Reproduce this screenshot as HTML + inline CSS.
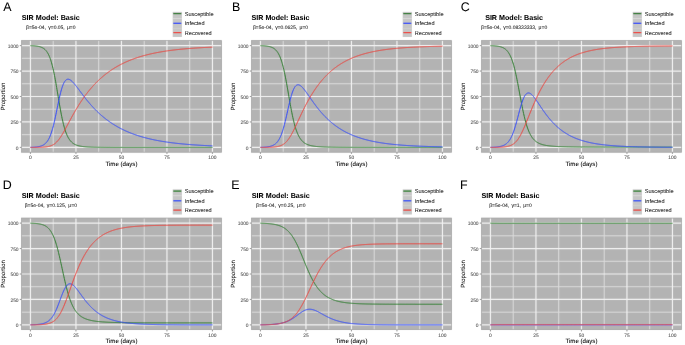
<!DOCTYPE html>
<html><head><meta charset="utf-8"><style>html,body{margin:0;padding:0;background:#fff}svg{display:block;will-change:transform} text{text-rendering:geometricPrecision;stroke-width:0.06px;stroke-linejoin:round}</style></head>
<body><svg xml:space="preserve" width="685" height="345" viewBox="0 0 685 345">
<defs><filter id="bl" x="0" y="0" width="685" height="345" filterUnits="userSpaceOnUse"><feConvolveMatrix order="3" kernelMatrix="0.00276 0.04704 0.00276 0.04704 0.80077 0.04704 0.00276 0.04704 0.00276" edgeMode="duplicate" preserveAlpha="true"/></filter></defs>
<g filter="url(#bl)"><rect width="685" height="345" fill="#fff"/>
<g transform="translate(0,0)">
<rect x="172.7" y="11.9" width="9.2" height="25.1" fill="#c6c6c6"/>
<rect x="172.7" y="18.0" width="9.2" height="0.6" fill="#e4e4e4"/>
<rect x="172.7" y="28.0" width="9.2" height="0.5" fill="#d4d4d4"/>
<line x1="173.3" x2="181.3" y1="13.60" y2="13.60" stroke="#1c771c" stroke-width="1.2"/>
<line x1="173.3" x2="181.3" y1="23.30" y2="23.30" stroke="#1f3dff" stroke-width="1.2"/>
<line x1="173.3" x2="181.3" y1="32.60" y2="32.60" stroke="#f0342c" stroke-width="1.2"/>
<rect x="21.2" y="40.3" width="200.60000000000002" height="112.2" fill="#b3b3b3"/>
<line x1="53.20" x2="53.20" y1="40.3" y2="152.5" stroke="#dcdcdc" stroke-width="1.0"/>
<line x1="98.70" x2="98.70" y1="40.3" y2="152.5" stroke="#dcdcdc" stroke-width="1.0"/>
<line x1="144.20" x2="144.20" y1="40.3" y2="152.5" stroke="#dcdcdc" stroke-width="1.0"/>
<line x1="189.70" x2="189.70" y1="40.3" y2="152.5" stroke="#dcdcdc" stroke-width="1.0"/>
<line y1="134.68" y2="134.68" x1="21.2" x2="221.8" stroke="#dcdcdc" stroke-width="1.0"/>
<line y1="109.22" y2="109.22" x1="21.2" x2="221.8" stroke="#dcdcdc" stroke-width="1.0"/>
<line y1="83.78" y2="83.78" x1="21.2" x2="221.8" stroke="#dcdcdc" stroke-width="1.0"/>
<line y1="58.32" y2="58.32" x1="21.2" x2="221.8" stroke="#dcdcdc" stroke-width="1.0"/>
<line x1="30.45" x2="30.45" y1="40.3" y2="152.5" stroke="#f2f2f2" stroke-width="1.2"/>
<line x1="75.95" x2="75.95" y1="40.3" y2="152.5" stroke="#f2f2f2" stroke-width="1.2"/>
<line x1="121.45" x2="121.45" y1="40.3" y2="152.5" stroke="#f2f2f2" stroke-width="1.2"/>
<line x1="166.95" x2="166.95" y1="40.3" y2="152.5" stroke="#f2f2f2" stroke-width="1.2"/>
<line x1="212.45" x2="212.45" y1="40.3" y2="152.5" stroke="#f2f2f2" stroke-width="1.2"/>
<line y1="147.40" y2="147.40" x1="21.2" x2="221.8" stroke="#f2f2f2" stroke-width="1.2"/>
<line y1="121.95" y2="121.95" x1="21.2" x2="221.8" stroke="#f2f2f2" stroke-width="1.2"/>
<line y1="96.50" y2="96.50" x1="21.2" x2="221.8" stroke="#f2f2f2" stroke-width="1.2"/>
<line y1="71.05" y2="71.05" x1="21.2" x2="221.8" stroke="#f2f2f2" stroke-width="1.2"/>
<line y1="45.60" y2="45.60" x1="21.2" x2="221.8" stroke="#f2f2f2" stroke-width="1.2"/>
<rect x="21.55" y="40.65" width="199.90000000000003" height="111.5" fill="none" stroke="#a4a4a4" stroke-width="0.7"/>
<polyline points="30.45,45.70 30.81,45.71 31.18,45.72 31.54,45.74 31.91,45.75 32.27,45.77 32.63,45.78 33.00,45.80 33.36,45.82 33.73,45.84 34.09,45.87 34.45,45.89 34.82,45.92 35.18,45.95 35.55,45.99 35.91,46.02 36.27,46.06 36.64,46.11 37.00,46.16 37.37,46.21 37.73,46.27 38.09,46.33 38.46,46.40 38.82,46.48 39.19,46.56 39.55,46.65 39.91,46.75 40.28,46.86 40.64,46.98 41.01,47.11 41.37,47.25 41.73,47.40 42.10,47.57 42.46,47.75 42.83,47.95 43.19,48.16 43.55,48.40 43.92,48.65 44.28,48.93 44.65,49.24 45.01,49.56 45.37,49.92 45.74,50.31 46.10,50.73 46.47,51.19 46.83,51.68 47.19,52.22 47.56,52.79 47.92,53.42 48.29,54.09 48.65,54.81 49.01,55.59 49.38,56.43 49.74,57.33 50.11,58.29 50.47,59.31 50.83,60.41 51.20,61.57 51.56,62.81 51.93,64.12 52.29,65.51 52.65,66.97 53.02,68.51 53.38,70.12 53.75,71.81 54.11,73.56 54.47,75.39 54.84,77.28 55.20,79.23 55.57,81.23 55.93,83.29 56.29,85.39 56.66,87.52 57.02,89.68 57.39,91.86 57.75,94.06 58.11,96.25 58.48,98.44 58.84,100.61 59.21,102.77 59.57,104.89 59.93,106.97 60.30,109.02 60.66,111.01 61.03,112.94 61.39,114.82 61.75,116.63 62.12,118.38 62.48,120.05 62.85,121.66 63.21,123.19 63.57,124.65 63.94,126.04 64.30,127.36 64.67,128.61 65.03,129.79 65.39,130.91 65.76,131.96 66.12,132.95 66.49,133.87 66.85,134.75 67.21,135.56 67.58,136.33 67.94,137.05 68.31,137.72 68.67,138.34 69.03,138.93 69.40,139.48 69.76,139.99 70.13,140.46 70.49,140.91 70.85,141.32 71.22,141.71 71.58,142.07 71.95,142.41 72.31,142.72 72.67,143.01 73.04,143.28 73.40,143.54 73.77,143.77 74.13,144.00 74.49,144.20 74.86,144.39 75.22,144.57 75.59,144.74 75.95,144.90 76.31,145.04 76.68,145.18 77.04,145.31 77.41,145.43 77.77,145.54 78.13,145.65 78.50,145.74 78.86,145.83 79.23,145.92 79.59,146.00 79.95,146.08 80.32,146.15 80.68,146.21 81.05,146.28 81.41,146.34 81.77,146.39 82.14,146.44 82.50,146.49 82.87,146.54 83.23,146.58 83.59,146.62 83.96,146.66 84.32,146.69 84.69,146.73 85.05,146.76 85.41,146.79 85.78,146.82 86.14,146.85 86.51,146.87 86.87,146.90 87.23,146.92 87.60,146.94 87.96,146.96 88.33,146.98 88.69,147.00 89.05,147.02 89.42,147.03 89.78,147.05 90.15,147.06 90.51,147.08 90.87,147.09 91.24,147.10 91.60,147.11 91.97,147.13 92.33,147.14 92.69,147.15 93.06,147.16 93.42,147.17 93.79,147.17 94.15,147.18 94.51,147.19 94.88,147.20 95.24,147.21 95.61,147.21 95.97,147.22 96.33,147.23 96.70,147.23 97.06,147.24 97.43,147.24 97.79,147.25 98.15,147.25 98.52,147.26 98.88,147.26 99.25,147.27 99.61,147.27 99.97,147.28 100.34,147.28 100.70,147.28 101.07,147.29 101.43,147.29 101.79,147.30 102.16,147.30 102.52,147.30 102.89,147.30 103.25,147.31 103.61,147.31 103.98,147.31 104.34,147.32 104.71,147.32 105.07,147.32 105.43,147.32 105.80,147.32 106.16,147.33 106.53,147.33 106.89,147.33 107.25,147.33 107.62,147.33 107.98,147.34 108.35,147.34 108.71,147.34 109.07,147.34 109.44,147.34 109.80,147.34 110.17,147.34 110.53,147.35 110.89,147.35 111.26,147.35 111.62,147.35 111.99,147.35 112.35,147.35 112.71,147.35 113.08,147.35 113.44,147.36 113.81,147.36 114.17,147.36 114.53,147.36 114.90,147.36 115.26,147.36 115.63,147.36 115.99,147.36 116.35,147.36 116.72,147.36 117.08,147.36 117.45,147.36 117.81,147.37 118.17,147.37 118.54,147.37 118.90,147.37 119.27,147.37 119.63,147.37 119.99,147.37 120.36,147.37 120.72,147.37 121.09,147.37 121.45,147.37 121.81,147.37 122.18,147.37 122.54,147.37 122.91,147.37 123.27,147.37 123.63,147.37 124.00,147.37 124.36,147.38 124.73,147.38 125.09,147.38 125.45,147.38 125.82,147.38 126.18,147.38 126.55,147.38 126.91,147.38 127.27,147.38 127.64,147.38 128.00,147.38 128.37,147.38 128.73,147.38 129.09,147.38 129.46,147.38 129.82,147.38 130.19,147.38 130.55,147.38 130.91,147.38 131.28,147.38 131.64,147.38 132.01,147.38 132.37,147.38 132.73,147.38 133.10,147.38 133.46,147.38 133.83,147.38 134.19,147.38 134.55,147.38 134.92,147.38 135.28,147.38 135.65,147.38 136.01,147.38 136.37,147.38 136.74,147.38 137.10,147.38 137.47,147.39 137.83,147.39 138.19,147.39 138.56,147.39 138.92,147.39 139.29,147.39 139.65,147.39 140.01,147.39 140.38,147.39 140.74,147.39 141.11,147.39 141.47,147.39 141.83,147.39 142.20,147.39 142.56,147.39 142.93,147.39 143.29,147.39 143.65,147.39 144.02,147.39 144.38,147.39 144.75,147.39 145.11,147.39 145.47,147.39 145.84,147.39 146.20,147.39 146.57,147.39 146.93,147.39 147.29,147.39 147.66,147.39 148.02,147.39 148.39,147.39 148.75,147.39 149.11,147.39 149.48,147.39 149.84,147.39 150.21,147.39 150.57,147.39 150.93,147.39 151.30,147.39 151.66,147.39 152.03,147.39 152.39,147.39 152.75,147.39 153.12,147.39 153.48,147.39 153.85,147.39 154.21,147.39 154.57,147.39 154.94,147.39 155.30,147.39 155.67,147.39 156.03,147.39 156.39,147.39 156.76,147.39 157.12,147.39 157.49,147.39 157.85,147.39 158.21,147.39 158.58,147.39 158.94,147.39 159.31,147.39 159.67,147.39 160.03,147.39 160.40,147.39 160.76,147.39 161.13,147.39 161.49,147.39 161.85,147.39 162.22,147.39 162.58,147.39 162.95,147.39 163.31,147.39 163.67,147.39 164.04,147.39 164.40,147.39 164.77,147.39 165.13,147.39 165.49,147.39 165.86,147.39 166.22,147.39 166.59,147.39 166.95,147.39 167.31,147.39 167.68,147.39 168.04,147.39 168.41,147.39 168.77,147.39 169.13,147.39 169.50,147.39 169.86,147.39 170.23,147.39 170.59,147.39 170.95,147.39 171.32,147.39 171.68,147.39 172.05,147.39 172.41,147.39 172.77,147.39 173.14,147.39 173.50,147.39 173.87,147.39 174.23,147.39 174.59,147.39 174.96,147.39 175.32,147.39 175.69,147.39 176.05,147.39 176.41,147.39 176.78,147.39 177.14,147.39 177.51,147.39 177.87,147.39 178.23,147.39 178.60,147.39 178.96,147.39 179.33,147.39 179.69,147.39 180.05,147.39 180.42,147.39 180.78,147.39 181.15,147.39 181.51,147.39 181.87,147.39 182.24,147.39 182.60,147.39 182.97,147.39 183.33,147.39 183.69,147.39 184.06,147.39 184.42,147.39 184.79,147.39 185.15,147.39 185.51,147.39 185.88,147.39 186.24,147.39 186.61,147.39 186.97,147.39 187.33,147.39 187.70,147.39 188.06,147.39 188.43,147.39 188.79,147.39 189.15,147.39 189.52,147.39 189.88,147.39 190.25,147.39 190.61,147.39 190.97,147.39 191.34,147.39 191.70,147.39 192.07,147.39 192.43,147.39 192.79,147.39 193.16,147.39 193.52,147.39 193.89,147.39 194.25,147.39 194.61,147.39 194.98,147.39 195.34,147.39 195.71,147.39 196.07,147.39 196.43,147.39 196.80,147.39 197.16,147.39 197.53,147.39 197.89,147.39 198.25,147.39 198.62,147.39 198.98,147.39 199.35,147.39 199.71,147.39 200.07,147.39 200.44,147.39 200.80,147.39 201.17,147.39 201.53,147.39 201.89,147.39 202.26,147.39 202.62,147.39 202.99,147.39 203.35,147.39 203.71,147.39 204.08,147.39 204.44,147.39 204.81,147.39 205.17,147.39 205.53,147.39 205.90,147.39 206.26,147.39 206.63,147.39 206.99,147.39 207.35,147.39 207.72,147.39 208.08,147.39 208.45,147.39 208.81,147.39 209.17,147.39 209.54,147.39 209.90,147.39 210.27,147.39 210.63,147.39 210.99,147.39 211.36,147.39 211.72,147.39 212.09,147.39 212.45,147.39" fill="none" stroke="#1c771c" stroke-width="1.0" stroke-linejoin="round"/>
<polyline points="30.45,147.30 30.81,147.29 31.18,147.28 31.54,147.27 31.91,147.25 32.27,147.24 32.63,147.23 33.00,147.21 33.36,147.19 33.73,147.17 34.09,147.15 34.45,147.13 34.82,147.10 35.18,147.07 35.55,147.04 35.91,147.01 36.27,146.97 36.64,146.93 37.00,146.89 37.37,146.84 37.73,146.79 38.09,146.73 38.46,146.67 38.82,146.60 39.19,146.53 39.55,146.44 39.91,146.35 40.28,146.26 40.64,146.15 41.01,146.04 41.37,145.91 41.73,145.77 42.10,145.62 42.46,145.46 42.83,145.28 43.19,145.09 43.55,144.88 43.92,144.65 44.28,144.40 44.65,144.12 45.01,143.83 45.37,143.51 45.74,143.16 46.10,142.79 46.47,142.38 46.83,141.94 47.19,141.46 47.56,140.94 47.92,140.39 48.29,139.79 48.65,139.14 49.01,138.45 49.38,137.71 49.74,136.91 50.11,136.06 50.47,135.15 50.83,134.18 51.20,133.15 51.56,132.06 51.93,130.91 52.29,129.70 52.65,128.42 53.02,127.08 53.38,125.68 53.75,124.21 54.11,122.70 54.47,121.13 54.84,119.51 55.20,117.84 55.57,116.14 55.93,114.41 56.29,112.65 56.66,110.87 57.02,109.08 57.39,107.30 57.75,105.51 58.11,103.75 58.48,102.00 58.84,100.29 59.21,98.62 59.57,96.99 59.93,95.42 60.30,93.90 60.66,92.45 61.03,91.07 61.39,89.77 61.75,88.54 62.12,87.39 62.48,86.32 62.85,85.33 63.21,84.42 63.57,83.59 63.94,82.84 64.30,82.17 64.67,81.58 65.03,81.06 65.39,80.61 65.76,80.23 66.12,79.92 66.49,79.66 66.85,79.47 67.21,79.33 67.58,79.25 67.94,79.21 68.31,79.22 68.67,79.28 69.03,79.37 69.40,79.50 69.76,79.67 70.13,79.87 70.49,80.10 70.85,80.36 71.22,80.64 71.58,80.95 71.95,81.27 72.31,81.62 72.67,81.98 73.04,82.36 73.40,82.76 73.77,83.17 74.13,83.59 74.49,84.02 74.86,84.45 75.22,84.90 75.59,85.36 75.95,85.82 76.31,86.29 76.68,86.76 77.04,87.23 77.41,87.71 77.77,88.20 78.13,88.68 78.50,89.17 78.86,89.66 79.23,90.15 79.59,90.64 79.95,91.12 80.32,91.61 80.68,92.10 81.05,92.59 81.41,93.08 81.77,93.56 82.14,94.05 82.50,94.53 82.87,95.01 83.23,95.49 83.59,95.97 83.96,96.44 84.32,96.91 84.69,97.38 85.05,97.85 85.41,98.31 85.78,98.77 86.14,99.23 86.51,99.68 86.87,100.13 87.23,100.58 87.60,101.02 87.96,101.46 88.33,101.90 88.69,102.34 89.05,102.77 89.42,103.19 89.78,103.62 90.15,104.04 90.51,104.46 90.87,104.87 91.24,105.28 91.60,105.69 91.97,106.09 92.33,106.49 92.69,106.89 93.06,107.28 93.42,107.67 93.79,108.06 94.15,108.44 94.51,108.82 94.88,109.20 95.24,109.57 95.61,109.94 95.97,110.31 96.33,110.67 96.70,111.03 97.06,111.38 97.43,111.74 97.79,112.09 98.15,112.43 98.52,112.78 98.88,113.12 99.25,113.45 99.61,113.79 99.97,114.12 100.34,114.44 100.70,114.77 101.07,115.09 101.43,115.41 101.79,115.72 102.16,116.03 102.52,116.34 102.89,116.65 103.25,116.95 103.61,117.25 103.98,117.55 104.34,117.84 104.71,118.14 105.07,118.43 105.43,118.71 105.80,118.99 106.16,119.28 106.53,119.55 106.89,119.83 107.25,120.10 107.62,120.37 107.98,120.64 108.35,120.90 108.71,121.16 109.07,121.42 109.44,121.68 109.80,121.94 110.17,122.19 110.53,122.44 110.89,122.68 111.26,122.93 111.62,123.17 111.99,123.41 112.35,123.65 112.71,123.88 113.08,124.12 113.44,124.35 113.81,124.58 114.17,124.80 114.53,125.03 114.90,125.25 115.26,125.47 115.63,125.68 115.99,125.90 116.35,126.11 116.72,126.32 117.08,126.53 117.45,126.74 117.81,126.94 118.17,127.15 118.54,127.35 118.90,127.55 119.27,127.74 119.63,127.94 119.99,128.13 120.36,128.32 120.72,128.51 121.09,128.70 121.45,128.89 121.81,129.07 122.18,129.25 122.54,129.43 122.91,129.61 123.27,129.79 123.63,129.96 124.00,130.13 124.36,130.31 124.73,130.48 125.09,130.64 125.45,130.81 125.82,130.97 126.18,131.14 126.55,131.30 126.91,131.46 127.27,131.62 127.64,131.77 128.00,131.93 128.37,132.08 128.73,132.23 129.09,132.39 129.46,132.53 129.82,132.68 130.19,132.83 130.55,132.97 130.91,133.12 131.28,133.26 131.64,133.40 132.01,133.54 132.37,133.68 132.73,133.81 133.10,133.95 133.46,134.08 133.83,134.21 134.19,134.34 134.55,134.47 134.92,134.60 135.28,134.73 135.65,134.85 136.01,134.98 136.37,135.10 136.74,135.22 137.10,135.35 137.47,135.47 137.83,135.58 138.19,135.70 138.56,135.82 138.92,135.93 139.29,136.05 139.65,136.16 140.01,136.27 140.38,136.38 140.74,136.49 141.11,136.60 141.47,136.71 141.83,136.81 142.20,136.92 142.56,137.02 142.93,137.13 143.29,137.23 143.65,137.33 144.02,137.43 144.38,137.53 144.75,137.63 145.11,137.72 145.47,137.82 145.84,137.91 146.20,138.01 146.57,138.10 146.93,138.19 147.29,138.29 147.66,138.38 148.02,138.47 148.39,138.56 148.75,138.64 149.11,138.73 149.48,138.82 149.84,138.90 150.21,138.99 150.57,139.07 150.93,139.15 151.30,139.23 151.66,139.32 152.03,139.40 152.39,139.48 152.75,139.55 153.12,139.63 153.48,139.71 153.85,139.79 154.21,139.86 154.57,139.94 154.94,140.01 155.30,140.08 155.67,140.16 156.03,140.23 156.39,140.30 156.76,140.37 157.12,140.44 157.49,140.51 157.85,140.58 158.21,140.65 158.58,140.71 158.94,140.78 159.31,140.85 159.67,140.91 160.03,140.98 160.40,141.04 160.76,141.10 161.13,141.17 161.49,141.23 161.85,141.29 162.22,141.35 162.58,141.41 162.95,141.47 163.31,141.53 163.67,141.59 164.04,141.64 164.40,141.70 164.77,141.76 165.13,141.81 165.49,141.87 165.86,141.92 166.22,141.98 166.59,142.03 166.95,142.09 167.31,142.14 167.68,142.19 168.04,142.24 168.41,142.29 168.77,142.35 169.13,142.40 169.50,142.45 169.86,142.49 170.23,142.54 170.59,142.59 170.95,142.64 171.32,142.69 171.68,142.73 172.05,142.78 172.41,142.83 172.77,142.87 173.14,142.92 173.50,142.96 173.87,143.01 174.23,143.05 174.59,143.09 174.96,143.14 175.32,143.18 175.69,143.22 176.05,143.26 176.41,143.30 176.78,143.34 177.14,143.38 177.51,143.42 177.87,143.46 178.23,143.50 178.60,143.54 178.96,143.58 179.33,143.62 179.69,143.65 180.05,143.69 180.42,143.73 180.78,143.77 181.15,143.80 181.51,143.84 181.87,143.87 182.24,143.91 182.60,143.94 182.97,143.98 183.33,144.01 183.69,144.04 184.06,144.08 184.42,144.11 184.79,144.14 185.15,144.18 185.51,144.21 185.88,144.24 186.24,144.27 186.61,144.30 186.97,144.33 187.33,144.36 187.70,144.39 188.06,144.42 188.43,144.45 188.79,144.48 189.15,144.51 189.52,144.54 189.88,144.57 190.25,144.60 190.61,144.62 190.97,144.65 191.34,144.68 191.70,144.71 192.07,144.73 192.43,144.76 192.79,144.79 193.16,144.81 193.52,144.84 193.89,144.86 194.25,144.89 194.61,144.91 194.98,144.94 195.34,144.96 195.71,144.99 196.07,145.01 196.43,145.03 196.80,145.06 197.16,145.08 197.53,145.10 197.89,145.13 198.25,145.15 198.62,145.17 198.98,145.19 199.35,145.22 199.71,145.24 200.07,145.26 200.44,145.28 200.80,145.30 201.17,145.32 201.53,145.34 201.89,145.36 202.26,145.38 202.62,145.40 202.99,145.42 203.35,145.44 203.71,145.46 204.08,145.48 204.44,145.50 204.81,145.52 205.17,145.54 205.53,145.56 205.90,145.58 206.26,145.59 206.63,145.61 206.99,145.63 207.35,145.65 207.72,145.67 208.08,145.68 208.45,145.70 208.81,145.72 209.17,145.73 209.54,145.75 209.90,145.77 210.27,145.78 210.63,145.80 210.99,145.81 211.36,145.83 211.72,145.85 212.09,145.86 212.45,145.88" fill="none" stroke="#1f3dff" stroke-width="1.0" stroke-linejoin="round"/>
<polyline points="30.45,147.40 30.81,147.40 31.18,147.40 31.54,147.40 31.91,147.40 32.27,147.39 32.63,147.39 33.00,147.39 33.36,147.39 33.73,147.39 34.09,147.38 34.45,147.38 34.82,147.38 35.18,147.37 35.55,147.37 35.91,147.37 36.27,147.36 36.64,147.36 37.00,147.35 37.37,147.35 37.73,147.34 38.09,147.34 38.46,147.33 38.82,147.32 39.19,147.31 39.55,147.30 39.91,147.29 40.28,147.28 40.64,147.27 41.01,147.26 41.37,147.24 41.73,147.23 42.10,147.21 42.46,147.19 42.83,147.17 43.19,147.15 43.55,147.13 43.92,147.10 44.28,147.07 44.65,147.04 45.01,147.01 45.37,146.97 45.74,146.93 46.10,146.88 46.47,146.84 46.83,146.78 47.19,146.73 47.56,146.66 47.92,146.60 48.29,146.52 48.65,146.44 49.01,146.36 49.38,146.27 49.74,146.16 50.11,146.06 50.47,145.94 50.83,145.81 51.20,145.67 51.56,145.52 51.93,145.37 52.29,145.19 52.65,145.01 53.02,144.82 53.38,144.60 53.75,144.38 54.11,144.14 54.47,143.89 54.84,143.62 55.20,143.33 55.57,143.02 55.93,142.70 56.29,142.36 56.66,142.01 57.02,141.63 57.39,141.24 57.75,140.83 58.11,140.40 58.48,139.96 58.84,139.50 59.21,139.02 59.57,138.52 59.93,138.01 60.30,137.48 60.66,136.94 61.03,136.38 61.39,135.81 61.75,135.23 62.12,134.64 62.48,134.03 62.85,133.41 63.21,132.79 63.57,132.15 63.94,131.51 64.30,130.86 64.67,130.21 65.03,129.55 65.39,128.88 65.76,128.21 66.12,127.54 66.49,126.86 66.85,126.18 67.21,125.50 67.58,124.82 67.94,124.14 68.31,123.46 68.67,122.78 69.03,122.10 69.40,121.42 69.76,120.74 70.13,120.06 70.49,119.39 70.85,118.72 71.22,118.05 71.58,117.38 71.95,116.72 72.31,116.06 72.67,115.40 73.04,114.75 73.40,114.10 73.77,113.46 74.13,112.82 74.49,112.18 74.86,111.55 75.22,110.92 75.59,110.30 75.95,109.68 76.31,109.07 76.68,108.46 77.04,107.86 77.41,107.26 77.77,106.66 78.13,106.07 78.50,105.49 78.86,104.91 79.23,104.33 79.59,103.76 79.95,103.20 80.32,102.64 80.68,102.08 81.05,101.53 81.41,100.99 81.77,100.45 82.14,99.91 82.50,99.38 82.87,98.85 83.23,98.33 83.59,97.81 83.96,97.30 84.32,96.79 84.69,96.29 85.05,95.79 85.41,95.30 85.78,94.81 86.14,94.33 86.51,93.85 86.87,93.37 87.23,92.90 87.60,92.44 87.96,91.98 88.33,91.52 88.69,91.07 89.05,90.62 89.42,90.17 89.78,89.73 90.15,89.30 90.51,88.87 90.87,88.44 91.24,88.02 91.60,87.60 91.97,87.18 92.33,86.77 92.69,86.36 93.06,85.96 93.42,85.56 93.79,85.17 94.15,84.77 94.51,84.39 94.88,84.00 95.24,83.62 95.61,83.25 95.97,82.87 96.33,82.50 96.70,82.14 97.06,81.78 97.43,81.42 97.79,81.06 98.15,80.71 98.52,80.36 98.88,80.02 99.25,79.68 99.61,79.34 99.97,79.01 100.34,78.67 100.70,78.35 101.07,78.02 101.43,77.70 101.79,77.38 102.16,77.07 102.52,76.75 102.89,76.45 103.25,76.14 103.61,75.84 103.98,75.54 104.34,75.24 104.71,74.95 105.07,74.65 105.43,74.37 105.80,74.08 106.16,73.80 106.53,73.52 106.89,73.24 107.25,72.97 107.62,72.70 107.98,72.43 108.35,72.16 108.71,71.90 109.07,71.64 109.44,71.38 109.80,71.12 110.17,70.87 110.53,70.62 110.89,70.37 111.26,70.12 111.62,69.88 111.99,69.64 112.35,69.40 112.71,69.16 113.08,68.93 113.44,68.70 113.81,68.47 114.17,68.24 114.53,68.02 114.90,67.79 115.26,67.57 115.63,67.35 115.99,67.14 116.35,66.92 116.72,66.71 117.08,66.50 117.45,66.30 117.81,66.09 118.17,65.89 118.54,65.68 118.90,65.49 119.27,65.29 119.63,65.09 119.99,64.90 120.36,64.71 120.72,64.52 121.09,64.33 121.45,64.14 121.81,63.96 122.18,63.78 122.54,63.60 122.91,63.42 123.27,63.24 123.63,63.06 124.00,62.89 124.36,62.72 124.73,62.55 125.09,62.38 125.45,62.21 125.82,62.05 126.18,61.89 126.55,61.72 126.91,61.56 127.27,61.40 127.64,61.25 128.00,61.09 128.37,60.94 128.73,60.79 129.09,60.64 129.46,60.49 129.82,60.34 130.19,60.19 130.55,60.05 130.91,59.90 131.28,59.76 131.64,59.62 132.01,59.48 132.37,59.34 132.73,59.21 133.10,59.07 133.46,58.94 133.83,58.80 134.19,58.67 134.55,58.54 134.92,58.41 135.28,58.29 135.65,58.16 136.01,58.04 136.37,57.91 136.74,57.79 137.10,57.67 137.47,57.55 137.83,57.43 138.19,57.31 138.56,57.20 138.92,57.08 139.29,56.97 139.65,56.85 140.01,56.74 140.38,56.63 140.74,56.52 141.11,56.41 141.47,56.31 141.83,56.20 142.20,56.09 142.56,55.99 142.93,55.89 143.29,55.78 143.65,55.68 144.02,55.58 144.38,55.48 144.75,55.39 145.11,55.29 145.47,55.19 145.84,55.10 146.20,55.00 146.57,54.91 146.93,54.82 147.29,54.72 147.66,54.63 148.02,54.54 148.39,54.46 148.75,54.37 149.11,54.28 149.48,54.19 149.84,54.11 150.21,54.02 150.57,53.94 150.93,53.86 151.30,53.78 151.66,53.69 152.03,53.61 152.39,53.53 152.75,53.46 153.12,53.38 153.48,53.30 153.85,53.22 154.21,53.15 154.57,53.07 154.94,53.00 155.30,52.93 155.67,52.85 156.03,52.78 156.39,52.71 156.76,52.64 157.12,52.57 157.49,52.50 157.85,52.43 158.21,52.36 158.58,52.30 158.94,52.23 159.31,52.16 159.67,52.10 160.03,52.03 160.40,51.97 160.76,51.91 161.13,51.84 161.49,51.78 161.85,51.72 162.22,51.66 162.58,51.60 162.95,51.54 163.31,51.48 163.67,51.42 164.04,51.36 164.40,51.31 164.77,51.25 165.13,51.19 165.49,51.14 165.86,51.08 166.22,51.03 166.59,50.97 166.95,50.92 167.31,50.87 167.68,50.82 168.04,50.76 168.41,50.71 168.77,50.66 169.13,50.61 169.50,50.56 169.86,50.51 170.23,50.46 170.59,50.42 170.95,50.37 171.32,50.32 171.68,50.27 172.05,50.23 172.41,50.18 172.77,50.14 173.14,50.09 173.50,50.05 173.87,50.00 174.23,49.96 174.59,49.91 174.96,49.87 175.32,49.83 175.69,49.79 176.05,49.75 176.41,49.70 176.78,49.66 177.14,49.62 177.51,49.58 177.87,49.54 178.23,49.50 178.60,49.47 178.96,49.43 179.33,49.39 179.69,49.35 180.05,49.31 180.42,49.28 180.78,49.24 181.15,49.21 181.51,49.17 181.87,49.13 182.24,49.10 182.60,49.06 182.97,49.03 183.33,49.00 183.69,48.96 184.06,48.93 184.42,48.90 184.79,48.86 185.15,48.83 185.51,48.80 185.88,48.77 186.24,48.74 186.61,48.70 186.97,48.67 187.33,48.64 187.70,48.61 188.06,48.58 188.43,48.55 188.79,48.52 189.15,48.49 189.52,48.47 189.88,48.44 190.25,48.41 190.61,48.38 190.97,48.35 191.34,48.33 191.70,48.30 192.07,48.27 192.43,48.25 192.79,48.22 193.16,48.19 193.52,48.17 193.89,48.14 194.25,48.12 194.61,48.09 194.98,48.07 195.34,48.04 195.71,48.02 196.07,47.99 196.43,47.97 196.80,47.95 197.16,47.92 197.53,47.90 197.89,47.88 198.25,47.86 198.62,47.83 198.98,47.81 199.35,47.79 199.71,47.77 200.07,47.75 200.44,47.72 200.80,47.70 201.17,47.68 201.53,47.66 201.89,47.64 202.26,47.62 202.62,47.60 202.99,47.58 203.35,47.56 203.71,47.54 204.08,47.52 204.44,47.50 204.81,47.48 205.17,47.47 205.53,47.45 205.90,47.43 206.26,47.41 206.63,47.39 206.99,47.38 207.35,47.36 207.72,47.34 208.08,47.32 208.45,47.31 208.81,47.29 209.17,47.27 209.54,47.26 209.90,47.24 210.27,47.22 210.63,47.21 210.99,47.19 211.36,47.18 211.72,47.16 212.09,47.14 212.45,47.13" fill="none" stroke="#f0342c" stroke-width="1.0" stroke-linejoin="round"/>
<line x1="30.45" x2="30.45" y1="152.5" y2="153.9" stroke="#333" stroke-width="0.6"/>
<line x1="75.95" x2="75.95" y1="152.5" y2="153.9" stroke="#333" stroke-width="0.6"/>
<line x1="121.45" x2="121.45" y1="152.5" y2="153.9" stroke="#333" stroke-width="0.6"/>
<line x1="166.95" x2="166.95" y1="152.5" y2="153.9" stroke="#333" stroke-width="0.6"/>
<line x1="212.45" x2="212.45" y1="152.5" y2="153.9" stroke="#333" stroke-width="0.6"/>
<line y1="147.40" y2="147.40" x1="19.8" x2="21.2" stroke="#333" stroke-width="0.6"/>
<line y1="121.95" y2="121.95" x1="19.8" x2="21.2" stroke="#333" stroke-width="0.6"/>
<line y1="96.50" y2="96.50" x1="19.8" x2="21.2" stroke="#333" stroke-width="0.6"/>
<line y1="71.05" y2="71.05" x1="19.8" x2="21.2" stroke="#333" stroke-width="0.6"/>
<line y1="45.60" y2="45.60" x1="19.8" x2="21.2" stroke="#333" stroke-width="0.6"/>
</g>
<g transform="translate(230,0)">
<rect x="172.7" y="11.9" width="9.2" height="25.1" fill="#c6c6c6"/>
<rect x="172.7" y="18.0" width="9.2" height="0.6" fill="#e4e4e4"/>
<rect x="172.7" y="28.0" width="9.2" height="0.5" fill="#d4d4d4"/>
<line x1="173.3" x2="181.3" y1="13.60" y2="13.60" stroke="#1c771c" stroke-width="1.2"/>
<line x1="173.3" x2="181.3" y1="23.30" y2="23.30" stroke="#1f3dff" stroke-width="1.2"/>
<line x1="173.3" x2="181.3" y1="32.60" y2="32.60" stroke="#f0342c" stroke-width="1.2"/>
<rect x="21.2" y="40.3" width="200.60000000000002" height="112.2" fill="#b3b3b3"/>
<line x1="53.20" x2="53.20" y1="40.3" y2="152.5" stroke="#dcdcdc" stroke-width="1.0"/>
<line x1="98.70" x2="98.70" y1="40.3" y2="152.5" stroke="#dcdcdc" stroke-width="1.0"/>
<line x1="144.20" x2="144.20" y1="40.3" y2="152.5" stroke="#dcdcdc" stroke-width="1.0"/>
<line x1="189.70" x2="189.70" y1="40.3" y2="152.5" stroke="#dcdcdc" stroke-width="1.0"/>
<line y1="134.68" y2="134.68" x1="21.2" x2="221.8" stroke="#dcdcdc" stroke-width="1.0"/>
<line y1="109.22" y2="109.22" x1="21.2" x2="221.8" stroke="#dcdcdc" stroke-width="1.0"/>
<line y1="83.78" y2="83.78" x1="21.2" x2="221.8" stroke="#dcdcdc" stroke-width="1.0"/>
<line y1="58.32" y2="58.32" x1="21.2" x2="221.8" stroke="#dcdcdc" stroke-width="1.0"/>
<line x1="30.45" x2="30.45" y1="40.3" y2="152.5" stroke="#f2f2f2" stroke-width="1.2"/>
<line x1="75.95" x2="75.95" y1="40.3" y2="152.5" stroke="#f2f2f2" stroke-width="1.2"/>
<line x1="121.45" x2="121.45" y1="40.3" y2="152.5" stroke="#f2f2f2" stroke-width="1.2"/>
<line x1="166.95" x2="166.95" y1="40.3" y2="152.5" stroke="#f2f2f2" stroke-width="1.2"/>
<line x1="212.45" x2="212.45" y1="40.3" y2="152.5" stroke="#f2f2f2" stroke-width="1.2"/>
<line y1="147.40" y2="147.40" x1="21.2" x2="221.8" stroke="#f2f2f2" stroke-width="1.2"/>
<line y1="121.95" y2="121.95" x1="21.2" x2="221.8" stroke="#f2f2f2" stroke-width="1.2"/>
<line y1="96.50" y2="96.50" x1="21.2" x2="221.8" stroke="#f2f2f2" stroke-width="1.2"/>
<line y1="71.05" y2="71.05" x1="21.2" x2="221.8" stroke="#f2f2f2" stroke-width="1.2"/>
<line y1="45.60" y2="45.60" x1="21.2" x2="221.8" stroke="#f2f2f2" stroke-width="1.2"/>
<rect x="21.55" y="40.65" width="199.90000000000003" height="111.5" fill="none" stroke="#a4a4a4" stroke-width="0.7"/>
<polyline points="30.45,45.70 30.81,45.71 31.18,45.72 31.54,45.74 31.91,45.75 32.27,45.77 32.63,45.78 33.00,45.80 33.36,45.82 33.73,45.84 34.09,45.86 34.45,45.89 34.82,45.92 35.18,45.95 35.55,45.98 35.91,46.02 36.27,46.06 36.64,46.10 37.00,46.15 37.37,46.20 37.73,46.25 38.09,46.31 38.46,46.38 38.82,46.45 39.19,46.53 39.55,46.61 39.91,46.71 40.28,46.81 40.64,46.92 41.01,47.04 41.37,47.17 41.73,47.31 42.10,47.46 42.46,47.63 42.83,47.82 43.19,48.01 43.55,48.23 43.92,48.46 44.28,48.72 44.65,49.00 45.01,49.29 45.37,49.62 45.74,49.97 46.10,50.35 46.47,50.76 46.83,51.21 47.19,51.69 47.56,52.21 47.92,52.77 48.29,53.38 48.65,54.02 49.01,54.72 49.38,55.47 49.74,56.27 50.11,57.13 50.47,58.05 50.83,59.03 51.20,60.07 51.56,61.18 51.93,62.36 52.29,63.60 52.65,64.92 53.02,66.30 53.38,67.75 53.75,69.28 54.11,70.87 54.47,72.53 54.84,74.26 55.20,76.05 55.57,77.90 55.93,79.80 56.29,81.75 56.66,83.74 57.02,85.77 57.39,87.83 57.75,89.91 58.11,92.01 58.48,94.12 58.84,96.23 59.21,98.33 59.57,100.41 59.93,102.48 60.30,104.51 60.66,106.51 61.03,108.47 61.39,110.38 61.75,112.25 62.12,114.05 62.48,115.80 62.85,117.49 63.21,119.11 63.57,120.67 63.94,122.16 64.30,123.58 64.67,124.94 65.03,126.24 65.39,127.47 65.76,128.63 66.12,129.74 66.49,130.78 66.85,131.76 67.21,132.69 67.58,133.57 67.94,134.40 68.31,135.17 68.67,135.90 69.03,136.59 69.40,137.23 69.76,137.83 70.13,138.40 70.49,138.93 70.85,139.43 71.22,139.89 71.58,140.33 71.95,140.74 72.31,141.12 72.67,141.48 73.04,141.81 73.40,142.13 73.77,142.42 74.13,142.70 74.49,142.96 74.86,143.20 75.22,143.43 75.59,143.64 75.95,143.84 76.31,144.03 76.68,144.21 77.04,144.38 77.41,144.53 77.77,144.68 78.13,144.81 78.50,144.94 78.86,145.07 79.23,145.18 79.59,145.29 79.95,145.39 80.32,145.48 80.68,145.58 81.05,145.66 81.41,145.74 81.77,145.82 82.14,145.89 82.50,145.95 82.87,146.02 83.23,146.08 83.59,146.14 83.96,146.19 84.32,146.24 84.69,146.29 85.05,146.34 85.41,146.38 85.78,146.42 86.14,146.46 86.51,146.50 86.87,146.53 87.23,146.57 87.60,146.60 87.96,146.63 88.33,146.66 88.69,146.68 89.05,146.71 89.42,146.73 89.78,146.76 90.15,146.78 90.51,146.80 90.87,146.82 91.24,146.84 91.60,146.86 91.97,146.88 92.33,146.90 92.69,146.91 93.06,146.93 93.42,146.94 93.79,146.96 94.15,146.97 94.51,146.98 94.88,147.00 95.24,147.01 95.61,147.02 95.97,147.03 96.33,147.04 96.70,147.05 97.06,147.06 97.43,147.07 97.79,147.08 98.15,147.09 98.52,147.10 98.88,147.11 99.25,147.11 99.61,147.12 99.97,147.13 100.34,147.13 100.70,147.14 101.07,147.15 101.43,147.15 101.79,147.16 102.16,147.17 102.52,147.17 102.89,147.18 103.25,147.18 103.61,147.19 103.98,147.19 104.34,147.20 104.71,147.20 105.07,147.20 105.43,147.21 105.80,147.21 106.16,147.22 106.53,147.22 106.89,147.22 107.25,147.23 107.62,147.23 107.98,147.23 108.35,147.24 108.71,147.24 109.07,147.24 109.44,147.25 109.80,147.25 110.17,147.25 110.53,147.25 110.89,147.26 111.26,147.26 111.62,147.26 111.99,147.26 112.35,147.27 112.71,147.27 113.08,147.27 113.44,147.27 113.81,147.28 114.17,147.28 114.53,147.28 114.90,147.28 115.26,147.28 115.63,147.28 115.99,147.29 116.35,147.29 116.72,147.29 117.08,147.29 117.45,147.29 117.81,147.29 118.17,147.30 118.54,147.30 118.90,147.30 119.27,147.30 119.63,147.30 119.99,147.30 120.36,147.30 120.72,147.30 121.09,147.31 121.45,147.31 121.81,147.31 122.18,147.31 122.54,147.31 122.91,147.31 123.27,147.31 123.63,147.31 124.00,147.31 124.36,147.32 124.73,147.32 125.09,147.32 125.45,147.32 125.82,147.32 126.18,147.32 126.55,147.32 126.91,147.32 127.27,147.32 127.64,147.32 128.00,147.32 128.37,147.32 128.73,147.33 129.09,147.33 129.46,147.33 129.82,147.33 130.19,147.33 130.55,147.33 130.91,147.33 131.28,147.33 131.64,147.33 132.01,147.33 132.37,147.33 132.73,147.33 133.10,147.33 133.46,147.33 133.83,147.33 134.19,147.33 134.55,147.34 134.92,147.34 135.28,147.34 135.65,147.34 136.01,147.34 136.37,147.34 136.74,147.34 137.10,147.34 137.47,147.34 137.83,147.34 138.19,147.34 138.56,147.34 138.92,147.34 139.29,147.34 139.65,147.34 140.01,147.34 140.38,147.34 140.74,147.34 141.11,147.34 141.47,147.34 141.83,147.34 142.20,147.34 142.56,147.34 142.93,147.34 143.29,147.35 143.65,147.35 144.02,147.35 144.38,147.35 144.75,147.35 145.11,147.35 145.47,147.35 145.84,147.35 146.20,147.35 146.57,147.35 146.93,147.35 147.29,147.35 147.66,147.35 148.02,147.35 148.39,147.35 148.75,147.35 149.11,147.35 149.48,147.35 149.84,147.35 150.21,147.35 150.57,147.35 150.93,147.35 151.30,147.35 151.66,147.35 152.03,147.35 152.39,147.35 152.75,147.35 153.12,147.35 153.48,147.35 153.85,147.35 154.21,147.35 154.57,147.35 154.94,147.35 155.30,147.35 155.67,147.35 156.03,147.35 156.39,147.35 156.76,147.35 157.12,147.35 157.49,147.35 157.85,147.35 158.21,147.35 158.58,147.35 158.94,147.35 159.31,147.36 159.67,147.36 160.03,147.36 160.40,147.36 160.76,147.36 161.13,147.36 161.49,147.36 161.85,147.36 162.22,147.36 162.58,147.36 162.95,147.36 163.31,147.36 163.67,147.36 164.04,147.36 164.40,147.36 164.77,147.36 165.13,147.36 165.49,147.36 165.86,147.36 166.22,147.36 166.59,147.36 166.95,147.36 167.31,147.36 167.68,147.36 168.04,147.36 168.41,147.36 168.77,147.36 169.13,147.36 169.50,147.36 169.86,147.36 170.23,147.36 170.59,147.36 170.95,147.36 171.32,147.36 171.68,147.36 172.05,147.36 172.41,147.36 172.77,147.36 173.14,147.36 173.50,147.36 173.87,147.36 174.23,147.36 174.59,147.36 174.96,147.36 175.32,147.36 175.69,147.36 176.05,147.36 176.41,147.36 176.78,147.36 177.14,147.36 177.51,147.36 177.87,147.36 178.23,147.36 178.60,147.36 178.96,147.36 179.33,147.36 179.69,147.36 180.05,147.36 180.42,147.36 180.78,147.36 181.15,147.36 181.51,147.36 181.87,147.36 182.24,147.36 182.60,147.36 182.97,147.36 183.33,147.36 183.69,147.36 184.06,147.36 184.42,147.36 184.79,147.36 185.15,147.36 185.51,147.36 185.88,147.36 186.24,147.36 186.61,147.36 186.97,147.36 187.33,147.36 187.70,147.36 188.06,147.36 188.43,147.36 188.79,147.36 189.15,147.36 189.52,147.36 189.88,147.36 190.25,147.36 190.61,147.36 190.97,147.36 191.34,147.36 191.70,147.36 192.07,147.36 192.43,147.36 192.79,147.36 193.16,147.36 193.52,147.36 193.89,147.36 194.25,147.36 194.61,147.36 194.98,147.36 195.34,147.36 195.71,147.36 196.07,147.36 196.43,147.36 196.80,147.36 197.16,147.36 197.53,147.36 197.89,147.36 198.25,147.36 198.62,147.36 198.98,147.36 199.35,147.36 199.71,147.36 200.07,147.36 200.44,147.36 200.80,147.36 201.17,147.36 201.53,147.36 201.89,147.36 202.26,147.36 202.62,147.36 202.99,147.36 203.35,147.36 203.71,147.36 204.08,147.36 204.44,147.36 204.81,147.36 205.17,147.36 205.53,147.36 205.90,147.36 206.26,147.36 206.63,147.36 206.99,147.36 207.35,147.36 207.72,147.36 208.08,147.36 208.45,147.36 208.81,147.36 209.17,147.36 209.54,147.36 209.90,147.36 210.27,147.36 210.63,147.36 210.99,147.36 211.36,147.36 211.72,147.36 212.09,147.36 212.45,147.36" fill="none" stroke="#1c771c" stroke-width="1.0" stroke-linejoin="round"/>
<polyline points="30.45,147.30 30.81,147.29 31.18,147.28 31.54,147.27 31.91,147.26 32.27,147.24 32.63,147.23 33.00,147.21 33.36,147.20 33.73,147.18 34.09,147.16 34.45,147.13 34.82,147.11 35.18,147.08 35.55,147.05 35.91,147.02 36.27,146.99 36.64,146.95 37.00,146.91 37.37,146.87 37.73,146.82 38.09,146.76 38.46,146.71 38.82,146.64 39.19,146.58 39.55,146.50 39.91,146.42 40.28,146.33 40.64,146.24 41.01,146.13 41.37,146.02 41.73,145.89 42.10,145.76 42.46,145.61 42.83,145.45 43.19,145.28 43.55,145.09 43.92,144.89 44.28,144.66 44.65,144.42 45.01,144.16 45.37,143.88 45.74,143.57 46.10,143.24 46.47,142.88 46.83,142.50 47.19,142.08 47.56,141.63 47.92,141.15 48.29,140.62 48.65,140.06 49.01,139.46 49.38,138.81 49.74,138.12 50.11,137.38 50.47,136.60 50.83,135.76 51.20,134.87 51.56,133.92 51.93,132.92 52.29,131.86 52.65,130.75 53.02,129.58 53.38,128.36 53.75,127.08 54.11,125.75 54.47,124.36 54.84,122.93 55.20,121.46 55.57,119.95 55.93,118.40 56.29,116.82 56.66,115.22 57.02,113.61 57.39,111.98 57.75,110.35 58.11,108.72 58.48,107.11 58.84,105.51 59.21,103.95 59.57,102.41 59.93,100.92 60.30,99.47 60.66,98.08 61.03,96.75 61.39,95.48 61.75,94.27 62.12,93.14 62.48,92.07 62.85,91.08 63.21,90.17 63.57,89.33 63.94,88.57 64.30,87.89 64.67,87.28 65.03,86.74 65.39,86.27 65.76,85.87 66.12,85.54 66.49,85.27 66.85,85.06 67.21,84.91 67.58,84.82 67.94,84.78 68.31,84.78 68.67,84.84 69.03,84.93 69.40,85.07 69.76,85.24 70.13,85.45 70.49,85.70 70.85,85.97 71.22,86.27 71.58,86.60 71.95,86.94 72.31,87.31 72.67,87.70 73.04,88.11 73.40,88.54 73.77,88.97 74.13,89.42 74.49,89.89 74.86,90.36 75.22,90.84 75.59,91.33 75.95,91.83 76.31,92.33 76.68,92.84 77.04,93.36 77.41,93.87 77.77,94.39 78.13,94.91 78.50,95.44 78.86,95.96 79.23,96.49 79.59,97.01 79.95,97.54 80.32,98.06 80.68,98.59 81.05,99.11 81.41,99.63 81.77,100.15 82.14,100.66 82.50,101.17 82.87,101.69 83.23,102.19 83.59,102.70 83.96,103.20 84.32,103.70 84.69,104.19 85.05,104.68 85.41,105.17 85.78,105.66 86.14,106.13 86.51,106.61 86.87,107.08 87.23,107.55 87.60,108.01 87.96,108.47 88.33,108.93 88.69,109.38 89.05,109.82 89.42,110.27 89.78,110.70 90.15,111.14 90.51,111.57 90.87,111.99 91.24,112.41 91.60,112.83 91.97,113.24 92.33,113.65 92.69,114.05 93.06,114.45 93.42,114.84 93.79,115.23 94.15,115.62 94.51,116.00 94.88,116.38 95.24,116.75 95.61,117.12 95.97,117.49 96.33,117.85 96.70,118.20 97.06,118.56 97.43,118.91 97.79,119.25 98.15,119.59 98.52,119.93 98.88,120.26 99.25,120.59 99.61,120.92 99.97,121.24 100.34,121.56 100.70,121.87 101.07,122.18 101.43,122.49 101.79,122.79 102.16,123.09 102.52,123.39 102.89,123.68 103.25,123.97 103.61,124.26 103.98,124.54 104.34,124.82 104.71,125.10 105.07,125.37 105.43,125.64 105.80,125.91 106.16,126.17 106.53,126.43 106.89,126.69 107.25,126.94 107.62,127.19 107.98,127.44 108.35,127.68 108.71,127.92 109.07,128.16 109.44,128.40 109.80,128.63 110.17,128.86 110.53,129.09 110.89,129.32 111.26,129.54 111.62,129.76 111.99,129.97 112.35,130.19 112.71,130.40 113.08,130.61 113.44,130.82 113.81,131.02 114.17,131.22 114.53,131.42 114.90,131.62 115.26,131.81 115.63,132.00 115.99,132.19 116.35,132.38 116.72,132.56 117.08,132.75 117.45,132.93 117.81,133.11 118.17,133.28 118.54,133.46 118.90,133.63 119.27,133.80 119.63,133.97 119.99,134.13 120.36,134.29 120.72,134.46 121.09,134.62 121.45,134.77 121.81,134.93 122.18,135.08 122.54,135.23 122.91,135.39 123.27,135.53 123.63,135.68 124.00,135.82 124.36,135.97 124.73,136.11 125.09,136.25 125.45,136.39 125.82,136.52 126.18,136.66 126.55,136.79 126.91,136.92 127.27,137.05 127.64,137.18 128.00,137.30 128.37,137.43 128.73,137.55 129.09,137.67 129.46,137.79 129.82,137.91 130.19,138.03 130.55,138.14 130.91,138.26 131.28,138.37 131.64,138.48 132.01,138.59 132.37,138.70 132.73,138.81 133.10,138.92 133.46,139.02 133.83,139.12 134.19,139.23 134.55,139.33 134.92,139.43 135.28,139.53 135.65,139.62 136.01,139.72 136.37,139.81 136.74,139.91 137.10,140.00 137.47,140.09 137.83,140.18 138.19,140.27 138.56,140.36 138.92,140.45 139.29,140.53 139.65,140.62 140.01,140.70 140.38,140.78 140.74,140.87 141.11,140.95 141.47,141.03 141.83,141.11 142.20,141.18 142.56,141.26 142.93,141.34 143.29,141.41 143.65,141.49 144.02,141.56 144.38,141.63 144.75,141.70 145.11,141.77 145.47,141.84 145.84,141.91 146.20,141.98 146.57,142.05 146.93,142.11 147.29,142.18 147.66,142.24 148.02,142.31 148.39,142.37 148.75,142.43 149.11,142.49 149.48,142.55 149.84,142.61 150.21,142.67 150.57,142.73 150.93,142.79 151.30,142.85 151.66,142.90 152.03,142.96 152.39,143.01 152.75,143.07 153.12,143.12 153.48,143.17 153.85,143.23 154.21,143.28 154.57,143.33 154.94,143.38 155.30,143.43 155.67,143.48 156.03,143.53 156.39,143.57 156.76,143.62 157.12,143.67 157.49,143.71 157.85,143.76 158.21,143.81 158.58,143.85 158.94,143.89 159.31,143.94 159.67,143.98 160.03,144.02 160.40,144.06 160.76,144.11 161.13,144.15 161.49,144.19 161.85,144.23 162.22,144.27 162.58,144.30 162.95,144.34 163.31,144.38 163.67,144.42 164.04,144.46 164.40,144.49 164.77,144.53 165.13,144.56 165.49,144.60 165.86,144.63 166.22,144.67 166.59,144.70 166.95,144.73 167.31,144.77 167.68,144.80 168.04,144.83 168.41,144.86 168.77,144.90 169.13,144.93 169.50,144.96 169.86,144.99 170.23,145.02 170.59,145.05 170.95,145.08 171.32,145.10 171.68,145.13 172.05,145.16 172.41,145.19 172.77,145.22 173.14,145.24 173.50,145.27 173.87,145.30 174.23,145.32 174.59,145.35 174.96,145.37 175.32,145.40 175.69,145.42 176.05,145.45 176.41,145.47 176.78,145.50 177.14,145.52 177.51,145.54 177.87,145.57 178.23,145.59 178.60,145.61 178.96,145.63 179.33,145.65 179.69,145.68 180.05,145.70 180.42,145.72 180.78,145.74 181.15,145.76 181.51,145.78 181.87,145.80 182.24,145.82 182.60,145.84 182.97,145.86 183.33,145.88 183.69,145.90 184.06,145.92 184.42,145.93 184.79,145.95 185.15,145.97 185.51,145.99 185.88,146.01 186.24,146.02 186.61,146.04 186.97,146.06 187.33,146.07 187.70,146.09 188.06,146.11 188.43,146.12 188.79,146.14 189.15,146.15 189.52,146.17 189.88,146.18 190.25,146.20 190.61,146.21 190.97,146.23 191.34,146.24 191.70,146.26 192.07,146.27 192.43,146.29 192.79,146.30 193.16,146.31 193.52,146.33 193.89,146.34 194.25,146.35 194.61,146.37 194.98,146.38 195.34,146.39 195.71,146.40 196.07,146.42 196.43,146.43 196.80,146.44 197.16,146.45 197.53,146.46 197.89,146.48 198.25,146.49 198.62,146.50 198.98,146.51 199.35,146.52 199.71,146.53 200.07,146.54 200.44,146.55 200.80,146.56 201.17,146.57 201.53,146.58 201.89,146.59 202.26,146.60 202.62,146.61 202.99,146.62 203.35,146.63 203.71,146.64 204.08,146.65 204.44,146.66 204.81,146.67 205.17,146.68 205.53,146.69 205.90,146.70 206.26,146.71 206.63,146.71 206.99,146.72 207.35,146.73 207.72,146.74 208.08,146.75 208.45,146.76 208.81,146.76 209.17,146.77 209.54,146.78 209.90,146.79 210.27,146.80 210.63,146.80 210.99,146.81 211.36,146.82 211.72,146.82 212.09,146.83 212.45,146.84" fill="none" stroke="#1f3dff" stroke-width="1.0" stroke-linejoin="round"/>
<polyline points="30.45,147.40 30.81,147.40 31.18,147.40 31.54,147.40 31.91,147.39 32.27,147.39 32.63,147.39 33.00,147.39 33.36,147.39 33.73,147.38 34.09,147.38 34.45,147.38 34.82,147.37 35.18,147.37 35.55,147.37 35.91,147.36 36.27,147.36 36.64,147.35 37.00,147.34 37.37,147.34 37.73,147.33 38.09,147.32 38.46,147.32 38.82,147.31 39.19,147.30 39.55,147.29 39.91,147.27 40.28,147.26 40.64,147.25 41.01,147.23 41.37,147.22 41.73,147.20 42.10,147.18 42.46,147.16 42.83,147.13 43.19,147.11 43.55,147.08 43.92,147.05 44.28,147.02 44.65,146.98 45.01,146.94 45.37,146.90 45.74,146.85 46.10,146.80 46.47,146.75 46.83,146.69 47.19,146.63 47.56,146.56 47.92,146.48 48.29,146.40 48.65,146.31 49.01,146.22 49.38,146.11 49.74,146.00 50.11,145.88 50.47,145.75 50.83,145.61 51.20,145.46 51.56,145.30 51.93,145.12 52.29,144.94 52.65,144.74 53.02,144.52 53.38,144.29 53.75,144.04 54.11,143.78 54.47,143.50 54.84,143.21 55.20,142.89 55.57,142.56 55.93,142.20 56.29,141.83 56.66,141.44 57.02,141.03 57.39,140.59 57.75,140.14 58.11,139.67 58.48,139.17 58.84,138.66 59.21,138.13 59.57,137.57 59.93,137.00 60.30,136.41 60.66,135.81 61.03,135.18 61.39,134.54 61.75,133.88 62.12,133.21 62.48,132.53 62.85,131.83 63.21,131.12 63.57,130.40 63.94,129.67 64.30,128.93 64.67,128.18 65.03,127.42 65.39,126.66 65.76,125.90 66.12,125.13 66.49,124.35 66.85,123.57 67.21,122.79 67.58,122.01 67.94,121.23 68.31,120.45 68.67,119.66 69.03,118.88 69.40,118.10 69.76,117.32 70.13,116.55 70.49,115.77 70.85,115.01 71.22,114.24 71.58,113.48 71.95,112.72 72.31,111.97 72.67,111.22 73.04,110.47 73.40,109.73 73.77,109.00 74.13,108.27 74.49,107.55 74.86,106.84 75.22,106.13 75.59,105.42 75.95,104.72 76.31,104.03 76.68,103.35 77.04,102.67 77.41,102.00 77.77,101.33 78.13,100.67 78.50,100.02 78.86,99.37 79.23,98.73 79.59,98.10 79.95,97.47 80.32,96.85 80.68,96.24 81.05,95.63 81.41,95.03 81.77,94.44 82.14,93.85 82.50,93.27 82.87,92.70 83.23,92.13 83.59,91.57 83.96,91.01 84.32,90.46 84.69,89.92 85.05,89.38 85.41,88.85 85.78,88.32 86.14,87.81 86.51,87.29 86.87,86.79 87.23,86.28 87.60,85.79 87.96,85.30 88.33,84.82 88.69,84.34 89.05,83.87 89.42,83.40 89.78,82.94 90.15,82.48 90.51,82.03 90.87,81.59 91.24,81.15 91.60,80.71 91.97,80.28 92.33,79.86 92.69,79.44 93.06,79.02 93.42,78.61 93.79,78.21 94.15,77.81 94.51,77.41 94.88,77.02 95.24,76.64 95.61,76.26 95.97,75.88 96.33,75.51 96.70,75.14 97.06,74.78 97.43,74.42 97.79,74.07 98.15,73.72 98.52,73.37 98.88,73.03 99.25,72.69 99.61,72.36 99.97,72.03 100.34,71.71 100.70,71.39 101.07,71.07 101.43,70.76 101.79,70.45 102.16,70.14 102.52,69.84 102.89,69.54 103.25,69.25 103.61,68.95 103.98,68.67 104.34,68.38 104.71,68.10 105.07,67.83 105.43,67.55 105.80,67.28 106.16,67.01 106.53,66.75 106.89,66.49 107.25,66.23 107.62,65.98 107.98,65.73 108.35,65.48 108.71,65.23 109.07,64.99 109.44,64.75 109.80,64.52 110.17,64.28 110.53,64.05 110.89,63.83 111.26,63.60 111.62,63.38 111.99,63.16 112.35,62.94 112.71,62.73 113.08,62.52 113.44,62.31 113.81,62.11 114.17,61.90 114.53,61.70 114.90,61.50 115.26,61.31 115.63,61.11 115.99,60.92 116.35,60.73 116.72,60.55 117.08,60.36 117.45,60.18 117.81,60.00 118.17,59.82 118.54,59.65 118.90,59.47 119.27,59.30 119.63,59.13 119.99,58.97 120.36,58.80 120.72,58.64 121.09,58.48 121.45,58.32 121.81,58.16 122.18,58.01 122.54,57.85 122.91,57.70 123.27,57.55 123.63,57.41 124.00,57.26 124.36,57.12 124.73,56.98 125.09,56.83 125.45,56.70 125.82,56.56 126.18,56.42 126.55,56.29 126.91,56.16 127.27,56.03 127.64,55.90 128.00,55.77 128.37,55.65 128.73,55.52 129.09,55.40 129.46,55.28 129.82,55.16 130.19,55.04 130.55,54.93 130.91,54.81 131.28,54.70 131.64,54.59 132.01,54.48 132.37,54.37 132.73,54.26 133.10,54.15 133.46,54.05 133.83,53.94 134.19,53.84 134.55,53.74 134.92,53.64 135.28,53.54 135.65,53.44 136.01,53.34 136.37,53.25 136.74,53.15 137.10,53.06 137.47,52.97 137.83,52.88 138.19,52.79 138.56,52.70 138.92,52.61 139.29,52.53 139.65,52.44 140.01,52.36 140.38,52.27 140.74,52.19 141.11,52.11 141.47,52.03 141.83,51.95 142.20,51.87 142.56,51.80 142.93,51.72 143.29,51.64 143.65,51.57 144.02,51.50 144.38,51.42 144.75,51.35 145.11,51.28 145.47,51.21 145.84,51.14 146.20,51.07 146.57,51.01 146.93,50.94 147.29,50.87 147.66,50.81 148.02,50.75 148.39,50.68 148.75,50.62 149.11,50.56 149.48,50.50 149.84,50.44 150.21,50.38 150.57,50.32 150.93,50.26 151.30,50.20 151.66,50.15 152.03,50.09 152.39,50.04 152.75,49.98 153.12,49.93 153.48,49.87 153.85,49.82 154.21,49.77 154.57,49.72 154.94,49.67 155.30,49.62 155.67,49.57 156.03,49.52 156.39,49.47 156.76,49.42 157.12,49.38 157.49,49.33 157.85,49.29 158.21,49.24 158.58,49.20 158.94,49.15 159.31,49.11 159.67,49.06 160.03,49.02 160.40,48.98 160.76,48.94 161.13,48.90 161.49,48.86 161.85,48.82 162.22,48.78 162.58,48.74 162.95,48.70 163.31,48.66 163.67,48.63 164.04,48.59 164.40,48.55 164.77,48.52 165.13,48.48 165.49,48.44 165.86,48.41 166.22,48.38 166.59,48.34 166.95,48.31 167.31,48.27 167.68,48.24 168.04,48.21 168.41,48.18 168.77,48.15 169.13,48.12 169.50,48.08 169.86,48.05 170.23,48.02 170.59,47.99 170.95,47.97 171.32,47.94 171.68,47.91 172.05,47.88 172.41,47.85 172.77,47.82 173.14,47.80 173.50,47.77 173.87,47.74 174.23,47.72 174.59,47.69 174.96,47.67 175.32,47.64 175.69,47.62 176.05,47.59 176.41,47.57 176.78,47.54 177.14,47.52 177.51,47.50 177.87,47.47 178.23,47.45 178.60,47.43 178.96,47.41 179.33,47.38 179.69,47.36 180.05,47.34 180.42,47.32 180.78,47.30 181.15,47.28 181.51,47.26 181.87,47.24 182.24,47.22 182.60,47.20 182.97,47.18 183.33,47.16 183.69,47.14 184.06,47.12 184.42,47.10 184.79,47.09 185.15,47.07 185.51,47.05 185.88,47.03 186.24,47.02 186.61,47.00 186.97,46.98 187.33,46.96 187.70,46.95 188.06,46.93 188.43,46.92 188.79,46.90 189.15,46.88 189.52,46.87 189.88,46.85 190.25,46.84 190.61,46.82 190.97,46.81 191.34,46.79 191.70,46.78 192.07,46.77 192.43,46.75 192.79,46.74 193.16,46.72 193.52,46.71 193.89,46.70 194.25,46.68 194.61,46.67 194.98,46.66 195.34,46.65 195.71,46.63 196.07,46.62 196.43,46.61 196.80,46.60 197.16,46.58 197.53,46.57 197.89,46.56 198.25,46.55 198.62,46.54 198.98,46.53 199.35,46.52 199.71,46.51 200.07,46.49 200.44,46.48 200.80,46.47 201.17,46.46 201.53,46.45 201.89,46.44 202.26,46.43 202.62,46.42 202.99,46.41 203.35,46.40 203.71,46.39 204.08,46.38 204.44,46.37 204.81,46.37 205.17,46.36 205.53,46.35 205.90,46.34 206.26,46.33 206.63,46.32 206.99,46.31 207.35,46.30 207.72,46.30 208.08,46.29 208.45,46.28 208.81,46.27 209.17,46.26 209.54,46.26 209.90,46.25 210.27,46.24 210.63,46.23 210.99,46.23 211.36,46.22 211.72,46.21 212.09,46.20 212.45,46.20" fill="none" stroke="#f0342c" stroke-width="1.0" stroke-linejoin="round"/>
<line x1="30.45" x2="30.45" y1="152.5" y2="153.9" stroke="#333" stroke-width="0.6"/>
<line x1="75.95" x2="75.95" y1="152.5" y2="153.9" stroke="#333" stroke-width="0.6"/>
<line x1="121.45" x2="121.45" y1="152.5" y2="153.9" stroke="#333" stroke-width="0.6"/>
<line x1="166.95" x2="166.95" y1="152.5" y2="153.9" stroke="#333" stroke-width="0.6"/>
<line x1="212.45" x2="212.45" y1="152.5" y2="153.9" stroke="#333" stroke-width="0.6"/>
<line y1="147.40" y2="147.40" x1="19.8" x2="21.2" stroke="#333" stroke-width="0.6"/>
<line y1="121.95" y2="121.95" x1="19.8" x2="21.2" stroke="#333" stroke-width="0.6"/>
<line y1="96.50" y2="96.50" x1="19.8" x2="21.2" stroke="#333" stroke-width="0.6"/>
<line y1="71.05" y2="71.05" x1="19.8" x2="21.2" stroke="#333" stroke-width="0.6"/>
<line y1="45.60" y2="45.60" x1="19.8" x2="21.2" stroke="#333" stroke-width="0.6"/>
</g>
<g transform="translate(460,0)">
<rect x="172.7" y="11.9" width="9.2" height="25.1" fill="#c6c6c6"/>
<rect x="172.7" y="18.0" width="9.2" height="0.6" fill="#e4e4e4"/>
<rect x="172.7" y="28.0" width="9.2" height="0.5" fill="#d4d4d4"/>
<line x1="173.3" x2="181.3" y1="13.60" y2="13.60" stroke="#1c771c" stroke-width="1.2"/>
<line x1="173.3" x2="181.3" y1="23.30" y2="23.30" stroke="#1f3dff" stroke-width="1.2"/>
<line x1="173.3" x2="181.3" y1="32.60" y2="32.60" stroke="#f0342c" stroke-width="1.2"/>
<rect x="21.2" y="40.3" width="200.60000000000002" height="112.2" fill="#b3b3b3"/>
<line x1="53.20" x2="53.20" y1="40.3" y2="152.5" stroke="#dcdcdc" stroke-width="1.0"/>
<line x1="98.70" x2="98.70" y1="40.3" y2="152.5" stroke="#dcdcdc" stroke-width="1.0"/>
<line x1="144.20" x2="144.20" y1="40.3" y2="152.5" stroke="#dcdcdc" stroke-width="1.0"/>
<line x1="189.70" x2="189.70" y1="40.3" y2="152.5" stroke="#dcdcdc" stroke-width="1.0"/>
<line y1="134.68" y2="134.68" x1="21.2" x2="221.8" stroke="#dcdcdc" stroke-width="1.0"/>
<line y1="109.22" y2="109.22" x1="21.2" x2="221.8" stroke="#dcdcdc" stroke-width="1.0"/>
<line y1="83.78" y2="83.78" x1="21.2" x2="221.8" stroke="#dcdcdc" stroke-width="1.0"/>
<line y1="58.32" y2="58.32" x1="21.2" x2="221.8" stroke="#dcdcdc" stroke-width="1.0"/>
<line x1="30.45" x2="30.45" y1="40.3" y2="152.5" stroke="#f2f2f2" stroke-width="1.2"/>
<line x1="75.95" x2="75.95" y1="40.3" y2="152.5" stroke="#f2f2f2" stroke-width="1.2"/>
<line x1="121.45" x2="121.45" y1="40.3" y2="152.5" stroke="#f2f2f2" stroke-width="1.2"/>
<line x1="166.95" x2="166.95" y1="40.3" y2="152.5" stroke="#f2f2f2" stroke-width="1.2"/>
<line x1="212.45" x2="212.45" y1="40.3" y2="152.5" stroke="#f2f2f2" stroke-width="1.2"/>
<line y1="147.40" y2="147.40" x1="21.2" x2="221.8" stroke="#f2f2f2" stroke-width="1.2"/>
<line y1="121.95" y2="121.95" x1="21.2" x2="221.8" stroke="#f2f2f2" stroke-width="1.2"/>
<line y1="96.50" y2="96.50" x1="21.2" x2="221.8" stroke="#f2f2f2" stroke-width="1.2"/>
<line y1="71.05" y2="71.05" x1="21.2" x2="221.8" stroke="#f2f2f2" stroke-width="1.2"/>
<line y1="45.60" y2="45.60" x1="21.2" x2="221.8" stroke="#f2f2f2" stroke-width="1.2"/>
<rect x="21.55" y="40.65" width="199.90000000000003" height="111.5" fill="none" stroke="#a4a4a4" stroke-width="0.7"/>
<polyline points="30.45,45.70 30.81,45.71 31.18,45.72 31.54,45.74 31.91,45.75 32.27,45.76 32.63,45.78 33.00,45.80 33.36,45.82 33.73,45.84 34.09,45.86 34.45,45.88 34.82,45.91 35.18,45.94 35.55,45.97 35.91,46.00 36.27,46.04 36.64,46.08 37.00,46.12 37.37,46.17 37.73,46.22 38.09,46.28 38.46,46.34 38.82,46.40 39.19,46.48 39.55,46.55 39.91,46.64 40.28,46.73 40.64,46.82 41.01,46.93 41.37,47.05 41.73,47.17 42.10,47.31 42.46,47.46 42.83,47.62 43.19,47.79 43.55,47.97 43.92,48.18 44.28,48.40 44.65,48.63 45.01,48.89 45.37,49.17 45.74,49.46 46.10,49.79 46.47,50.13 46.83,50.51 47.19,50.91 47.56,51.35 47.92,51.82 48.29,52.32 48.65,52.86 49.01,53.44 49.38,54.06 49.74,54.72 50.11,55.43 50.47,56.19 50.83,57.00 51.20,57.86 51.56,58.78 51.93,59.75 52.29,60.78 52.65,61.87 53.02,63.02 53.38,64.23 53.75,65.51 54.11,66.84 54.47,68.24 54.84,69.70 55.20,71.23 55.57,72.80 55.93,74.44 56.29,76.13 56.66,77.87 57.02,79.66 57.39,81.48 57.75,83.35 58.11,85.24 58.48,87.17 58.84,89.11 59.21,91.07 59.57,93.03 59.93,95.00 60.30,96.96 60.66,98.90 61.03,100.84 61.39,102.74 61.75,104.62 62.12,106.47 62.48,108.27 62.85,110.04 63.21,111.76 63.57,113.42 63.94,115.04 64.30,116.60 64.67,118.11 65.03,119.56 65.39,120.95 65.76,122.29 66.12,123.56 66.49,124.79 66.85,125.95 67.21,127.06 67.58,128.11 67.94,129.12 68.31,130.07 68.67,130.97 69.03,131.83 69.40,132.64 69.76,133.40 70.13,134.13 70.49,134.81 70.85,135.46 71.22,136.07 71.58,136.64 71.95,137.19 72.31,137.70 72.67,138.18 73.04,138.64 73.40,139.07 73.77,139.47 74.13,139.86 74.49,140.22 74.86,140.56 75.22,140.88 75.59,141.18 75.95,141.47 76.31,141.74 76.68,141.99 77.04,142.23 77.41,142.46 77.77,142.67 78.13,142.88 78.50,143.07 78.86,143.25 79.23,143.42 79.59,143.59 79.95,143.74 80.32,143.89 80.68,144.03 81.05,144.16 81.41,144.28 81.77,144.40 82.14,144.51 82.50,144.62 82.87,144.72 83.23,144.81 83.59,144.91 83.96,144.99 84.32,145.08 84.69,145.15 85.05,145.23 85.41,145.30 85.78,145.37 86.14,145.43 86.51,145.50 86.87,145.56 87.23,145.61 87.60,145.67 87.96,145.72 88.33,145.77 88.69,145.81 89.05,145.86 89.42,145.90 89.78,145.94 90.15,145.98 90.51,146.02 90.87,146.06 91.24,146.09 91.60,146.13 91.97,146.16 92.33,146.19 92.69,146.22 93.06,146.25 93.42,146.27 93.79,146.30 94.15,146.33 94.51,146.35 94.88,146.37 95.24,146.40 95.61,146.42 95.97,146.44 96.33,146.46 96.70,146.48 97.06,146.50 97.43,146.52 97.79,146.53 98.15,146.55 98.52,146.57 98.88,146.58 99.25,146.60 99.61,146.61 99.97,146.63 100.34,146.64 100.70,146.65 101.07,146.67 101.43,146.68 101.79,146.69 102.16,146.70 102.52,146.71 102.89,146.72 103.25,146.73 103.61,146.74 103.98,146.75 104.34,146.76 104.71,146.77 105.07,146.78 105.43,146.79 105.80,146.80 106.16,146.81 106.53,146.82 106.89,146.82 107.25,146.83 107.62,146.84 107.98,146.84 108.35,146.85 108.71,146.86 109.07,146.86 109.44,146.87 109.80,146.88 110.17,146.88 110.53,146.89 110.89,146.89 111.26,146.90 111.62,146.91 111.99,146.91 112.35,146.92 112.71,146.92 113.08,146.93 113.44,146.93 113.81,146.94 114.17,146.94 114.53,146.94 114.90,146.95 115.26,146.95 115.63,146.96 115.99,146.96 116.35,146.96 116.72,146.97 117.08,146.97 117.45,146.98 117.81,146.98 118.17,146.98 118.54,146.99 118.90,146.99 119.27,146.99 119.63,146.99 119.99,147.00 120.36,147.00 120.72,147.00 121.09,147.01 121.45,147.01 121.81,147.01 122.18,147.01 122.54,147.02 122.91,147.02 123.27,147.02 123.63,147.02 124.00,147.03 124.36,147.03 124.73,147.03 125.09,147.03 125.45,147.04 125.82,147.04 126.18,147.04 126.55,147.04 126.91,147.04 127.27,147.05 127.64,147.05 128.00,147.05 128.37,147.05 128.73,147.05 129.09,147.05 129.46,147.06 129.82,147.06 130.19,147.06 130.55,147.06 130.91,147.06 131.28,147.06 131.64,147.07 132.01,147.07 132.37,147.07 132.73,147.07 133.10,147.07 133.46,147.07 133.83,147.07 134.19,147.08 134.55,147.08 134.92,147.08 135.28,147.08 135.65,147.08 136.01,147.08 136.37,147.08 136.74,147.08 137.10,147.08 137.47,147.09 137.83,147.09 138.19,147.09 138.56,147.09 138.92,147.09 139.29,147.09 139.65,147.09 140.01,147.09 140.38,147.09 140.74,147.09 141.11,147.10 141.47,147.10 141.83,147.10 142.20,147.10 142.56,147.10 142.93,147.10 143.29,147.10 143.65,147.10 144.02,147.10 144.38,147.10 144.75,147.10 145.11,147.10 145.47,147.10 145.84,147.11 146.20,147.11 146.57,147.11 146.93,147.11 147.29,147.11 147.66,147.11 148.02,147.11 148.39,147.11 148.75,147.11 149.11,147.11 149.48,147.11 149.84,147.11 150.21,147.11 150.57,147.11 150.93,147.11 151.30,147.11 151.66,147.11 152.03,147.12 152.39,147.12 152.75,147.12 153.12,147.12 153.48,147.12 153.85,147.12 154.21,147.12 154.57,147.12 154.94,147.12 155.30,147.12 155.67,147.12 156.03,147.12 156.39,147.12 156.76,147.12 157.12,147.12 157.49,147.12 157.85,147.12 158.21,147.12 158.58,147.12 158.94,147.12 159.31,147.12 159.67,147.12 160.03,147.12 160.40,147.12 160.76,147.12 161.13,147.13 161.49,147.13 161.85,147.13 162.22,147.13 162.58,147.13 162.95,147.13 163.31,147.13 163.67,147.13 164.04,147.13 164.40,147.13 164.77,147.13 165.13,147.13 165.49,147.13 165.86,147.13 166.22,147.13 166.59,147.13 166.95,147.13 167.31,147.13 167.68,147.13 168.04,147.13 168.41,147.13 168.77,147.13 169.13,147.13 169.50,147.13 169.86,147.13 170.23,147.13 170.59,147.13 170.95,147.13 171.32,147.13 171.68,147.13 172.05,147.13 172.41,147.13 172.77,147.13 173.14,147.13 173.50,147.13 173.87,147.13 174.23,147.13 174.59,147.13 174.96,147.13 175.32,147.13 175.69,147.13 176.05,147.13 176.41,147.13 176.78,147.13 177.14,147.14 177.51,147.14 177.87,147.14 178.23,147.14 178.60,147.14 178.96,147.14 179.33,147.14 179.69,147.14 180.05,147.14 180.42,147.14 180.78,147.14 181.15,147.14 181.51,147.14 181.87,147.14 182.24,147.14 182.60,147.14 182.97,147.14 183.33,147.14 183.69,147.14 184.06,147.14 184.42,147.14 184.79,147.14 185.15,147.14 185.51,147.14 185.88,147.14 186.24,147.14 186.61,147.14 186.97,147.14 187.33,147.14 187.70,147.14 188.06,147.14 188.43,147.14 188.79,147.14 189.15,147.14 189.52,147.14 189.88,147.14 190.25,147.14 190.61,147.14 190.97,147.14 191.34,147.14 191.70,147.14 192.07,147.14 192.43,147.14 192.79,147.14 193.16,147.14 193.52,147.14 193.89,147.14 194.25,147.14 194.61,147.14 194.98,147.14 195.34,147.14 195.71,147.14 196.07,147.14 196.43,147.14 196.80,147.14 197.16,147.14 197.53,147.14 197.89,147.14 198.25,147.14 198.62,147.14 198.98,147.14 199.35,147.14 199.71,147.14 200.07,147.14 200.44,147.14 200.80,147.14 201.17,147.14 201.53,147.14 201.89,147.14 202.26,147.14 202.62,147.14 202.99,147.14 203.35,147.14 203.71,147.14 204.08,147.14 204.44,147.14 204.81,147.14 205.17,147.14 205.53,147.14 205.90,147.14 206.26,147.14 206.63,147.14 206.99,147.14 207.35,147.14 207.72,147.14 208.08,147.14 208.45,147.14 208.81,147.14 209.17,147.14 209.54,147.14 209.90,147.14 210.27,147.14 210.63,147.14 210.99,147.14 211.36,147.14 211.72,147.14 212.09,147.14 212.45,147.14" fill="none" stroke="#1c771c" stroke-width="1.0" stroke-linejoin="round"/>
<polyline points="30.45,147.30 30.81,147.29 31.18,147.28 31.54,147.27 31.91,147.26 32.27,147.25 32.63,147.23 33.00,147.22 33.36,147.20 33.73,147.18 34.09,147.17 34.45,147.15 34.82,147.12 35.18,147.10 35.55,147.07 35.91,147.05 36.27,147.02 36.64,146.98 37.00,146.95 37.37,146.91 37.73,146.86 38.09,146.82 38.46,146.77 38.82,146.71 39.19,146.65 39.55,146.59 39.91,146.52 40.28,146.45 40.64,146.36 41.01,146.27 41.37,146.18 41.73,146.07 42.10,145.96 42.46,145.84 42.83,145.71 43.19,145.56 43.55,145.41 43.92,145.24 44.28,145.06 44.65,144.86 45.01,144.65 45.37,144.42 45.74,144.18 46.10,143.91 46.47,143.62 46.83,143.31 47.19,142.98 47.56,142.62 47.92,142.24 48.29,141.82 48.65,141.38 49.01,140.91 49.38,140.40 49.74,139.85 50.11,139.27 50.47,138.66 50.83,138.00 51.20,137.30 51.56,136.56 51.93,135.77 52.29,134.94 52.65,134.07 53.02,133.15 53.38,132.18 53.75,131.17 54.11,130.11 54.47,129.01 54.84,127.86 55.20,126.68 55.57,125.45 55.93,124.19 56.29,122.90 56.66,121.58 57.02,120.24 57.39,118.87 57.75,117.50 58.11,116.11 58.48,114.72 58.84,113.33 59.21,111.96 59.57,110.59 59.93,109.25 60.30,107.94 60.66,106.66 61.03,105.42 61.39,104.22 61.75,103.07 62.12,101.97 62.48,100.93 62.85,99.95 63.21,99.03 63.57,98.18 63.94,97.39 64.30,96.67 64.67,96.01 65.03,95.42 65.39,94.90 65.76,94.44 66.12,94.05 66.49,93.72 66.85,93.45 67.21,93.25 67.58,93.10 67.94,93.00 68.31,92.95 68.67,92.96 69.03,93.01 69.40,93.11 69.76,93.24 70.13,93.42 70.49,93.64 70.85,93.88 71.22,94.16 71.58,94.47 71.95,94.81 72.31,95.17 72.67,95.55 73.04,95.96 73.40,96.38 73.77,96.82 74.13,97.28 74.49,97.75 74.86,98.23 75.22,98.73 75.59,99.23 75.95,99.74 76.31,100.26 76.68,100.79 77.04,101.32 77.41,101.86 77.77,102.40 78.13,102.94 78.50,103.48 78.86,104.03 79.23,104.58 79.59,105.12 79.95,105.67 80.32,106.21 80.68,106.76 81.05,107.30 81.41,107.84 81.77,108.38 82.14,108.91 82.50,109.44 82.87,109.97 83.23,110.49 83.59,111.01 83.96,111.52 84.32,112.04 84.69,112.54 85.05,113.04 85.41,113.54 85.78,114.03 86.14,114.52 86.51,115.00 86.87,115.48 87.23,115.95 87.60,116.42 87.96,116.88 88.33,117.33 88.69,117.78 89.05,118.23 89.42,118.67 89.78,119.10 90.15,119.53 90.51,119.95 90.87,120.37 91.24,120.78 91.60,121.19 91.97,121.59 92.33,121.99 92.69,122.38 93.06,122.76 93.42,123.14 93.79,123.52 94.15,123.89 94.51,124.25 94.88,124.61 95.24,124.97 95.61,125.31 95.97,125.66 96.33,126.00 96.70,126.33 97.06,126.66 97.43,126.99 97.79,127.31 98.15,127.62 98.52,127.93 98.88,128.24 99.25,128.54 99.61,128.84 99.97,129.13 100.34,129.42 100.70,129.70 101.07,129.98 101.43,130.26 101.79,130.53 102.16,130.80 102.52,131.06 102.89,131.32 103.25,131.58 103.61,131.83 103.98,132.08 104.34,132.32 104.71,132.56 105.07,132.80 105.43,133.03 105.80,133.26 106.16,133.48 106.53,133.70 106.89,133.92 107.25,134.14 107.62,134.35 107.98,134.56 108.35,134.76 108.71,134.97 109.07,135.17 109.44,135.36 109.80,135.55 110.17,135.74 110.53,135.93 110.89,136.12 111.26,136.30 111.62,136.47 111.99,136.65 112.35,136.82 112.71,136.99 113.08,137.16 113.44,137.32 113.81,137.49 114.17,137.65 114.53,137.80 114.90,137.96 115.26,138.11 115.63,138.26 115.99,138.41 116.35,138.55 116.72,138.69 117.08,138.83 117.45,138.97 117.81,139.11 118.17,139.24 118.54,139.37 118.90,139.50 119.27,139.63 119.63,139.76 119.99,139.88 120.36,140.00 120.72,140.12 121.09,140.24 121.45,140.35 121.81,140.47 122.18,140.58 122.54,140.69 122.91,140.80 123.27,140.90 123.63,141.01 124.00,141.11 124.36,141.21 124.73,141.31 125.09,141.41 125.45,141.51 125.82,141.60 126.18,141.70 126.55,141.79 126.91,141.88 127.27,141.97 127.64,142.06 128.00,142.14 128.37,142.23 128.73,142.31 129.09,142.40 129.46,142.48 129.82,142.56 130.19,142.64 130.55,142.71 130.91,142.79 131.28,142.86 131.64,142.94 132.01,143.01 132.37,143.08 132.73,143.15 133.10,143.22 133.46,143.29 133.83,143.35 134.19,143.42 134.55,143.48 134.92,143.55 135.28,143.61 135.65,143.67 136.01,143.73 136.37,143.79 136.74,143.85 137.10,143.91 137.47,143.96 137.83,144.02 138.19,144.07 138.56,144.13 138.92,144.18 139.29,144.23 139.65,144.29 140.01,144.34 140.38,144.39 140.74,144.43 141.11,144.48 141.47,144.53 141.83,144.58 142.20,144.62 142.56,144.67 142.93,144.71 143.29,144.76 143.65,144.80 144.02,144.84 144.38,144.88 144.75,144.92 145.11,144.96 145.47,145.00 145.84,145.04 146.20,145.08 146.57,145.12 146.93,145.15 147.29,145.19 147.66,145.23 148.02,145.26 148.39,145.30 148.75,145.33 149.11,145.37 149.48,145.40 149.84,145.43 150.21,145.46 150.57,145.49 150.93,145.53 151.30,145.56 151.66,145.59 152.03,145.62 152.39,145.64 152.75,145.67 153.12,145.70 153.48,145.73 153.85,145.76 154.21,145.78 154.57,145.81 154.94,145.83 155.30,145.86 155.67,145.88 156.03,145.91 156.39,145.93 156.76,145.96 157.12,145.98 157.49,146.00 157.85,146.03 158.21,146.05 158.58,146.07 158.94,146.09 159.31,146.11 159.67,146.13 160.03,146.16 160.40,146.18 160.76,146.20 161.13,146.22 161.49,146.23 161.85,146.25 162.22,146.27 162.58,146.29 162.95,146.31 163.31,146.33 163.67,146.34 164.04,146.36 164.40,146.38 164.77,146.39 165.13,146.41 165.49,146.43 165.86,146.44 166.22,146.46 166.59,146.47 166.95,146.49 167.31,146.50 167.68,146.52 168.04,146.53 168.41,146.55 168.77,146.56 169.13,146.57 169.50,146.59 169.86,146.60 170.23,146.61 170.59,146.63 170.95,146.64 171.32,146.65 171.68,146.66 172.05,146.68 172.41,146.69 172.77,146.70 173.14,146.71 173.50,146.72 173.87,146.73 174.23,146.74 174.59,146.75 174.96,146.76 175.32,146.78 175.69,146.79 176.05,146.80 176.41,146.81 176.78,146.81 177.14,146.82 177.51,146.83 177.87,146.84 178.23,146.85 178.60,146.86 178.96,146.87 179.33,146.88 179.69,146.89 180.05,146.90 180.42,146.90 180.78,146.91 181.15,146.92 181.51,146.93 181.87,146.93 182.24,146.94 182.60,146.95 182.97,146.96 183.33,146.96 183.69,146.97 184.06,146.98 184.42,146.99 184.79,146.99 185.15,147.00 185.51,147.01 185.88,147.01 186.24,147.02 186.61,147.02 186.97,147.03 187.33,147.04 187.70,147.04 188.06,147.05 188.43,147.05 188.79,147.06 189.15,147.07 189.52,147.07 189.88,147.08 190.25,147.08 190.61,147.09 190.97,147.09 191.34,147.10 191.70,147.10 192.07,147.11 192.43,147.11 192.79,147.12 193.16,147.12 193.52,147.12 193.89,147.13 194.25,147.13 194.61,147.14 194.98,147.14 195.34,147.15 195.71,147.15 196.07,147.15 196.43,147.16 196.80,147.16 197.16,147.17 197.53,147.17 197.89,147.17 198.25,147.18 198.62,147.18 198.98,147.18 199.35,147.19 199.71,147.19 200.07,147.20 200.44,147.20 200.80,147.20 201.17,147.21 201.53,147.21 201.89,147.21 202.26,147.21 202.62,147.22 202.99,147.22 203.35,147.22 203.71,147.23 204.08,147.23 204.44,147.23 204.81,147.23 205.17,147.24 205.53,147.24 205.90,147.24 206.26,147.25 206.63,147.25 206.99,147.25 207.35,147.25 207.72,147.25 208.08,147.26 208.45,147.26 208.81,147.26 209.17,147.26 209.54,147.27 209.90,147.27 210.27,147.27 210.63,147.27 210.99,147.27 211.36,147.28 211.72,147.28 212.09,147.28 212.45,147.28" fill="none" stroke="#1f3dff" stroke-width="1.0" stroke-linejoin="round"/>
<polyline points="30.45,147.40 30.81,147.40 31.18,147.40 31.54,147.39 31.91,147.39 32.27,147.39 32.63,147.39 33.00,147.38 33.36,147.38 33.73,147.38 34.09,147.37 34.45,147.37 34.82,147.37 35.18,147.36 35.55,147.36 35.91,147.35 36.27,147.34 36.64,147.34 37.00,147.33 37.37,147.32 37.73,147.31 38.09,147.30 38.46,147.29 38.82,147.28 39.19,147.27 39.55,147.26 39.91,147.24 40.28,147.23 40.64,147.21 41.01,147.19 41.37,147.17 41.73,147.15 42.10,147.13 42.46,147.10 42.83,147.08 43.19,147.05 43.55,147.02 43.92,146.98 44.28,146.94 44.65,146.90 45.01,146.86 45.37,146.81 45.74,146.76 46.10,146.70 46.47,146.64 46.83,146.58 47.19,146.51 47.56,146.43 47.92,146.35 48.29,146.26 48.65,146.16 49.01,146.06 49.38,145.95 49.74,145.82 50.11,145.69 50.47,145.55 50.83,145.40 51.20,145.24 51.56,145.07 51.93,144.88 52.29,144.68 52.65,144.46 53.02,144.23 53.38,143.99 53.75,143.73 54.11,143.45 54.47,143.15 54.84,142.83 55.20,142.50 55.57,142.14 55.93,141.77 56.29,141.37 56.66,140.95 57.02,140.51 57.39,140.04 57.75,139.56 58.11,139.05 58.48,138.51 58.84,137.96 59.21,137.38 59.57,136.78 59.93,136.15 60.30,135.50 60.66,134.84 61.03,134.15 61.39,133.44 61.75,132.71 62.12,131.96 62.48,131.19 62.85,130.41 63.21,129.61 63.57,128.80 63.94,127.97 64.30,127.13 64.67,126.28 65.03,125.42 65.39,124.55 65.76,123.67 66.12,122.78 66.49,121.89 66.85,120.99 67.21,120.09 67.58,119.19 67.94,118.28 68.31,117.38 68.67,116.47 69.03,115.56 69.40,114.66 69.76,113.75 70.13,112.85 70.49,111.95 70.85,111.06 71.22,110.17 71.58,109.29 71.95,108.41 72.31,107.53 72.67,106.67 73.04,105.80 73.40,104.95 73.77,104.10 74.13,103.26 74.49,102.43 74.86,101.61 75.22,100.79 75.59,99.99 75.95,99.19 76.31,98.40 76.68,97.62 77.04,96.85 77.41,96.08 77.77,95.33 78.13,94.58 78.50,93.85 78.86,93.12 79.23,92.40 79.59,91.69 79.95,90.99 80.32,90.30 80.68,89.62 81.05,88.94 81.41,88.28 81.77,87.63 82.14,86.98 82.50,86.34 82.87,85.71 83.23,85.10 83.59,84.48 83.96,83.88 84.32,83.29 84.69,82.70 85.05,82.13 85.41,81.56 85.78,81.00 86.14,80.45 86.51,79.90 86.87,79.37 87.23,78.84 87.60,78.32 87.96,77.80 88.33,77.30 88.69,76.80 89.05,76.31 89.42,75.83 89.78,75.35 90.15,74.89 90.51,74.43 90.87,73.97 91.24,73.52 91.60,73.08 91.97,72.65 92.33,72.22 92.69,71.80 93.06,71.39 93.42,70.98 93.79,70.58 94.15,70.19 94.51,69.80 94.88,69.41 95.24,69.04 95.61,68.67 95.97,68.30 96.33,67.94 96.70,67.59 97.06,67.24 97.43,66.90 97.79,66.56 98.15,66.23 98.52,65.90 98.88,65.58 99.25,65.26 99.61,64.95 99.97,64.64 100.34,64.34 100.70,64.04 101.07,63.75 101.43,63.46 101.79,63.18 102.16,62.90 102.52,62.63 102.89,62.36 103.25,62.09 103.61,61.83 103.98,61.57 104.34,61.32 104.71,61.07 105.07,60.82 105.43,60.58 105.80,60.34 106.16,60.11 106.53,59.88 106.89,59.65 107.25,59.43 107.62,59.21 107.98,59.00 108.35,58.78 108.71,58.57 109.07,58.37 109.44,58.17 109.80,57.97 110.17,57.77 110.53,57.58 110.89,57.39 111.26,57.20 111.62,57.02 111.99,56.84 112.35,56.66 112.71,56.49 113.08,56.31 113.44,56.14 113.81,55.98 114.17,55.81 114.53,55.65 114.90,55.49 115.26,55.34 115.63,55.18 115.99,55.03 116.35,54.88 116.72,54.74 117.08,54.59 117.45,54.45 117.81,54.31 118.17,54.18 118.54,54.04 118.90,53.91 119.27,53.78 119.63,53.65 119.99,53.52 120.36,53.40 120.72,53.28 121.09,53.16 121.45,53.04 121.81,52.92 122.18,52.81 122.54,52.69 122.91,52.58 123.27,52.47 123.63,52.37 124.00,52.26 124.36,52.16 124.73,52.05 125.09,51.95 125.45,51.86 125.82,51.76 126.18,51.66 126.55,51.57 126.91,51.48 127.27,51.38 127.64,51.29 128.00,51.21 128.37,51.12 128.73,51.03 129.09,50.95 129.46,50.87 129.82,50.79 130.19,50.71 130.55,50.63 130.91,50.55 131.28,50.47 131.64,50.40 132.01,50.32 132.37,50.25 132.73,50.18 133.10,50.11 133.46,50.04 133.83,49.97 134.19,49.91 134.55,49.84 134.92,49.78 135.28,49.71 135.65,49.65 136.01,49.59 136.37,49.53 136.74,49.47 137.10,49.41 137.47,49.35 137.83,49.29 138.19,49.24 138.56,49.18 138.92,49.13 139.29,49.08 139.65,49.02 140.01,48.97 140.38,48.92 140.74,48.87 141.11,48.82 141.47,48.77 141.83,48.73 142.20,48.68 142.56,48.63 142.93,48.59 143.29,48.54 143.65,48.50 144.02,48.46 144.38,48.42 144.75,48.37 145.11,48.33 145.47,48.29 145.84,48.25 146.20,48.21 146.57,48.18 146.93,48.14 147.29,48.10 147.66,48.06 148.02,48.03 148.39,47.99 148.75,47.96 149.11,47.92 149.48,47.89 149.84,47.86 150.21,47.82 150.57,47.79 150.93,47.76 151.30,47.73 151.66,47.70 152.03,47.67 152.39,47.64 152.75,47.61 153.12,47.58 153.48,47.55 153.85,47.53 154.21,47.50 154.57,47.47 154.94,47.45 155.30,47.42 155.67,47.40 156.03,47.37 156.39,47.35 156.76,47.32 157.12,47.30 157.49,47.27 157.85,47.25 158.21,47.23 158.58,47.21 158.94,47.18 159.31,47.16 159.67,47.14 160.03,47.12 160.40,47.10 160.76,47.08 161.13,47.06 161.49,47.04 161.85,47.02 162.22,47.00 162.58,46.98 162.95,46.96 163.31,46.95 163.67,46.93 164.04,46.91 164.40,46.89 164.77,46.88 165.13,46.86 165.49,46.84 165.86,46.83 166.22,46.81 166.59,46.80 166.95,46.78 167.31,46.77 167.68,46.75 168.04,46.74 168.41,46.72 168.77,46.71 169.13,46.69 169.50,46.68 169.86,46.67 170.23,46.65 170.59,46.64 170.95,46.63 171.32,46.62 171.68,46.60 172.05,46.59 172.41,46.58 172.77,46.57 173.14,46.56 173.50,46.54 173.87,46.53 174.23,46.52 174.59,46.51 174.96,46.50 175.32,46.49 175.69,46.48 176.05,46.47 176.41,46.46 176.78,46.45 177.14,46.44 177.51,46.43 177.87,46.42 178.23,46.41 178.60,46.40 178.96,46.39 179.33,46.39 179.69,46.38 180.05,46.37 180.42,46.36 180.78,46.35 181.15,46.34 181.51,46.34 181.87,46.33 182.24,46.32 182.60,46.31 182.97,46.31 183.33,46.30 183.69,46.29 184.06,46.28 184.42,46.28 184.79,46.27 185.15,46.26 185.51,46.26 185.88,46.25 186.24,46.24 186.61,46.24 186.97,46.23 187.33,46.23 187.70,46.22 188.06,46.21 188.43,46.21 188.79,46.20 189.15,46.20 189.52,46.19 189.88,46.19 190.25,46.18 190.61,46.17 190.97,46.17 191.34,46.16 191.70,46.16 192.07,46.15 192.43,46.15 192.79,46.14 193.16,46.14 193.52,46.14 193.89,46.13 194.25,46.13 194.61,46.12 194.98,46.12 195.34,46.11 195.71,46.11 196.07,46.10 196.43,46.10 196.80,46.10 197.16,46.09 197.53,46.09 197.89,46.09 198.25,46.08 198.62,46.08 198.98,46.07 199.35,46.07 199.71,46.07 200.07,46.06 200.44,46.06 200.80,46.06 201.17,46.05 201.53,46.05 201.89,46.05 202.26,46.04 202.62,46.04 202.99,46.04 203.35,46.04 203.71,46.03 204.08,46.03 204.44,46.03 204.81,46.02 205.17,46.02 205.53,46.02 205.90,46.02 206.26,46.01 206.63,46.01 206.99,46.01 207.35,46.01 207.72,46.00 208.08,46.00 208.45,46.00 208.81,46.00 209.17,45.99 209.54,45.99 209.90,45.99 210.27,45.99 210.63,45.99 210.99,45.98 211.36,45.98 211.72,45.98 212.09,45.98 212.45,45.97" fill="none" stroke="#f0342c" stroke-width="1.0" stroke-linejoin="round"/>
<line x1="30.45" x2="30.45" y1="152.5" y2="153.9" stroke="#333" stroke-width="0.6"/>
<line x1="75.95" x2="75.95" y1="152.5" y2="153.9" stroke="#333" stroke-width="0.6"/>
<line x1="121.45" x2="121.45" y1="152.5" y2="153.9" stroke="#333" stroke-width="0.6"/>
<line x1="166.95" x2="166.95" y1="152.5" y2="153.9" stroke="#333" stroke-width="0.6"/>
<line x1="212.45" x2="212.45" y1="152.5" y2="153.9" stroke="#333" stroke-width="0.6"/>
<line y1="147.40" y2="147.40" x1="19.8" x2="21.2" stroke="#333" stroke-width="0.6"/>
<line y1="121.95" y2="121.95" x1="19.8" x2="21.2" stroke="#333" stroke-width="0.6"/>
<line y1="96.50" y2="96.50" x1="19.8" x2="21.2" stroke="#333" stroke-width="0.6"/>
<line y1="71.05" y2="71.05" x1="19.8" x2="21.2" stroke="#333" stroke-width="0.6"/>
<line y1="45.60" y2="45.60" x1="19.8" x2="21.2" stroke="#333" stroke-width="0.6"/>
</g>
<g transform="translate(0,177.5)">
<rect x="172.7" y="11.9" width="9.2" height="25.1" fill="#c6c6c6"/>
<rect x="172.7" y="18.0" width="9.2" height="0.6" fill="#e4e4e4"/>
<rect x="172.7" y="28.0" width="9.2" height="0.5" fill="#d4d4d4"/>
<line x1="173.3" x2="181.3" y1="13.60" y2="13.60" stroke="#1c771c" stroke-width="1.2"/>
<line x1="173.3" x2="181.3" y1="23.30" y2="23.30" stroke="#1f3dff" stroke-width="1.2"/>
<line x1="173.3" x2="181.3" y1="32.60" y2="32.60" stroke="#f0342c" stroke-width="1.2"/>
<rect x="21.2" y="40.3" width="200.60000000000002" height="112.2" fill="#b3b3b3"/>
<line x1="53.20" x2="53.20" y1="40.3" y2="152.5" stroke="#dcdcdc" stroke-width="1.0"/>
<line x1="98.70" x2="98.70" y1="40.3" y2="152.5" stroke="#dcdcdc" stroke-width="1.0"/>
<line x1="144.20" x2="144.20" y1="40.3" y2="152.5" stroke="#dcdcdc" stroke-width="1.0"/>
<line x1="189.70" x2="189.70" y1="40.3" y2="152.5" stroke="#dcdcdc" stroke-width="1.0"/>
<line y1="134.68" y2="134.68" x1="21.2" x2="221.8" stroke="#dcdcdc" stroke-width="1.0"/>
<line y1="109.22" y2="109.22" x1="21.2" x2="221.8" stroke="#dcdcdc" stroke-width="1.0"/>
<line y1="83.78" y2="83.78" x1="21.2" x2="221.8" stroke="#dcdcdc" stroke-width="1.0"/>
<line y1="58.32" y2="58.32" x1="21.2" x2="221.8" stroke="#dcdcdc" stroke-width="1.0"/>
<line x1="30.45" x2="30.45" y1="40.3" y2="152.5" stroke="#f2f2f2" stroke-width="1.2"/>
<line x1="75.95" x2="75.95" y1="40.3" y2="152.5" stroke="#f2f2f2" stroke-width="1.2"/>
<line x1="121.45" x2="121.45" y1="40.3" y2="152.5" stroke="#f2f2f2" stroke-width="1.2"/>
<line x1="166.95" x2="166.95" y1="40.3" y2="152.5" stroke="#f2f2f2" stroke-width="1.2"/>
<line x1="212.45" x2="212.45" y1="40.3" y2="152.5" stroke="#f2f2f2" stroke-width="1.2"/>
<line y1="147.40" y2="147.40" x1="21.2" x2="221.8" stroke="#f2f2f2" stroke-width="1.2"/>
<line y1="121.95" y2="121.95" x1="21.2" x2="221.8" stroke="#f2f2f2" stroke-width="1.2"/>
<line y1="96.50" y2="96.50" x1="21.2" x2="221.8" stroke="#f2f2f2" stroke-width="1.2"/>
<line y1="71.05" y2="71.05" x1="21.2" x2="221.8" stroke="#f2f2f2" stroke-width="1.2"/>
<line y1="45.60" y2="45.60" x1="21.2" x2="221.8" stroke="#f2f2f2" stroke-width="1.2"/>
<rect x="21.55" y="40.65" width="199.90000000000003" height="111.5" fill="none" stroke="#a4a4a4" stroke-width="0.7"/>
<polyline points="30.45,45.70 30.81,45.71 31.18,45.72 31.54,45.74 31.91,45.75 32.27,45.76 32.63,45.78 33.00,45.80 33.36,45.81 33.73,45.83 34.09,45.85 34.45,45.88 34.82,45.90 35.18,45.93 35.55,45.95 35.91,45.98 36.27,46.02 36.64,46.05 37.00,46.09 37.37,46.13 37.73,46.17 38.09,46.22 38.46,46.27 38.82,46.32 39.19,46.38 39.55,46.44 39.91,46.51 40.28,46.58 40.64,46.66 41.01,46.75 41.37,46.84 41.73,46.94 42.10,47.04 42.46,47.15 42.83,47.28 43.19,47.41 43.55,47.55 43.92,47.70 44.28,47.86 44.65,48.03 45.01,48.22 45.37,48.42 45.74,48.63 46.10,48.86 46.47,49.11 46.83,49.37 47.19,49.65 47.56,49.96 47.92,50.28 48.29,50.63 48.65,51.00 49.01,51.39 49.38,51.81 49.74,52.26 50.11,52.74 50.47,53.25 50.83,53.80 51.20,54.37 51.56,54.98 51.93,55.63 52.29,56.32 52.65,57.05 53.02,57.82 53.38,58.63 53.75,59.49 54.11,60.39 54.47,61.34 54.84,62.34 55.20,63.38 55.57,64.47 55.93,65.61 56.29,66.79 56.66,68.03 57.02,69.31 57.39,70.63 57.75,72.00 58.11,73.41 58.48,74.87 58.84,76.36 59.21,77.88 59.57,79.44 59.93,81.03 60.30,82.65 60.66,84.28 61.03,85.94 61.39,87.60 61.75,89.28 62.12,90.96 62.48,92.65 62.85,94.33 63.21,96.00 63.57,97.66 63.94,99.31 64.30,100.93 64.67,102.54 65.03,104.12 65.39,105.66 65.76,107.18 66.12,108.66 66.49,110.11 66.85,111.52 67.21,112.89 67.58,114.22 67.94,115.50 68.31,116.75 68.67,117.95 69.03,119.11 69.40,120.23 69.76,121.30 70.13,122.33 70.49,123.32 70.85,124.27 71.22,125.19 71.58,126.06 71.95,126.89 72.31,127.69 72.67,128.46 73.04,129.18 73.40,129.88 73.77,130.55 74.13,131.18 74.49,131.78 74.86,132.36 75.22,132.91 75.59,133.44 75.95,133.93 76.31,134.41 76.68,134.86 77.04,135.30 77.41,135.71 77.77,136.10 78.13,136.48 78.50,136.83 78.86,137.18 79.23,137.50 79.59,137.81 79.95,138.11 80.32,138.39 80.68,138.66 81.05,138.91 81.41,139.16 81.77,139.39 82.14,139.62 82.50,139.83 82.87,140.04 83.23,140.23 83.59,140.42 83.96,140.60 84.32,140.77 84.69,140.93 85.05,141.09 85.41,141.24 85.78,141.38 86.14,141.52 86.51,141.65 86.87,141.78 87.23,141.90 87.60,142.02 87.96,142.13 88.33,142.24 88.69,142.34 89.05,142.44 89.42,142.53 89.78,142.63 90.15,142.71 90.51,142.80 90.87,142.88 91.24,142.96 91.60,143.04 91.97,143.11 92.33,143.18 92.69,143.25 93.06,143.31 93.42,143.37 93.79,143.43 94.15,143.49 94.51,143.55 94.88,143.60 95.24,143.66 95.61,143.71 95.97,143.76 96.33,143.80 96.70,143.85 97.06,143.89 97.43,143.94 97.79,143.98 98.15,144.02 98.52,144.06 98.88,144.09 99.25,144.13 99.61,144.16 99.97,144.20 100.34,144.23 100.70,144.26 101.07,144.29 101.43,144.32 101.79,144.35 102.16,144.38 102.52,144.41 102.89,144.43 103.25,144.46 103.61,144.48 103.98,144.51 104.34,144.53 104.71,144.55 105.07,144.57 105.43,144.60 105.80,144.62 106.16,144.64 106.53,144.66 106.89,144.68 107.25,144.69 107.62,144.71 107.98,144.73 108.35,144.75 108.71,144.76 109.07,144.78 109.44,144.79 109.80,144.81 110.17,144.82 110.53,144.84 110.89,144.85 111.26,144.86 111.62,144.88 111.99,144.89 112.35,144.90 112.71,144.91 113.08,144.93 113.44,144.94 113.81,144.95 114.17,144.96 114.53,144.97 114.90,144.98 115.26,144.99 115.63,145.00 115.99,145.01 116.35,145.02 116.72,145.03 117.08,145.04 117.45,145.04 117.81,145.05 118.17,145.06 118.54,145.07 118.90,145.08 119.27,145.08 119.63,145.09 119.99,145.10 120.36,145.10 120.72,145.11 121.09,145.12 121.45,145.12 121.81,145.13 122.18,145.14 122.54,145.14 122.91,145.15 123.27,145.15 123.63,145.16 124.00,145.16 124.36,145.17 124.73,145.18 125.09,145.18 125.45,145.19 125.82,145.19 126.18,145.19 126.55,145.20 126.91,145.20 127.27,145.21 127.64,145.21 128.00,145.22 128.37,145.22 128.73,145.22 129.09,145.23 129.46,145.23 129.82,145.23 130.19,145.24 130.55,145.24 130.91,145.24 131.28,145.25 131.64,145.25 132.01,145.25 132.37,145.26 132.73,145.26 133.10,145.26 133.46,145.27 133.83,145.27 134.19,145.27 134.55,145.27 134.92,145.28 135.28,145.28 135.65,145.28 136.01,145.28 136.37,145.29 136.74,145.29 137.10,145.29 137.47,145.29 137.83,145.30 138.19,145.30 138.56,145.30 138.92,145.30 139.29,145.30 139.65,145.30 140.01,145.31 140.38,145.31 140.74,145.31 141.11,145.31 141.47,145.31 141.83,145.32 142.20,145.32 142.56,145.32 142.93,145.32 143.29,145.32 143.65,145.32 144.02,145.32 144.38,145.33 144.75,145.33 145.11,145.33 145.47,145.33 145.84,145.33 146.20,145.33 146.57,145.33 146.93,145.33 147.29,145.34 147.66,145.34 148.02,145.34 148.39,145.34 148.75,145.34 149.11,145.34 149.48,145.34 149.84,145.34 150.21,145.34 150.57,145.34 150.93,145.35 151.30,145.35 151.66,145.35 152.03,145.35 152.39,145.35 152.75,145.35 153.12,145.35 153.48,145.35 153.85,145.35 154.21,145.35 154.57,145.35 154.94,145.35 155.30,145.35 155.67,145.36 156.03,145.36 156.39,145.36 156.76,145.36 157.12,145.36 157.49,145.36 157.85,145.36 158.21,145.36 158.58,145.36 158.94,145.36 159.31,145.36 159.67,145.36 160.03,145.36 160.40,145.36 160.76,145.36 161.13,145.36 161.49,145.36 161.85,145.36 162.22,145.37 162.58,145.37 162.95,145.37 163.31,145.37 163.67,145.37 164.04,145.37 164.40,145.37 164.77,145.37 165.13,145.37 165.49,145.37 165.86,145.37 166.22,145.37 166.59,145.37 166.95,145.37 167.31,145.37 167.68,145.37 168.04,145.37 168.41,145.37 168.77,145.37 169.13,145.37 169.50,145.37 169.86,145.37 170.23,145.37 170.59,145.37 170.95,145.37 171.32,145.37 171.68,145.37 172.05,145.37 172.41,145.37 172.77,145.37 173.14,145.37 173.50,145.37 173.87,145.37 174.23,145.38 174.59,145.38 174.96,145.38 175.32,145.38 175.69,145.38 176.05,145.38 176.41,145.38 176.78,145.38 177.14,145.38 177.51,145.38 177.87,145.38 178.23,145.38 178.60,145.38 178.96,145.38 179.33,145.38 179.69,145.38 180.05,145.38 180.42,145.38 180.78,145.38 181.15,145.38 181.51,145.38 181.87,145.38 182.24,145.38 182.60,145.38 182.97,145.38 183.33,145.38 183.69,145.38 184.06,145.38 184.42,145.38 184.79,145.38 185.15,145.38 185.51,145.38 185.88,145.38 186.24,145.38 186.61,145.38 186.97,145.38 187.33,145.38 187.70,145.38 188.06,145.38 188.43,145.38 188.79,145.38 189.15,145.38 189.52,145.38 189.88,145.38 190.25,145.38 190.61,145.38 190.97,145.38 191.34,145.38 191.70,145.38 192.07,145.38 192.43,145.38 192.79,145.38 193.16,145.38 193.52,145.38 193.89,145.38 194.25,145.38 194.61,145.38 194.98,145.38 195.34,145.38 195.71,145.38 196.07,145.38 196.43,145.38 196.80,145.38 197.16,145.38 197.53,145.38 197.89,145.38 198.25,145.38 198.62,145.38 198.98,145.38 199.35,145.38 199.71,145.38 200.07,145.38 200.44,145.38 200.80,145.38 201.17,145.38 201.53,145.38 201.89,145.38 202.26,145.38 202.62,145.38 202.99,145.38 203.35,145.38 203.71,145.38 204.08,145.38 204.44,145.38 204.81,145.38 205.17,145.38 205.53,145.38 205.90,145.38 206.26,145.38 206.63,145.38 206.99,145.38 207.35,145.38 207.72,145.38 208.08,145.38 208.45,145.38 208.81,145.38 209.17,145.38 209.54,145.38 209.90,145.38 210.27,145.38 210.63,145.38 210.99,145.38 211.36,145.38 211.72,145.38 212.09,145.38 212.45,145.38" fill="none" stroke="#1c771c" stroke-width="1.0" stroke-linejoin="round"/>
<polyline points="30.45,147.30 30.81,147.29 31.18,147.28 31.54,147.27 31.91,147.26 32.27,147.25 32.63,147.24 33.00,147.23 33.36,147.21 33.73,147.20 34.09,147.18 34.45,147.17 34.82,147.15 35.18,147.13 35.55,147.11 35.91,147.09 36.27,147.06 36.64,147.04 37.00,147.01 37.37,146.98 37.73,146.95 38.09,146.91 38.46,146.87 38.82,146.83 39.19,146.79 39.55,146.74 39.91,146.69 40.28,146.64 40.64,146.58 41.01,146.52 41.37,146.45 41.73,146.37 42.10,146.30 42.46,146.21 42.83,146.12 43.19,146.02 43.55,145.92 43.92,145.81 44.28,145.69 44.65,145.56 45.01,145.42 45.37,145.27 45.74,145.11 46.10,144.94 46.47,144.76 46.83,144.56 47.19,144.35 47.56,144.13 47.92,143.89 48.29,143.64 48.65,143.36 49.01,143.07 49.38,142.76 49.74,142.43 50.11,142.08 50.47,141.71 50.83,141.32 51.20,140.90 51.56,140.45 51.93,139.98 52.29,139.48 52.65,138.96 53.02,138.41 53.38,137.83 53.75,137.22 54.11,136.58 54.47,135.91 54.84,135.21 55.20,134.48 55.57,133.72 55.93,132.94 56.29,132.12 56.66,131.28 57.02,130.42 57.39,129.53 57.75,128.61 58.11,127.68 58.48,126.73 58.84,125.77 59.21,124.80 59.57,123.82 59.93,122.83 60.30,121.84 60.66,120.86 61.03,119.88 61.39,118.91 61.75,117.96 62.12,117.02 62.48,116.11 62.85,115.22 63.21,114.37 63.57,113.54 63.94,112.75 64.30,112.00 64.67,111.29 65.03,110.62 65.39,110.00 65.76,109.43 66.12,108.90 66.49,108.42 66.85,107.99 67.21,107.62 67.58,107.29 67.94,107.01 68.31,106.77 68.67,106.59 69.03,106.45 69.40,106.36 69.76,106.31 70.13,106.31 70.49,106.34 70.85,106.42 71.22,106.53 71.58,106.68 71.95,106.86 72.31,107.07 72.67,107.31 73.04,107.58 73.40,107.88 73.77,108.20 74.13,108.54 74.49,108.90 74.86,109.28 75.22,109.68 75.59,110.09 75.95,110.52 76.31,110.96 76.68,111.41 77.04,111.88 77.41,112.35 77.77,112.82 78.13,113.31 78.50,113.80 78.86,114.29 79.23,114.79 79.59,115.28 79.95,115.79 80.32,116.29 80.68,116.79 81.05,117.29 81.41,117.79 81.77,118.29 82.14,118.79 82.50,119.29 82.87,119.78 83.23,120.27 83.59,120.75 83.96,121.23 84.32,121.71 84.69,122.18 85.05,122.65 85.41,123.11 85.78,123.57 86.14,124.02 86.51,124.47 86.87,124.91 87.23,125.35 87.60,125.78 87.96,126.20 88.33,126.62 88.69,127.03 89.05,127.43 89.42,127.83 89.78,128.22 90.15,128.61 90.51,128.99 90.87,129.36 91.24,129.73 91.60,130.09 91.97,130.45 92.33,130.80 92.69,131.14 93.06,131.48 93.42,131.81 93.79,132.13 94.15,132.45 94.51,132.77 94.88,133.07 95.24,133.38 95.61,133.67 95.97,133.96 96.33,134.25 96.70,134.53 97.06,134.80 97.43,135.07 97.79,135.33 98.15,135.59 98.52,135.85 98.88,136.10 99.25,136.34 99.61,136.58 99.97,136.81 100.34,137.04 100.70,137.26 101.07,137.48 101.43,137.70 101.79,137.91 102.16,138.12 102.52,138.32 102.89,138.52 103.25,138.71 103.61,138.90 103.98,139.09 104.34,139.27 104.71,139.45 105.07,139.62 105.43,139.79 105.80,139.96 106.16,140.13 106.53,140.29 106.89,140.44 107.25,140.60 107.62,140.75 107.98,140.89 108.35,141.04 108.71,141.18 109.07,141.32 109.44,141.45 109.80,141.58 110.17,141.71 110.53,141.84 110.89,141.96 111.26,142.08 111.62,142.20 111.99,142.32 112.35,142.43 112.71,142.54 113.08,142.65 113.44,142.76 113.81,142.86 114.17,142.96 114.53,143.06 114.90,143.16 115.26,143.25 115.63,143.35 115.99,143.44 116.35,143.53 116.72,143.61 117.08,143.70 117.45,143.78 117.81,143.86 118.17,143.94 118.54,144.02 118.90,144.09 119.27,144.17 119.63,144.24 119.99,144.31 120.36,144.38 120.72,144.45 121.09,144.52 121.45,144.58 121.81,144.64 122.18,144.71 122.54,144.77 122.91,144.83 123.27,144.88 123.63,144.94 124.00,145.00 124.36,145.05 124.73,145.10 125.09,145.16 125.45,145.21 125.82,145.26 126.18,145.30 126.55,145.35 126.91,145.40 127.27,145.44 127.64,145.49 128.00,145.53 128.37,145.57 128.73,145.61 129.09,145.65 129.46,145.69 129.82,145.73 130.19,145.77 130.55,145.81 130.91,145.84 131.28,145.88 131.64,145.91 132.01,145.95 132.37,145.98 132.73,146.01 133.10,146.04 133.46,146.07 133.83,146.10 134.19,146.13 134.55,146.16 134.92,146.19 135.28,146.22 135.65,146.24 136.01,146.27 136.37,146.30 136.74,146.32 137.10,146.35 137.47,146.37 137.83,146.39 138.19,146.42 138.56,146.44 138.92,146.46 139.29,146.48 139.65,146.50 140.01,146.52 140.38,146.54 140.74,146.56 141.11,146.58 141.47,146.60 141.83,146.62 142.20,146.63 142.56,146.65 142.93,146.67 143.29,146.69 143.65,146.70 144.02,146.72 144.38,146.73 144.75,146.75 145.11,146.76 145.47,146.78 145.84,146.79 146.20,146.81 146.57,146.82 146.93,146.83 147.29,146.85 147.66,146.86 148.02,146.87 148.39,146.88 148.75,146.89 149.11,146.91 149.48,146.92 149.84,146.93 150.21,146.94 150.57,146.95 150.93,146.96 151.30,146.97 151.66,146.98 152.03,146.99 152.39,147.00 152.75,147.01 153.12,147.02 153.48,147.02 153.85,147.03 154.21,147.04 154.57,147.05 154.94,147.06 155.30,147.07 155.67,147.07 156.03,147.08 156.39,147.09 156.76,147.09 157.12,147.10 157.49,147.11 157.85,147.12 158.21,147.12 158.58,147.13 158.94,147.13 159.31,147.14 159.67,147.15 160.03,147.15 160.40,147.16 160.76,147.16 161.13,147.17 161.49,147.17 161.85,147.18 162.22,147.18 162.58,147.19 162.95,147.19 163.31,147.20 163.67,147.20 164.04,147.21 164.40,147.21 164.77,147.22 165.13,147.22 165.49,147.22 165.86,147.23 166.22,147.23 166.59,147.24 166.95,147.24 167.31,147.24 167.68,147.25 168.04,147.25 168.41,147.25 168.77,147.26 169.13,147.26 169.50,147.26 169.86,147.27 170.23,147.27 170.59,147.27 170.95,147.28 171.32,147.28 171.68,147.28 172.05,147.28 172.41,147.29 172.77,147.29 173.14,147.29 173.50,147.29 173.87,147.30 174.23,147.30 174.59,147.30 174.96,147.30 175.32,147.31 175.69,147.31 176.05,147.31 176.41,147.31 176.78,147.31 177.14,147.32 177.51,147.32 177.87,147.32 178.23,147.32 178.60,147.32 178.96,147.32 179.33,147.33 179.69,147.33 180.05,147.33 180.42,147.33 180.78,147.33 181.15,147.33 181.51,147.34 181.87,147.34 182.24,147.34 182.60,147.34 182.97,147.34 183.33,147.34 183.69,147.34 184.06,147.35 184.42,147.35 184.79,147.35 185.15,147.35 185.51,147.35 185.88,147.35 186.24,147.35 186.61,147.35 186.97,147.35 187.33,147.36 187.70,147.36 188.06,147.36 188.43,147.36 188.79,147.36 189.15,147.36 189.52,147.36 189.88,147.36 190.25,147.36 190.61,147.36 190.97,147.36 191.34,147.37 191.70,147.37 192.07,147.37 192.43,147.37 192.79,147.37 193.16,147.37 193.52,147.37 193.89,147.37 194.25,147.37 194.61,147.37 194.98,147.37 195.34,147.37 195.71,147.37 196.07,147.37 196.43,147.38 196.80,147.38 197.16,147.38 197.53,147.38 197.89,147.38 198.25,147.38 198.62,147.38 198.98,147.38 199.35,147.38 199.71,147.38 200.07,147.38 200.44,147.38 200.80,147.38 201.17,147.38 201.53,147.38 201.89,147.38 202.26,147.38 202.62,147.38 202.99,147.38 203.35,147.38 203.71,147.38 204.08,147.38 204.44,147.39 204.81,147.39 205.17,147.39 205.53,147.39 205.90,147.39 206.26,147.39 206.63,147.39 206.99,147.39 207.35,147.39 207.72,147.39 208.08,147.39 208.45,147.39 208.81,147.39 209.17,147.39 209.54,147.39 209.90,147.39 210.27,147.39 210.63,147.39 210.99,147.39 211.36,147.39 211.72,147.39 212.09,147.39 212.45,147.39" fill="none" stroke="#1f3dff" stroke-width="1.0" stroke-linejoin="round"/>
<polyline points="30.45,147.40 30.81,147.40 31.18,147.39 31.54,147.39 31.91,147.39 32.27,147.38 32.63,147.38 33.00,147.38 33.36,147.37 33.73,147.37 34.09,147.36 34.45,147.36 34.82,147.35 35.18,147.34 35.55,147.34 35.91,147.33 36.27,147.32 36.64,147.31 37.00,147.30 37.37,147.29 37.73,147.28 38.09,147.27 38.46,147.26 38.82,147.24 39.19,147.23 39.55,147.21 39.91,147.20 40.28,147.18 40.64,147.16 41.01,147.14 41.37,147.11 41.73,147.09 42.10,147.06 42.46,147.03 42.83,147.00 43.19,146.97 43.55,146.93 43.92,146.90 44.28,146.85 44.65,146.81 45.01,146.76 45.37,146.71 45.74,146.66 46.10,146.60 46.47,146.53 46.83,146.46 47.19,146.39 47.56,146.31 47.92,146.23 48.29,146.14 48.65,146.04 49.01,145.93 49.38,145.82 49.74,145.70 50.11,145.57 50.47,145.44 50.83,145.29 51.20,145.13 51.56,144.96 51.93,144.78 52.29,144.59 52.65,144.39 53.02,144.17 53.38,143.94 53.75,143.69 54.11,143.43 54.47,143.15 54.84,142.85 55.20,142.54 55.57,142.21 55.93,141.86 56.29,141.49 56.66,141.09 57.02,140.68 57.39,140.24 57.75,139.78 58.11,139.30 58.48,138.80 58.84,138.27 59.21,137.72 59.57,137.14 59.93,136.54 60.30,135.91 60.66,135.26 61.03,134.58 61.39,133.88 61.75,133.16 62.12,132.41 62.48,131.64 62.85,130.85 63.21,130.03 63.57,129.20 63.94,128.34 64.30,127.46 64.67,126.57 65.03,125.66 65.39,124.73 65.76,123.79 66.12,122.83 66.49,121.87 66.85,120.89 67.21,119.90 67.58,118.90 67.94,117.89 68.31,116.88 68.67,115.86 69.03,114.84 69.40,113.81 69.76,112.79 70.13,111.76 70.49,110.73 70.85,109.71 71.22,108.68 71.58,107.66 71.95,106.65 72.31,105.64 72.67,104.63 73.04,103.63 73.40,102.64 73.77,101.66 74.13,100.68 74.49,99.71 74.86,98.76 75.22,97.81 75.59,96.87 75.95,95.94 76.31,95.03 76.68,94.12 77.04,93.23 77.41,92.34 77.77,91.47 78.13,90.62 78.50,89.77 78.86,88.94 79.23,88.11 79.59,87.31 79.95,86.51 80.32,85.72 80.68,84.95 81.05,84.19 81.41,83.45 81.77,82.71 82.14,81.99 82.50,81.28 82.87,80.59 83.23,79.90 83.59,79.23 83.96,78.57 84.32,77.92 84.69,77.29 85.05,76.66 85.41,76.05 85.78,75.45 86.14,74.86 86.51,74.28 86.87,73.71 87.23,73.15 87.60,72.61 87.96,72.07 88.33,71.55 88.69,71.03 89.05,70.53 89.42,70.03 89.78,69.55 90.15,69.08 90.51,68.61 90.87,68.15 91.24,67.71 91.60,67.27 91.97,66.84 92.33,66.42 92.69,66.01 93.06,65.61 93.42,65.22 93.79,64.83 94.15,64.45 94.51,64.08 94.88,63.72 95.24,63.37 95.61,63.02 95.97,62.68 96.33,62.35 96.70,62.02 97.06,61.70 97.43,61.39 97.79,61.09 98.15,60.79 98.52,60.50 98.88,60.21 99.25,59.93 99.61,59.66 99.97,59.39 100.34,59.13 100.70,58.87 101.07,58.62 101.43,58.38 101.79,58.14 102.16,57.90 102.52,57.67 102.89,57.45 103.25,57.23 103.61,57.01 103.98,56.80 104.34,56.60 104.71,56.40 105.07,56.20 105.43,56.01 105.80,55.82 106.16,55.64 106.53,55.46 106.89,55.28 107.25,55.11 107.62,54.94 107.98,54.78 108.35,54.62 108.71,54.46 109.07,54.31 109.44,54.15 109.80,54.01 110.17,53.86 110.53,53.72 110.89,53.59 111.26,53.45 111.62,53.32 111.99,53.19 112.35,53.07 112.71,52.94 113.08,52.82 113.44,52.71 113.81,52.59 114.17,52.48 114.53,52.37 114.90,52.26 115.26,52.16 115.63,52.05 115.99,51.95 116.35,51.86 116.72,51.76 117.08,51.67 117.45,51.58 117.81,51.49 118.17,51.40 118.54,51.31 118.90,51.23 119.27,51.15 119.63,51.07 119.99,50.99 120.36,50.91 120.72,50.84 121.09,50.77 121.45,50.69 121.81,50.62 122.18,50.56 122.54,50.49 122.91,50.43 123.27,50.36 123.63,50.30 124.00,50.24 124.36,50.18 124.73,50.12 125.09,50.06 125.45,50.01 125.82,49.95 126.18,49.90 126.55,49.85 126.91,49.80 127.27,49.75 127.64,49.70 128.00,49.65 128.37,49.61 128.73,49.56 129.09,49.52 129.46,49.48 129.82,49.43 130.19,49.39 130.55,49.35 130.91,49.31 131.28,49.27 131.64,49.24 132.01,49.20 132.37,49.16 132.73,49.13 133.10,49.09 133.46,49.06 133.83,49.03 134.19,49.00 134.55,48.96 134.92,48.93 135.28,48.90 135.65,48.87 136.01,48.85 136.37,48.82 136.74,48.79 137.10,48.76 137.47,48.74 137.83,48.71 138.19,48.69 138.56,48.66 138.92,48.64 139.29,48.62 139.65,48.59 140.01,48.57 140.38,48.55 140.74,48.53 141.11,48.51 141.47,48.49 141.83,48.47 142.20,48.45 142.56,48.43 142.93,48.41 143.29,48.39 143.65,48.38 144.02,48.36 144.38,48.34 144.75,48.32 145.11,48.31 145.47,48.29 145.84,48.28 146.20,48.26 146.57,48.25 146.93,48.23 147.29,48.22 147.66,48.21 148.02,48.19 148.39,48.18 148.75,48.17 149.11,48.15 149.48,48.14 149.84,48.13 150.21,48.12 150.57,48.11 150.93,48.10 151.30,48.08 151.66,48.07 152.03,48.06 152.39,48.05 152.75,48.04 153.12,48.03 153.48,48.02 153.85,48.01 154.21,48.01 154.57,48.00 154.94,47.99 155.30,47.98 155.67,47.97 156.03,47.96 156.39,47.96 156.76,47.95 157.12,47.94 157.49,47.93 157.85,47.93 158.21,47.92 158.58,47.91 158.94,47.91 159.31,47.90 159.67,47.89 160.03,47.89 160.40,47.88 160.76,47.87 161.13,47.87 161.49,47.86 161.85,47.86 162.22,47.85 162.58,47.85 162.95,47.84 163.31,47.84 163.67,47.83 164.04,47.83 164.40,47.82 164.77,47.82 165.13,47.81 165.49,47.81 165.86,47.80 166.22,47.80 166.59,47.79 166.95,47.79 167.31,47.79 167.68,47.78 168.04,47.78 168.41,47.78 168.77,47.77 169.13,47.77 169.50,47.76 169.86,47.76 170.23,47.76 170.59,47.75 170.95,47.75 171.32,47.75 171.68,47.75 172.05,47.74 172.41,47.74 172.77,47.74 173.14,47.73 173.50,47.73 173.87,47.73 174.23,47.73 174.59,47.72 174.96,47.72 175.32,47.72 175.69,47.72 176.05,47.71 176.41,47.71 176.78,47.71 177.14,47.71 177.51,47.71 177.87,47.70 178.23,47.70 178.60,47.70 178.96,47.70 179.33,47.70 179.69,47.69 180.05,47.69 180.42,47.69 180.78,47.69 181.15,47.69 181.51,47.69 181.87,47.68 182.24,47.68 182.60,47.68 182.97,47.68 183.33,47.68 183.69,47.68 184.06,47.68 184.42,47.67 184.79,47.67 185.15,47.67 185.51,47.67 185.88,47.67 186.24,47.67 186.61,47.67 186.97,47.67 187.33,47.66 187.70,47.66 188.06,47.66 188.43,47.66 188.79,47.66 189.15,47.66 189.52,47.66 189.88,47.66 190.25,47.66 190.61,47.66 190.97,47.65 191.34,47.65 191.70,47.65 192.07,47.65 192.43,47.65 192.79,47.65 193.16,47.65 193.52,47.65 193.89,47.65 194.25,47.65 194.61,47.65 194.98,47.65 195.34,47.65 195.71,47.64 196.07,47.64 196.43,47.64 196.80,47.64 197.16,47.64 197.53,47.64 197.89,47.64 198.25,47.64 198.62,47.64 198.98,47.64 199.35,47.64 199.71,47.64 200.07,47.64 200.44,47.64 200.80,47.64 201.17,47.64 201.53,47.64 201.89,47.64 202.26,47.63 202.62,47.63 202.99,47.63 203.35,47.63 203.71,47.63 204.08,47.63 204.44,47.63 204.81,47.63 205.17,47.63 205.53,47.63 205.90,47.63 206.26,47.63 206.63,47.63 206.99,47.63 207.35,47.63 207.72,47.63 208.08,47.63 208.45,47.63 208.81,47.63 209.17,47.63 209.54,47.63 209.90,47.63 210.27,47.63 210.63,47.63 210.99,47.63 211.36,47.63 211.72,47.63 212.09,47.63 212.45,47.63" fill="none" stroke="#f0342c" stroke-width="1.0" stroke-linejoin="round"/>
<line x1="30.45" x2="30.45" y1="152.5" y2="153.9" stroke="#333" stroke-width="0.6"/>
<line x1="75.95" x2="75.95" y1="152.5" y2="153.9" stroke="#333" stroke-width="0.6"/>
<line x1="121.45" x2="121.45" y1="152.5" y2="153.9" stroke="#333" stroke-width="0.6"/>
<line x1="166.95" x2="166.95" y1="152.5" y2="153.9" stroke="#333" stroke-width="0.6"/>
<line x1="212.45" x2="212.45" y1="152.5" y2="153.9" stroke="#333" stroke-width="0.6"/>
<line y1="147.40" y2="147.40" x1="19.8" x2="21.2" stroke="#333" stroke-width="0.6"/>
<line y1="121.95" y2="121.95" x1="19.8" x2="21.2" stroke="#333" stroke-width="0.6"/>
<line y1="96.50" y2="96.50" x1="19.8" x2="21.2" stroke="#333" stroke-width="0.6"/>
<line y1="71.05" y2="71.05" x1="19.8" x2="21.2" stroke="#333" stroke-width="0.6"/>
<line y1="45.60" y2="45.60" x1="19.8" x2="21.2" stroke="#333" stroke-width="0.6"/>
</g>
<g transform="translate(230,177.5)">
<rect x="172.7" y="11.9" width="9.2" height="25.1" fill="#c6c6c6"/>
<rect x="172.7" y="18.0" width="9.2" height="0.6" fill="#e4e4e4"/>
<rect x="172.7" y="28.0" width="9.2" height="0.5" fill="#d4d4d4"/>
<line x1="173.3" x2="181.3" y1="13.60" y2="13.60" stroke="#1c771c" stroke-width="1.2"/>
<line x1="173.3" x2="181.3" y1="23.30" y2="23.30" stroke="#1f3dff" stroke-width="1.2"/>
<line x1="173.3" x2="181.3" y1="32.60" y2="32.60" stroke="#f0342c" stroke-width="1.2"/>
<rect x="21.2" y="40.3" width="200.60000000000002" height="112.2" fill="#b3b3b3"/>
<line x1="53.20" x2="53.20" y1="40.3" y2="152.5" stroke="#dcdcdc" stroke-width="1.0"/>
<line x1="98.70" x2="98.70" y1="40.3" y2="152.5" stroke="#dcdcdc" stroke-width="1.0"/>
<line x1="144.20" x2="144.20" y1="40.3" y2="152.5" stroke="#dcdcdc" stroke-width="1.0"/>
<line x1="189.70" x2="189.70" y1="40.3" y2="152.5" stroke="#dcdcdc" stroke-width="1.0"/>
<line y1="134.68" y2="134.68" x1="21.2" x2="221.8" stroke="#dcdcdc" stroke-width="1.0"/>
<line y1="109.22" y2="109.22" x1="21.2" x2="221.8" stroke="#dcdcdc" stroke-width="1.0"/>
<line y1="83.78" y2="83.78" x1="21.2" x2="221.8" stroke="#dcdcdc" stroke-width="1.0"/>
<line y1="58.32" y2="58.32" x1="21.2" x2="221.8" stroke="#dcdcdc" stroke-width="1.0"/>
<line x1="30.45" x2="30.45" y1="40.3" y2="152.5" stroke="#f2f2f2" stroke-width="1.2"/>
<line x1="75.95" x2="75.95" y1="40.3" y2="152.5" stroke="#f2f2f2" stroke-width="1.2"/>
<line x1="121.45" x2="121.45" y1="40.3" y2="152.5" stroke="#f2f2f2" stroke-width="1.2"/>
<line x1="166.95" x2="166.95" y1="40.3" y2="152.5" stroke="#f2f2f2" stroke-width="1.2"/>
<line x1="212.45" x2="212.45" y1="40.3" y2="152.5" stroke="#f2f2f2" stroke-width="1.2"/>
<line y1="147.40" y2="147.40" x1="21.2" x2="221.8" stroke="#f2f2f2" stroke-width="1.2"/>
<line y1="121.95" y2="121.95" x1="21.2" x2="221.8" stroke="#f2f2f2" stroke-width="1.2"/>
<line y1="96.50" y2="96.50" x1="21.2" x2="221.8" stroke="#f2f2f2" stroke-width="1.2"/>
<line y1="71.05" y2="71.05" x1="21.2" x2="221.8" stroke="#f2f2f2" stroke-width="1.2"/>
<line y1="45.60" y2="45.60" x1="21.2" x2="221.8" stroke="#f2f2f2" stroke-width="1.2"/>
<rect x="21.55" y="40.65" width="199.90000000000003" height="111.5" fill="none" stroke="#a4a4a4" stroke-width="0.7"/>
<polyline points="30.45,45.70 30.81,45.71 31.18,45.72 31.54,45.73 31.91,45.75 32.27,45.76 32.63,45.77 33.00,45.79 33.36,45.80 33.73,45.82 34.09,45.83 34.45,45.85 34.82,45.87 35.18,45.89 35.55,45.91 35.91,45.93 36.27,45.95 36.64,45.97 37.00,46.00 37.37,46.02 37.73,46.05 38.09,46.08 38.46,46.11 38.82,46.14 39.19,46.17 39.55,46.21 39.91,46.24 40.28,46.28 40.64,46.32 41.01,46.36 41.37,46.40 41.73,46.45 42.10,46.50 42.46,46.55 42.83,46.60 43.19,46.66 43.55,46.72 43.92,46.78 44.28,46.84 44.65,46.91 45.01,46.98 45.37,47.05 45.74,47.13 46.10,47.21 46.47,47.30 46.83,47.39 47.19,47.48 47.56,47.58 47.92,47.69 48.29,47.80 48.65,47.91 49.01,48.03 49.38,48.15 49.74,48.29 50.11,48.42 50.47,48.57 50.83,48.72 51.20,48.87 51.56,49.04 51.93,49.21 52.29,49.39 52.65,49.58 53.02,49.77 53.38,49.98 53.75,50.19 54.11,50.42 54.47,50.65 54.84,50.89 55.20,51.15 55.57,51.41 55.93,51.69 56.29,51.98 56.66,52.28 57.02,52.59 57.39,52.92 57.75,53.25 58.11,53.60 58.48,53.97 58.84,54.35 59.21,54.74 59.57,55.15 59.93,55.57 60.30,56.01 60.66,56.47 61.03,56.94 61.39,57.42 61.75,57.92 62.12,58.44 62.48,58.98 62.85,59.53 63.21,60.10 63.57,60.68 63.94,61.29 64.30,61.91 64.67,62.54 65.03,63.19 65.39,63.86 65.76,64.55 66.12,65.25 66.49,65.97 66.85,66.70 67.21,67.44 67.58,68.21 67.94,68.98 68.31,69.77 68.67,70.57 69.03,71.38 69.40,72.21 69.76,73.04 70.13,73.89 70.49,74.74 70.85,75.61 71.22,76.47 71.58,77.35 71.95,78.23 72.31,79.12 72.67,80.01 73.04,80.90 73.40,81.80 73.77,82.69 74.13,83.58 74.49,84.48 74.86,85.37 75.22,86.26 75.59,87.14 75.95,88.02 76.31,88.90 76.68,89.76 77.04,90.62 77.41,91.48 77.77,92.32 78.13,93.15 78.50,93.98 78.86,94.79 79.23,95.59 79.59,96.39 79.95,97.16 80.32,97.93 80.68,98.69 81.05,99.43 81.41,100.15 81.77,100.87 82.14,101.57 82.50,102.25 82.87,102.93 83.23,103.58 83.59,104.23 83.96,104.86 84.32,105.47 84.69,106.08 85.05,106.66 85.41,107.24 85.78,107.79 86.14,108.34 86.51,108.87 86.87,109.39 87.23,109.89 87.60,110.39 87.96,110.86 88.33,111.33 88.69,111.78 89.05,112.22 89.42,112.65 89.78,113.07 90.15,113.48 90.51,113.87 90.87,114.25 91.24,114.62 91.60,114.99 91.97,115.34 92.33,115.68 92.69,116.01 93.06,116.33 93.42,116.64 93.79,116.95 94.15,117.24 94.51,117.52 94.88,117.80 95.24,118.07 95.61,118.33 95.97,118.58 96.33,118.83 96.70,119.07 97.06,119.30 97.43,119.52 97.79,119.74 98.15,119.95 98.52,120.15 98.88,120.35 99.25,120.54 99.61,120.73 99.97,120.91 100.34,121.09 100.70,121.26 101.07,121.42 101.43,121.58 101.79,121.73 102.16,121.88 102.52,122.03 102.89,122.17 103.25,122.31 103.61,122.44 103.98,122.57 104.34,122.70 104.71,122.82 105.07,122.93 105.43,123.05 105.80,123.16 106.16,123.27 106.53,123.37 106.89,123.47 107.25,123.57 107.62,123.66 107.98,123.76 108.35,123.84 108.71,123.93 109.07,124.01 109.44,124.10 109.80,124.18 110.17,124.25 110.53,124.33 110.89,124.40 111.26,124.47 111.62,124.54 111.99,124.60 112.35,124.67 112.71,124.73 113.08,124.79 113.44,124.85 113.81,124.90 114.17,124.96 114.53,125.01 114.90,125.06 115.26,125.11 115.63,125.16 115.99,125.21 116.35,125.25 116.72,125.30 117.08,125.34 117.45,125.38 117.81,125.42 118.17,125.46 118.54,125.50 118.90,125.54 119.27,125.57 119.63,125.61 119.99,125.64 120.36,125.67 120.72,125.70 121.09,125.74 121.45,125.77 121.81,125.79 122.18,125.82 122.54,125.85 122.91,125.88 123.27,125.90 123.63,125.93 124.00,125.95 124.36,125.97 124.73,126.00 125.09,126.02 125.45,126.04 125.82,126.06 126.18,126.08 126.55,126.10 126.91,126.12 127.27,126.14 127.64,126.16 128.00,126.18 128.37,126.19 128.73,126.21 129.09,126.22 129.46,126.24 129.82,126.25 130.19,126.27 130.55,126.28 130.91,126.30 131.28,126.31 131.64,126.32 132.01,126.34 132.37,126.35 132.73,126.36 133.10,126.37 133.46,126.38 133.83,126.39 134.19,126.40 134.55,126.41 134.92,126.42 135.28,126.43 135.65,126.44 136.01,126.45 136.37,126.46 136.74,126.47 137.10,126.48 137.47,126.49 137.83,126.49 138.19,126.50 138.56,126.51 138.92,126.52 139.29,126.52 139.65,126.53 140.01,126.54 140.38,126.54 140.74,126.55 141.11,126.55 141.47,126.56 141.83,126.56 142.20,126.57 142.56,126.58 142.93,126.58 143.29,126.59 143.65,126.59 144.02,126.60 144.38,126.60 144.75,126.60 145.11,126.61 145.47,126.61 145.84,126.62 146.20,126.62 146.57,126.62 146.93,126.63 147.29,126.63 147.66,126.64 148.02,126.64 148.39,126.64 148.75,126.64 149.11,126.65 149.48,126.65 149.84,126.65 150.21,126.66 150.57,126.66 150.93,126.66 151.30,126.66 151.66,126.67 152.03,126.67 152.39,126.67 152.75,126.67 153.12,126.68 153.48,126.68 153.85,126.68 154.21,126.68 154.57,126.68 154.94,126.69 155.30,126.69 155.67,126.69 156.03,126.69 156.39,126.69 156.76,126.70 157.12,126.70 157.49,126.70 157.85,126.70 158.21,126.70 158.58,126.70 158.94,126.70 159.31,126.71 159.67,126.71 160.03,126.71 160.40,126.71 160.76,126.71 161.13,126.71 161.49,126.71 161.85,126.71 162.22,126.72 162.58,126.72 162.95,126.72 163.31,126.72 163.67,126.72 164.04,126.72 164.40,126.72 164.77,126.72 165.13,126.72 165.49,126.72 165.86,126.72 166.22,126.72 166.59,126.73 166.95,126.73 167.31,126.73 167.68,126.73 168.04,126.73 168.41,126.73 168.77,126.73 169.13,126.73 169.50,126.73 169.86,126.73 170.23,126.73 170.59,126.73 170.95,126.73 171.32,126.73 171.68,126.73 172.05,126.73 172.41,126.74 172.77,126.74 173.14,126.74 173.50,126.74 173.87,126.74 174.23,126.74 174.59,126.74 174.96,126.74 175.32,126.74 175.69,126.74 176.05,126.74 176.41,126.74 176.78,126.74 177.14,126.74 177.51,126.74 177.87,126.74 178.23,126.74 178.60,126.74 178.96,126.74 179.33,126.74 179.69,126.74 180.05,126.74 180.42,126.74 180.78,126.74 181.15,126.74 181.51,126.74 181.87,126.74 182.24,126.74 182.60,126.74 182.97,126.74 183.33,126.74 183.69,126.74 184.06,126.74 184.42,126.74 184.79,126.74 185.15,126.74 185.51,126.75 185.88,126.75 186.24,126.75 186.61,126.75 186.97,126.75 187.33,126.75 187.70,126.75 188.06,126.75 188.43,126.75 188.79,126.75 189.15,126.75 189.52,126.75 189.88,126.75 190.25,126.75 190.61,126.75 190.97,126.75 191.34,126.75 191.70,126.75 192.07,126.75 192.43,126.75 192.79,126.75 193.16,126.75 193.52,126.75 193.89,126.75 194.25,126.75 194.61,126.75 194.98,126.75 195.34,126.75 195.71,126.75 196.07,126.75 196.43,126.75 196.80,126.75 197.16,126.75 197.53,126.75 197.89,126.75 198.25,126.75 198.62,126.75 198.98,126.75 199.35,126.75 199.71,126.75 200.07,126.75 200.44,126.75 200.80,126.75 201.17,126.75 201.53,126.75 201.89,126.75 202.26,126.75 202.62,126.75 202.99,126.75 203.35,126.75 203.71,126.75 204.08,126.75 204.44,126.75 204.81,126.75 205.17,126.75 205.53,126.75 205.90,126.75 206.26,126.75 206.63,126.75 206.99,126.75 207.35,126.75 207.72,126.75 208.08,126.75 208.45,126.75 208.81,126.75 209.17,126.75 209.54,126.75 209.90,126.75 210.27,126.75 210.63,126.75 210.99,126.75 211.36,126.75 211.72,126.75 212.09,126.75 212.45,126.75" fill="none" stroke="#1c771c" stroke-width="1.0" stroke-linejoin="round"/>
<polyline points="30.45,147.30 30.81,147.29 31.18,147.29 31.54,147.28 31.91,147.28 32.27,147.27 32.63,147.26 33.00,147.26 33.36,147.25 33.73,147.24 34.09,147.23 34.45,147.22 34.82,147.21 35.18,147.21 35.55,147.20 35.91,147.19 36.27,147.17 36.64,147.16 37.00,147.15 37.37,147.14 37.73,147.12 38.09,147.11 38.46,147.10 38.82,147.08 39.19,147.06 39.55,147.05 39.91,147.03 40.28,147.01 40.64,146.99 41.01,146.97 41.37,146.95 41.73,146.93 42.10,146.90 42.46,146.88 42.83,146.85 43.19,146.82 43.55,146.79 43.92,146.76 44.28,146.73 44.65,146.70 45.01,146.66 45.37,146.63 45.74,146.59 46.10,146.55 46.47,146.51 46.83,146.46 47.19,146.42 47.56,146.37 47.92,146.32 48.29,146.26 48.65,146.21 49.01,146.15 49.38,146.09 49.74,146.02 50.11,145.96 50.47,145.89 50.83,145.82 51.20,145.74 51.56,145.66 51.93,145.58 52.29,145.49 52.65,145.40 53.02,145.31 53.38,145.21 53.75,145.11 54.11,145.00 54.47,144.89 54.84,144.77 55.20,144.65 55.57,144.53 55.93,144.40 56.29,144.26 56.66,144.12 57.02,143.98 57.39,143.83 57.75,143.67 58.11,143.51 58.48,143.35 58.84,143.17 59.21,143.00 59.57,142.81 59.93,142.62 60.30,142.43 60.66,142.23 61.03,142.02 61.39,141.81 61.75,141.59 62.12,141.37 62.48,141.14 62.85,140.91 63.21,140.67 63.57,140.43 63.94,140.18 64.30,139.93 64.67,139.67 65.03,139.41 65.39,139.15 65.76,138.88 66.12,138.62 66.49,138.34 66.85,138.07 67.21,137.80 67.58,137.52 67.94,137.25 68.31,136.98 68.67,136.70 69.03,136.43 69.40,136.16 69.76,135.90 70.13,135.63 70.49,135.37 70.85,135.12 71.22,134.87 71.58,134.63 71.95,134.39 72.31,134.16 72.67,133.94 73.04,133.72 73.40,133.52 73.77,133.32 74.13,133.14 74.49,132.96 74.86,132.79 75.22,132.64 75.59,132.50 75.95,132.37 76.31,132.25 76.68,132.14 77.04,132.05 77.41,131.96 77.77,131.89 78.13,131.84 78.50,131.79 78.86,131.76 79.23,131.74 79.59,131.73 79.95,131.73 80.32,131.75 80.68,131.78 81.05,131.82 81.41,131.87 81.77,131.93 82.14,132.00 82.50,132.08 82.87,132.17 83.23,132.27 83.59,132.38 83.96,132.50 84.32,132.63 84.69,132.76 85.05,132.90 85.41,133.05 85.78,133.21 86.14,133.37 86.51,133.53 86.87,133.70 87.23,133.88 87.60,134.06 87.96,134.24 88.33,134.43 88.69,134.62 89.05,134.81 89.42,135.01 89.78,135.21 90.15,135.41 90.51,135.61 90.87,135.81 91.24,136.01 91.60,136.21 91.97,136.42 92.33,136.62 92.69,136.82 93.06,137.03 93.42,137.23 93.79,137.43 94.15,137.63 94.51,137.83 94.88,138.02 95.24,138.22 95.61,138.41 95.97,138.60 96.33,138.79 96.70,138.98 97.06,139.17 97.43,139.35 97.79,139.53 98.15,139.71 98.52,139.89 98.88,140.06 99.25,140.23 99.61,140.40 99.97,140.56 100.34,140.73 100.70,140.89 101.07,141.04 101.43,141.20 101.79,141.35 102.16,141.50 102.52,141.64 102.89,141.79 103.25,141.93 103.61,142.06 103.98,142.20 104.34,142.33 104.71,142.46 105.07,142.58 105.43,142.71 105.80,142.83 106.16,142.95 106.53,143.06 106.89,143.18 107.25,143.29 107.62,143.40 107.98,143.50 108.35,143.60 108.71,143.71 109.07,143.80 109.44,143.90 109.80,143.99 110.17,144.08 110.53,144.17 110.89,144.26 111.26,144.35 111.62,144.43 111.99,144.51 112.35,144.59 112.71,144.67 113.08,144.74 113.44,144.81 113.81,144.88 114.17,144.95 114.53,145.02 114.90,145.09 115.26,145.15 115.63,145.21 115.99,145.27 116.35,145.33 116.72,145.39 117.08,145.45 117.45,145.50 117.81,145.55 118.17,145.61 118.54,145.66 118.90,145.71 119.27,145.75 119.63,145.80 119.99,145.84 120.36,145.89 120.72,145.93 121.09,145.97 121.45,146.01 121.81,146.05 122.18,146.09 122.54,146.13 122.91,146.16 123.27,146.20 123.63,146.23 124.00,146.27 124.36,146.30 124.73,146.33 125.09,146.36 125.45,146.39 125.82,146.42 126.18,146.45 126.55,146.48 126.91,146.50 127.27,146.53 127.64,146.55 128.00,146.58 128.37,146.60 128.73,146.62 129.09,146.65 129.46,146.67 129.82,146.69 130.19,146.71 130.55,146.73 130.91,146.75 131.28,146.77 131.64,146.79 132.01,146.80 132.37,146.82 132.73,146.84 133.10,146.85 133.46,146.87 133.83,146.88 134.19,146.90 134.55,146.91 134.92,146.93 135.28,146.94 135.65,146.96 136.01,146.97 136.37,146.98 136.74,146.99 137.10,147.00 137.47,147.02 137.83,147.03 138.19,147.04 138.56,147.05 138.92,147.06 139.29,147.07 139.65,147.08 140.01,147.09 140.38,147.10 140.74,147.11 141.11,147.11 141.47,147.12 141.83,147.13 142.20,147.14 142.56,147.15 142.93,147.15 143.29,147.16 143.65,147.17 144.02,147.17 144.38,147.18 144.75,147.19 145.11,147.19 145.47,147.20 145.84,147.21 146.20,147.21 146.57,147.22 146.93,147.22 147.29,147.23 147.66,147.23 148.02,147.24 148.39,147.24 148.75,147.25 149.11,147.25 149.48,147.26 149.84,147.26 150.21,147.26 150.57,147.27 150.93,147.27 151.30,147.28 151.66,147.28 152.03,147.28 152.39,147.29 152.75,147.29 153.12,147.29 153.48,147.30 153.85,147.30 154.21,147.30 154.57,147.30 154.94,147.31 155.30,147.31 155.67,147.31 156.03,147.32 156.39,147.32 156.76,147.32 157.12,147.32 157.49,147.32 157.85,147.33 158.21,147.33 158.58,147.33 158.94,147.33 159.31,147.33 159.67,147.34 160.03,147.34 160.40,147.34 160.76,147.34 161.13,147.34 161.49,147.35 161.85,147.35 162.22,147.35 162.58,147.35 162.95,147.35 163.31,147.35 163.67,147.35 164.04,147.36 164.40,147.36 164.77,147.36 165.13,147.36 165.49,147.36 165.86,147.36 166.22,147.36 166.59,147.36 166.95,147.37 167.31,147.37 167.68,147.37 168.04,147.37 168.41,147.37 168.77,147.37 169.13,147.37 169.50,147.37 169.86,147.37 170.23,147.37 170.59,147.37 170.95,147.37 171.32,147.38 171.68,147.38 172.05,147.38 172.41,147.38 172.77,147.38 173.14,147.38 173.50,147.38 173.87,147.38 174.23,147.38 174.59,147.38 174.96,147.38 175.32,147.38 175.69,147.38 176.05,147.38 176.41,147.38 176.78,147.38 177.14,147.38 177.51,147.39 177.87,147.39 178.23,147.39 178.60,147.39 178.96,147.39 179.33,147.39 179.69,147.39 180.05,147.39 180.42,147.39 180.78,147.39 181.15,147.39 181.51,147.39 181.87,147.39 182.24,147.39 182.60,147.39 182.97,147.39 183.33,147.39 183.69,147.39 184.06,147.39 184.42,147.39 184.79,147.39 185.15,147.39 185.51,147.39 185.88,147.39 186.24,147.39 186.61,147.39 186.97,147.39 187.33,147.39 187.70,147.39 188.06,147.39 188.43,147.39 188.79,147.39 189.15,147.39 189.52,147.39 189.88,147.39 190.25,147.39 190.61,147.39 190.97,147.40 191.34,147.40 191.70,147.40 192.07,147.40 192.43,147.40 192.79,147.40 193.16,147.40 193.52,147.40 193.89,147.40 194.25,147.40 194.61,147.40 194.98,147.40 195.34,147.40 195.71,147.40 196.07,147.40 196.43,147.40 196.80,147.40 197.16,147.40 197.53,147.40 197.89,147.40 198.25,147.40 198.62,147.40 198.98,147.40 199.35,147.40 199.71,147.40 200.07,147.40 200.44,147.40 200.80,147.40 201.17,147.40 201.53,147.40 201.89,147.40 202.26,147.40 202.62,147.40 202.99,147.40 203.35,147.40 203.71,147.40 204.08,147.40 204.44,147.40 204.81,147.40 205.17,147.40 205.53,147.40 205.90,147.40 206.26,147.40 206.63,147.40 206.99,147.40 207.35,147.40 207.72,147.40 208.08,147.40 208.45,147.40 208.81,147.40 209.17,147.40 209.54,147.40 209.90,147.40 210.27,147.40 210.63,147.40 210.99,147.40 211.36,147.40 211.72,147.40 212.09,147.40 212.45,147.40" fill="none" stroke="#1f3dff" stroke-width="1.0" stroke-linejoin="round"/>
<polyline points="30.45,147.40 30.81,147.39 31.18,147.39 31.54,147.38 31.91,147.38 32.27,147.37 32.63,147.36 33.00,147.36 33.36,147.35 33.73,147.34 34.09,147.33 34.45,147.33 34.82,147.32 35.18,147.31 35.55,147.30 35.91,147.29 36.27,147.28 36.64,147.26 37.00,147.25 37.37,147.24 37.73,147.23 38.09,147.21 38.46,147.20 38.82,147.18 39.19,147.16 39.55,147.15 39.91,147.13 40.28,147.11 40.64,147.09 41.01,147.07 41.37,147.05 41.73,147.02 42.10,147.00 42.46,146.97 42.83,146.95 43.19,146.92 43.55,146.89 43.92,146.86 44.28,146.83 44.65,146.79 45.01,146.76 45.37,146.72 45.74,146.68 46.10,146.64 46.47,146.59 46.83,146.55 47.19,146.50 47.56,146.45 47.92,146.40 48.29,146.34 48.65,146.28 49.01,146.22 49.38,146.16 49.74,146.09 50.11,146.02 50.47,145.95 50.83,145.87 51.20,145.79 51.56,145.70 51.93,145.61 52.29,145.52 52.65,145.42 53.02,145.32 53.38,145.21 53.75,145.10 54.11,144.98 54.47,144.86 54.84,144.73 55.20,144.60 55.57,144.46 55.93,144.31 56.29,144.16 56.66,144.00 57.02,143.83 57.39,143.66 57.75,143.47 58.11,143.28 58.48,143.08 58.84,142.88 59.21,142.66 59.57,142.44 59.93,142.20 60.30,141.96 60.66,141.71 61.03,141.44 61.39,141.17 61.75,140.88 62.12,140.59 62.48,140.28 62.85,139.96 63.21,139.63 63.57,139.29 63.94,138.93 64.30,138.57 64.67,138.19 65.03,137.79 65.39,137.39 65.76,136.97 66.12,136.54 66.49,136.09 66.85,135.63 67.21,135.16 67.58,134.67 67.94,134.17 68.31,133.65 68.67,133.13 69.03,132.59 69.40,132.03 69.76,131.46 70.13,130.88 70.49,130.28 70.85,129.68 71.22,129.06 71.58,128.42 71.95,127.78 72.31,127.12 72.67,126.46 73.04,125.78 73.40,125.09 73.77,124.39 74.13,123.68 74.49,122.96 74.86,122.24 75.22,121.50 75.59,120.76 75.95,120.01 76.31,119.26 76.68,118.50 77.04,117.73 77.41,116.96 77.77,116.19 78.13,115.41 78.50,114.63 78.86,113.85 79.23,113.07 79.59,112.28 79.95,111.50 80.32,110.72 80.68,109.94 81.05,109.16 81.41,108.38 81.77,107.60 82.14,106.83 82.50,106.06 82.87,105.30 83.23,104.54 83.59,103.79 83.96,103.04 84.32,102.30 84.69,101.56 85.05,100.83 85.41,100.11 85.78,99.40 86.14,98.69 86.51,98.00 86.87,97.31 87.23,96.63 87.60,95.95 87.96,95.29 88.33,94.64 88.69,94.00 89.05,93.36 89.42,92.74 89.78,92.12 90.15,91.52 90.51,90.92 90.87,90.34 91.24,89.76 91.60,89.20 91.97,88.65 92.33,88.10 92.69,87.57 93.06,87.04 93.42,86.53 93.79,86.03 94.15,85.53 94.51,85.05 94.88,84.58 95.24,84.11 95.61,83.66 95.97,83.21 96.33,82.78 96.70,82.35 97.06,81.94 97.43,81.53 97.79,81.13 98.15,80.74 98.52,80.36 98.88,79.99 99.25,79.63 99.61,79.27 99.97,78.93 100.34,78.59 100.70,78.26 101.07,77.94 101.43,77.62 101.79,77.32 102.16,77.02 102.52,76.73 102.89,76.44 103.25,76.17 103.61,75.90 103.98,75.63 104.34,75.38 104.71,75.12 105.07,74.88 105.43,74.64 105.80,74.41 106.16,74.19 106.53,73.97 106.89,73.75 107.25,73.54 107.62,73.34 107.98,73.14 108.35,72.95 108.71,72.76 109.07,72.58 109.44,72.40 109.80,72.23 110.17,72.06 110.53,71.90 110.89,71.74 111.26,71.59 111.62,71.44 111.99,71.29 112.35,71.15 112.71,71.01 113.08,70.87 113.44,70.74 113.81,70.61 114.17,70.49 114.53,70.37 114.90,70.25 115.26,70.14 115.63,70.03 115.99,69.92 116.35,69.81 116.72,69.71 117.08,69.61 117.45,69.52 117.81,69.42 118.17,69.33 118.54,69.24 118.90,69.16 119.27,69.07 119.63,68.99 119.99,68.91 120.36,68.84 120.72,68.76 121.09,68.69 121.45,68.62 121.81,68.55 122.18,68.49 122.54,68.42 122.91,68.36 123.27,68.30 123.63,68.24 124.00,68.18 124.36,68.13 124.73,68.07 125.09,68.02 125.45,67.97 125.82,67.92 126.18,67.87 126.55,67.82 126.91,67.78 127.27,67.73 127.64,67.69 128.00,67.65 128.37,67.61 128.73,67.57 129.09,67.53 129.46,67.49 129.82,67.46 130.19,67.42 130.55,67.39 130.91,67.35 131.28,67.32 131.64,67.29 132.01,67.26 132.37,67.23 132.73,67.20 133.10,67.18 133.46,67.15 133.83,67.12 134.19,67.10 134.55,67.07 134.92,67.05 135.28,67.02 135.65,67.00 136.01,66.98 136.37,66.96 136.74,66.94 137.10,66.92 137.47,66.90 137.83,66.88 138.19,66.86 138.56,66.84 138.92,66.83 139.29,66.81 139.65,66.79 140.01,66.78 140.38,66.76 140.74,66.75 141.11,66.73 141.47,66.72 141.83,66.70 142.20,66.69 142.56,66.68 142.93,66.67 143.29,66.65 143.65,66.64 144.02,66.63 144.38,66.62 144.75,66.61 145.11,66.60 145.47,66.59 145.84,66.58 146.20,66.57 146.57,66.56 146.93,66.55 147.29,66.54 147.66,66.53 148.02,66.52 148.39,66.52 148.75,66.51 149.11,66.50 149.48,66.49 149.84,66.49 150.21,66.48 150.57,66.47 150.93,66.47 151.30,66.46 151.66,66.45 152.03,66.45 152.39,66.44 152.75,66.44 153.12,66.43 153.48,66.43 153.85,66.42 154.21,66.42 154.57,66.41 154.94,66.41 155.30,66.40 155.67,66.40 156.03,66.39 156.39,66.39 156.76,66.38 157.12,66.38 157.49,66.38 157.85,66.37 158.21,66.37 158.58,66.37 158.94,66.36 159.31,66.36 159.67,66.36 160.03,66.35 160.40,66.35 160.76,66.35 161.13,66.34 161.49,66.34 161.85,66.34 162.22,66.34 162.58,66.33 162.95,66.33 163.31,66.33 163.67,66.33 164.04,66.32 164.40,66.32 164.77,66.32 165.13,66.32 165.49,66.32 165.86,66.31 166.22,66.31 166.59,66.31 166.95,66.31 167.31,66.31 167.68,66.31 168.04,66.30 168.41,66.30 168.77,66.30 169.13,66.30 169.50,66.30 169.86,66.30 170.23,66.29 170.59,66.29 170.95,66.29 171.32,66.29 171.68,66.29 172.05,66.29 172.41,66.29 172.77,66.29 173.14,66.29 173.50,66.28 173.87,66.28 174.23,66.28 174.59,66.28 174.96,66.28 175.32,66.28 175.69,66.28 176.05,66.28 176.41,66.28 176.78,66.28 177.14,66.28 177.51,66.27 177.87,66.27 178.23,66.27 178.60,66.27 178.96,66.27 179.33,66.27 179.69,66.27 180.05,66.27 180.42,66.27 180.78,66.27 181.15,66.27 181.51,66.27 181.87,66.27 182.24,66.27 182.60,66.27 182.97,66.27 183.33,66.27 183.69,66.26 184.06,66.26 184.42,66.26 184.79,66.26 185.15,66.26 185.51,66.26 185.88,66.26 186.24,66.26 186.61,66.26 186.97,66.26 187.33,66.26 187.70,66.26 188.06,66.26 188.43,66.26 188.79,66.26 189.15,66.26 189.52,66.26 189.88,66.26 190.25,66.26 190.61,66.26 190.97,66.26 191.34,66.26 191.70,66.26 192.07,66.26 192.43,66.26 192.79,66.26 193.16,66.26 193.52,66.26 193.89,66.26 194.25,66.26 194.61,66.26 194.98,66.26 195.34,66.26 195.71,66.26 196.07,66.26 196.43,66.26 196.80,66.25 197.16,66.25 197.53,66.25 197.89,66.25 198.25,66.25 198.62,66.25 198.98,66.25 199.35,66.25 199.71,66.25 200.07,66.25 200.44,66.25 200.80,66.25 201.17,66.25 201.53,66.25 201.89,66.25 202.26,66.25 202.62,66.25 202.99,66.25 203.35,66.25 203.71,66.25 204.08,66.25 204.44,66.25 204.81,66.25 205.17,66.25 205.53,66.25 205.90,66.25 206.26,66.25 206.63,66.25 206.99,66.25 207.35,66.25 207.72,66.25 208.08,66.25 208.45,66.25 208.81,66.25 209.17,66.25 209.54,66.25 209.90,66.25 210.27,66.25 210.63,66.25 210.99,66.25 211.36,66.25 211.72,66.25 212.09,66.25 212.45,66.25" fill="none" stroke="#f0342c" stroke-width="1.0" stroke-linejoin="round"/>
<line x1="30.45" x2="30.45" y1="152.5" y2="153.9" stroke="#333" stroke-width="0.6"/>
<line x1="75.95" x2="75.95" y1="152.5" y2="153.9" stroke="#333" stroke-width="0.6"/>
<line x1="121.45" x2="121.45" y1="152.5" y2="153.9" stroke="#333" stroke-width="0.6"/>
<line x1="166.95" x2="166.95" y1="152.5" y2="153.9" stroke="#333" stroke-width="0.6"/>
<line x1="212.45" x2="212.45" y1="152.5" y2="153.9" stroke="#333" stroke-width="0.6"/>
<line y1="147.40" y2="147.40" x1="19.8" x2="21.2" stroke="#333" stroke-width="0.6"/>
<line y1="121.95" y2="121.95" x1="19.8" x2="21.2" stroke="#333" stroke-width="0.6"/>
<line y1="96.50" y2="96.50" x1="19.8" x2="21.2" stroke="#333" stroke-width="0.6"/>
<line y1="71.05" y2="71.05" x1="19.8" x2="21.2" stroke="#333" stroke-width="0.6"/>
<line y1="45.60" y2="45.60" x1="19.8" x2="21.2" stroke="#333" stroke-width="0.6"/>
</g>
<g transform="translate(460,177.5)">
<rect x="172.7" y="11.9" width="9.2" height="25.1" fill="#c6c6c6"/>
<rect x="172.7" y="18.0" width="9.2" height="0.6" fill="#e4e4e4"/>
<rect x="172.7" y="28.0" width="9.2" height="0.5" fill="#d4d4d4"/>
<line x1="173.3" x2="181.3" y1="13.60" y2="13.60" stroke="#1c771c" stroke-width="1.2"/>
<line x1="173.3" x2="181.3" y1="23.30" y2="23.30" stroke="#1f3dff" stroke-width="1.2"/>
<line x1="173.3" x2="181.3" y1="32.60" y2="32.60" stroke="#f0342c" stroke-width="1.2"/>
<rect x="21.2" y="40.3" width="200.60000000000002" height="112.2" fill="#b3b3b3"/>
<line x1="53.20" x2="53.20" y1="40.3" y2="152.5" stroke="#dcdcdc" stroke-width="1.0"/>
<line x1="98.70" x2="98.70" y1="40.3" y2="152.5" stroke="#dcdcdc" stroke-width="1.0"/>
<line x1="144.20" x2="144.20" y1="40.3" y2="152.5" stroke="#dcdcdc" stroke-width="1.0"/>
<line x1="189.70" x2="189.70" y1="40.3" y2="152.5" stroke="#dcdcdc" stroke-width="1.0"/>
<line y1="134.68" y2="134.68" x1="21.2" x2="221.8" stroke="#dcdcdc" stroke-width="1.0"/>
<line y1="109.22" y2="109.22" x1="21.2" x2="221.8" stroke="#dcdcdc" stroke-width="1.0"/>
<line y1="83.78" y2="83.78" x1="21.2" x2="221.8" stroke="#dcdcdc" stroke-width="1.0"/>
<line y1="58.32" y2="58.32" x1="21.2" x2="221.8" stroke="#dcdcdc" stroke-width="1.0"/>
<line x1="30.45" x2="30.45" y1="40.3" y2="152.5" stroke="#f2f2f2" stroke-width="1.2"/>
<line x1="75.95" x2="75.95" y1="40.3" y2="152.5" stroke="#f2f2f2" stroke-width="1.2"/>
<line x1="121.45" x2="121.45" y1="40.3" y2="152.5" stroke="#f2f2f2" stroke-width="1.2"/>
<line x1="166.95" x2="166.95" y1="40.3" y2="152.5" stroke="#f2f2f2" stroke-width="1.2"/>
<line x1="212.45" x2="212.45" y1="40.3" y2="152.5" stroke="#f2f2f2" stroke-width="1.2"/>
<line y1="147.40" y2="147.40" x1="21.2" x2="221.8" stroke="#f2f2f2" stroke-width="1.2"/>
<line y1="121.95" y2="121.95" x1="21.2" x2="221.8" stroke="#f2f2f2" stroke-width="1.2"/>
<line y1="96.50" y2="96.50" x1="21.2" x2="221.8" stroke="#f2f2f2" stroke-width="1.2"/>
<line y1="71.05" y2="71.05" x1="21.2" x2="221.8" stroke="#f2f2f2" stroke-width="1.2"/>
<line y1="45.60" y2="45.60" x1="21.2" x2="221.8" stroke="#f2f2f2" stroke-width="1.2"/>
<rect x="21.55" y="40.65" width="199.90000000000003" height="111.5" fill="none" stroke="#a4a4a4" stroke-width="0.7"/>
<polyline points="30.45,45.70 30.81,45.71 31.18,45.72 31.54,45.73 31.91,45.74 32.27,45.74 32.63,45.75 33.00,45.75 33.36,45.76 33.73,45.76 34.09,45.77 34.45,45.77 34.82,45.77 35.18,45.78 35.55,45.78 35.91,45.78 36.27,45.78 36.64,45.78 37.00,45.79 37.37,45.79 37.73,45.79 38.09,45.79 38.46,45.79 38.82,45.79 39.19,45.79 39.55,45.80 39.91,45.80 40.28,45.80 40.64,45.80 41.01,45.80 41.37,45.80 41.73,45.80 42.10,45.80 42.46,45.80 42.83,45.80 43.19,45.80 43.55,45.80 43.92,45.80 44.28,45.80 44.65,45.80 45.01,45.80 45.37,45.80 45.74,45.80 46.10,45.80 46.47,45.80 46.83,45.80 47.19,45.80 47.56,45.80 47.92,45.80 48.29,45.80 48.65,45.80 49.01,45.80 49.38,45.80 49.74,45.80 50.11,45.80 50.47,45.80 50.83,45.80 51.20,45.80 51.56,45.80 51.93,45.80 52.29,45.80 52.65,45.80 53.02,45.80 53.38,45.80 53.75,45.80 54.11,45.80 54.47,45.80 54.84,45.80 55.20,45.80 55.57,45.80 55.93,45.80 56.29,45.80 56.66,45.80 57.02,45.80 57.39,45.80 57.75,45.80 58.11,45.80 58.48,45.80 58.84,45.80 59.21,45.80 59.57,45.80 59.93,45.80 60.30,45.80 60.66,45.80 61.03,45.80 61.39,45.80 61.75,45.80 62.12,45.80 62.48,45.80 62.85,45.80 63.21,45.80 63.57,45.80 63.94,45.80 64.30,45.80 64.67,45.80 65.03,45.80 65.39,45.80 65.76,45.80 66.12,45.80 66.49,45.80 66.85,45.80 67.21,45.80 67.58,45.80 67.94,45.80 68.31,45.80 68.67,45.80 69.03,45.80 69.40,45.80 69.76,45.80 70.13,45.80 70.49,45.80 70.85,45.80 71.22,45.80 71.58,45.80 71.95,45.80 72.31,45.80 72.67,45.80 73.04,45.80 73.40,45.80 73.77,45.80 74.13,45.80 74.49,45.80 74.86,45.80 75.22,45.80 75.59,45.80 75.95,45.80 76.31,45.80 76.68,45.80 77.04,45.80 77.41,45.80 77.77,45.80 78.13,45.80 78.50,45.80 78.86,45.80 79.23,45.80 79.59,45.80 79.95,45.80 80.32,45.80 80.68,45.80 81.05,45.80 81.41,45.80 81.77,45.80 82.14,45.80 82.50,45.80 82.87,45.80 83.23,45.80 83.59,45.80 83.96,45.80 84.32,45.80 84.69,45.80 85.05,45.80 85.41,45.80 85.78,45.80 86.14,45.80 86.51,45.80 86.87,45.80 87.23,45.80 87.60,45.80 87.96,45.80 88.33,45.80 88.69,45.80 89.05,45.80 89.42,45.80 89.78,45.80 90.15,45.80 90.51,45.80 90.87,45.80 91.24,45.80 91.60,45.80 91.97,45.80 92.33,45.80 92.69,45.80 93.06,45.80 93.42,45.80 93.79,45.80 94.15,45.80 94.51,45.80 94.88,45.80 95.24,45.80 95.61,45.80 95.97,45.80 96.33,45.80 96.70,45.80 97.06,45.80 97.43,45.80 97.79,45.80 98.15,45.80 98.52,45.80 98.88,45.80 99.25,45.80 99.61,45.80 99.97,45.80 100.34,45.80 100.70,45.80 101.07,45.80 101.43,45.80 101.79,45.80 102.16,45.80 102.52,45.80 102.89,45.80 103.25,45.80 103.61,45.80 103.98,45.80 104.34,45.80 104.71,45.80 105.07,45.80 105.43,45.80 105.80,45.80 106.16,45.80 106.53,45.80 106.89,45.80 107.25,45.80 107.62,45.80 107.98,45.80 108.35,45.80 108.71,45.80 109.07,45.80 109.44,45.80 109.80,45.80 110.17,45.80 110.53,45.80 110.89,45.80 111.26,45.80 111.62,45.80 111.99,45.80 112.35,45.80 112.71,45.80 113.08,45.80 113.44,45.80 113.81,45.80 114.17,45.80 114.53,45.80 114.90,45.80 115.26,45.80 115.63,45.80 115.99,45.80 116.35,45.80 116.72,45.80 117.08,45.80 117.45,45.80 117.81,45.80 118.17,45.80 118.54,45.80 118.90,45.80 119.27,45.80 119.63,45.80 119.99,45.80 120.36,45.80 120.72,45.80 121.09,45.80 121.45,45.80 121.81,45.80 122.18,45.80 122.54,45.80 122.91,45.80 123.27,45.80 123.63,45.80 124.00,45.80 124.36,45.80 124.73,45.80 125.09,45.80 125.45,45.80 125.82,45.80 126.18,45.80 126.55,45.80 126.91,45.80 127.27,45.80 127.64,45.80 128.00,45.80 128.37,45.80 128.73,45.80 129.09,45.80 129.46,45.80 129.82,45.80 130.19,45.80 130.55,45.80 130.91,45.80 131.28,45.80 131.64,45.80 132.01,45.80 132.37,45.80 132.73,45.80 133.10,45.80 133.46,45.80 133.83,45.80 134.19,45.80 134.55,45.80 134.92,45.80 135.28,45.80 135.65,45.80 136.01,45.80 136.37,45.80 136.74,45.80 137.10,45.80 137.47,45.80 137.83,45.80 138.19,45.80 138.56,45.80 138.92,45.80 139.29,45.80 139.65,45.80 140.01,45.80 140.38,45.80 140.74,45.80 141.11,45.80 141.47,45.80 141.83,45.80 142.20,45.80 142.56,45.80 142.93,45.80 143.29,45.80 143.65,45.80 144.02,45.80 144.38,45.80 144.75,45.80 145.11,45.80 145.47,45.80 145.84,45.80 146.20,45.80 146.57,45.80 146.93,45.80 147.29,45.80 147.66,45.80 148.02,45.80 148.39,45.80 148.75,45.80 149.11,45.80 149.48,45.80 149.84,45.80 150.21,45.80 150.57,45.80 150.93,45.80 151.30,45.80 151.66,45.80 152.03,45.80 152.39,45.80 152.75,45.80 153.12,45.80 153.48,45.80 153.85,45.80 154.21,45.80 154.57,45.80 154.94,45.80 155.30,45.80 155.67,45.80 156.03,45.80 156.39,45.80 156.76,45.80 157.12,45.80 157.49,45.80 157.85,45.80 158.21,45.80 158.58,45.80 158.94,45.80 159.31,45.80 159.67,45.80 160.03,45.80 160.40,45.80 160.76,45.80 161.13,45.80 161.49,45.80 161.85,45.80 162.22,45.80 162.58,45.80 162.95,45.80 163.31,45.80 163.67,45.80 164.04,45.80 164.40,45.80 164.77,45.80 165.13,45.80 165.49,45.80 165.86,45.80 166.22,45.80 166.59,45.80 166.95,45.80 167.31,45.80 167.68,45.80 168.04,45.80 168.41,45.80 168.77,45.80 169.13,45.80 169.50,45.80 169.86,45.80 170.23,45.80 170.59,45.80 170.95,45.80 171.32,45.80 171.68,45.80 172.05,45.80 172.41,45.80 172.77,45.80 173.14,45.80 173.50,45.80 173.87,45.80 174.23,45.80 174.59,45.80 174.96,45.80 175.32,45.80 175.69,45.80 176.05,45.80 176.41,45.80 176.78,45.80 177.14,45.80 177.51,45.80 177.87,45.80 178.23,45.80 178.60,45.80 178.96,45.80 179.33,45.80 179.69,45.80 180.05,45.80 180.42,45.80 180.78,45.80 181.15,45.80 181.51,45.80 181.87,45.80 182.24,45.80 182.60,45.80 182.97,45.80 183.33,45.80 183.69,45.80 184.06,45.80 184.42,45.80 184.79,45.80 185.15,45.80 185.51,45.80 185.88,45.80 186.24,45.80 186.61,45.80 186.97,45.80 187.33,45.80 187.70,45.80 188.06,45.80 188.43,45.80 188.79,45.80 189.15,45.80 189.52,45.80 189.88,45.80 190.25,45.80 190.61,45.80 190.97,45.80 191.34,45.80 191.70,45.80 192.07,45.80 192.43,45.80 192.79,45.80 193.16,45.80 193.52,45.80 193.89,45.80 194.25,45.80 194.61,45.80 194.98,45.80 195.34,45.80 195.71,45.80 196.07,45.80 196.43,45.80 196.80,45.80 197.16,45.80 197.53,45.80 197.89,45.80 198.25,45.80 198.62,45.80 198.98,45.80 199.35,45.80 199.71,45.80 200.07,45.80 200.44,45.80 200.80,45.80 201.17,45.80 201.53,45.80 201.89,45.80 202.26,45.80 202.62,45.80 202.99,45.80 203.35,45.80 203.71,45.80 204.08,45.80 204.44,45.80 204.81,45.80 205.17,45.80 205.53,45.80 205.90,45.80 206.26,45.80 206.63,45.80 206.99,45.80 207.35,45.80 207.72,45.80 208.08,45.80 208.45,45.80 208.81,45.80 209.17,45.80 209.54,45.80 209.90,45.80 210.27,45.80 210.63,45.80 210.99,45.80 211.36,45.80 211.72,45.80 212.09,45.80 212.45,45.80" fill="none" stroke="#1c771c" stroke-width="1.0" stroke-linejoin="round"/>
<polyline points="30.45,147.30 30.81,147.31 31.18,147.32 31.54,147.32 31.91,147.33 32.27,147.34 32.63,147.34 33.00,147.35 33.36,147.35 33.73,147.36 34.09,147.36 34.45,147.37 34.82,147.37 35.18,147.37 35.55,147.37 35.91,147.38 36.27,147.38 36.64,147.38 37.00,147.38 37.37,147.38 37.73,147.39 38.09,147.39 38.46,147.39 38.82,147.39 39.19,147.39 39.55,147.39 39.91,147.39 40.28,147.39 40.64,147.39 41.01,147.39 41.37,147.39 41.73,147.40 42.10,147.40 42.46,147.40 42.83,147.40 43.19,147.40 43.55,147.40 43.92,147.40 44.28,147.40 44.65,147.40 45.01,147.40 45.37,147.40 45.74,147.40 46.10,147.40 46.47,147.40 46.83,147.40 47.19,147.40 47.56,147.40 47.92,147.40 48.29,147.40 48.65,147.40 49.01,147.40 49.38,147.40 49.74,147.40 50.11,147.40 50.47,147.40 50.83,147.40 51.20,147.40 51.56,147.40 51.93,147.40 52.29,147.40 52.65,147.40 53.02,147.40 53.38,147.40 53.75,147.40 54.11,147.40 54.47,147.40 54.84,147.40 55.20,147.40 55.57,147.40 55.93,147.40 56.29,147.40 56.66,147.40 57.02,147.40 57.39,147.40 57.75,147.40 58.11,147.40 58.48,147.40 58.84,147.40 59.21,147.40 59.57,147.40 59.93,147.40 60.30,147.40 60.66,147.40 61.03,147.40 61.39,147.40 61.75,147.40 62.12,147.40 62.48,147.40 62.85,147.40 63.21,147.40 63.57,147.40 63.94,147.40 64.30,147.40 64.67,147.40 65.03,147.40 65.39,147.40 65.76,147.40 66.12,147.40 66.49,147.40 66.85,147.40 67.21,147.40 67.58,147.40 67.94,147.40 68.31,147.40 68.67,147.40 69.03,147.40 69.40,147.40 69.76,147.40 70.13,147.40 70.49,147.40 70.85,147.40 71.22,147.40 71.58,147.40 71.95,147.40 72.31,147.40 72.67,147.40 73.04,147.40 73.40,147.40 73.77,147.40 74.13,147.40 74.49,147.40 74.86,147.40 75.22,147.40 75.59,147.40 75.95,147.40 76.31,147.40 76.68,147.40 77.04,147.40 77.41,147.40 77.77,147.40 78.13,147.40 78.50,147.40 78.86,147.40 79.23,147.40 79.59,147.40 79.95,147.40 80.32,147.40 80.68,147.40 81.05,147.40 81.41,147.40 81.77,147.40 82.14,147.40 82.50,147.40 82.87,147.40 83.23,147.40 83.59,147.40 83.96,147.40 84.32,147.40 84.69,147.40 85.05,147.40 85.41,147.40 85.78,147.40 86.14,147.40 86.51,147.40 86.87,147.40 87.23,147.40 87.60,147.40 87.96,147.40 88.33,147.40 88.69,147.40 89.05,147.40 89.42,147.40 89.78,147.40 90.15,147.40 90.51,147.40 90.87,147.40 91.24,147.40 91.60,147.40 91.97,147.40 92.33,147.40 92.69,147.40 93.06,147.40 93.42,147.40 93.79,147.40 94.15,147.40 94.51,147.40 94.88,147.40 95.24,147.40 95.61,147.40 95.97,147.40 96.33,147.40 96.70,147.40 97.06,147.40 97.43,147.40 97.79,147.40 98.15,147.40 98.52,147.40 98.88,147.40 99.25,147.40 99.61,147.40 99.97,147.40 100.34,147.40 100.70,147.40 101.07,147.40 101.43,147.40 101.79,147.40 102.16,147.40 102.52,147.40 102.89,147.40 103.25,147.40 103.61,147.40 103.98,147.40 104.34,147.40 104.71,147.40 105.07,147.40 105.43,147.40 105.80,147.40 106.16,147.40 106.53,147.40 106.89,147.40 107.25,147.40 107.62,147.40 107.98,147.40 108.35,147.40 108.71,147.40 109.07,147.40 109.44,147.40 109.80,147.40 110.17,147.40 110.53,147.40 110.89,147.40 111.26,147.40 111.62,147.40 111.99,147.40 112.35,147.40 112.71,147.40 113.08,147.40 113.44,147.40 113.81,147.40 114.17,147.40 114.53,147.40 114.90,147.40 115.26,147.40 115.63,147.40 115.99,147.40 116.35,147.40 116.72,147.40 117.08,147.40 117.45,147.40 117.81,147.40 118.17,147.40 118.54,147.40 118.90,147.40 119.27,147.40 119.63,147.40 119.99,147.40 120.36,147.40 120.72,147.40 121.09,147.40 121.45,147.40 121.81,147.40 122.18,147.40 122.54,147.40 122.91,147.40 123.27,147.40 123.63,147.40 124.00,147.40 124.36,147.40 124.73,147.40 125.09,147.40 125.45,147.40 125.82,147.40 126.18,147.40 126.55,147.40 126.91,147.40 127.27,147.40 127.64,147.40 128.00,147.40 128.37,147.40 128.73,147.40 129.09,147.40 129.46,147.40 129.82,147.40 130.19,147.40 130.55,147.40 130.91,147.40 131.28,147.40 131.64,147.40 132.01,147.40 132.37,147.40 132.73,147.40 133.10,147.40 133.46,147.40 133.83,147.40 134.19,147.40 134.55,147.40 134.92,147.40 135.28,147.40 135.65,147.40 136.01,147.40 136.37,147.40 136.74,147.40 137.10,147.40 137.47,147.40 137.83,147.40 138.19,147.40 138.56,147.40 138.92,147.40 139.29,147.40 139.65,147.40 140.01,147.40 140.38,147.40 140.74,147.40 141.11,147.40 141.47,147.40 141.83,147.40 142.20,147.40 142.56,147.40 142.93,147.40 143.29,147.40 143.65,147.40 144.02,147.40 144.38,147.40 144.75,147.40 145.11,147.40 145.47,147.40 145.84,147.40 146.20,147.40 146.57,147.40 146.93,147.40 147.29,147.40 147.66,147.40 148.02,147.40 148.39,147.40 148.75,147.40 149.11,147.40 149.48,147.40 149.84,147.40 150.21,147.40 150.57,147.40 150.93,147.40 151.30,147.40 151.66,147.40 152.03,147.40 152.39,147.40 152.75,147.40 153.12,147.40 153.48,147.40 153.85,147.40 154.21,147.40 154.57,147.40 154.94,147.40 155.30,147.40 155.67,147.40 156.03,147.40 156.39,147.40 156.76,147.40 157.12,147.40 157.49,147.40 157.85,147.40 158.21,147.40 158.58,147.40 158.94,147.40 159.31,147.40 159.67,147.40 160.03,147.40 160.40,147.40 160.76,147.40 161.13,147.40 161.49,147.40 161.85,147.40 162.22,147.40 162.58,147.40 162.95,147.40 163.31,147.40 163.67,147.40 164.04,147.40 164.40,147.40 164.77,147.40 165.13,147.40 165.49,147.40 165.86,147.40 166.22,147.40 166.59,147.40 166.95,147.40 167.31,147.40 167.68,147.40 168.04,147.40 168.41,147.40 168.77,147.40 169.13,147.40 169.50,147.40 169.86,147.40 170.23,147.40 170.59,147.40 170.95,147.40 171.32,147.40 171.68,147.40 172.05,147.40 172.41,147.40 172.77,147.40 173.14,147.40 173.50,147.40 173.87,147.40 174.23,147.40 174.59,147.40 174.96,147.40 175.32,147.40 175.69,147.40 176.05,147.40 176.41,147.40 176.78,147.40 177.14,147.40 177.51,147.40 177.87,147.40 178.23,147.40 178.60,147.40 178.96,147.40 179.33,147.40 179.69,147.40 180.05,147.40 180.42,147.40 180.78,147.40 181.15,147.40 181.51,147.40 181.87,147.40 182.24,147.40 182.60,147.40 182.97,147.40 183.33,147.40 183.69,147.40 184.06,147.40 184.42,147.40 184.79,147.40 185.15,147.40 185.51,147.40 185.88,147.40 186.24,147.40 186.61,147.40 186.97,147.40 187.33,147.40 187.70,147.40 188.06,147.40 188.43,147.40 188.79,147.40 189.15,147.40 189.52,147.40 189.88,147.40 190.25,147.40 190.61,147.40 190.97,147.40 191.34,147.40 191.70,147.40 192.07,147.40 192.43,147.40 192.79,147.40 193.16,147.40 193.52,147.40 193.89,147.40 194.25,147.40 194.61,147.40 194.98,147.40 195.34,147.40 195.71,147.40 196.07,147.40 196.43,147.40 196.80,147.40 197.16,147.40 197.53,147.40 197.89,147.40 198.25,147.40 198.62,147.40 198.98,147.40 199.35,147.40 199.71,147.40 200.07,147.40 200.44,147.40 200.80,147.40 201.17,147.40 201.53,147.40 201.89,147.40 202.26,147.40 202.62,147.40 202.99,147.40 203.35,147.40 203.71,147.40 204.08,147.40 204.44,147.40 204.81,147.40 205.17,147.40 205.53,147.40 205.90,147.40 206.26,147.40 206.63,147.40 206.99,147.40 207.35,147.40 207.72,147.40 208.08,147.40 208.45,147.40 208.81,147.40 209.17,147.40 209.54,147.40 209.90,147.40 210.27,147.40 210.63,147.40 210.99,147.40 211.36,147.40 211.72,147.40 212.09,147.40 212.45,147.40" fill="none" stroke="#1f3dff" stroke-width="1.0" stroke-linejoin="round"/>
<polyline points="30.45,147.40 30.81,147.38 31.18,147.36 31.54,147.35 31.91,147.33 32.27,147.32 32.63,147.31 33.00,147.30 33.36,147.29 33.73,147.28 34.09,147.27 34.45,147.26 34.82,147.26 35.18,147.25 35.55,147.25 35.91,147.24 36.27,147.24 36.64,147.23 37.00,147.23 37.37,147.23 37.73,147.22 38.09,147.22 38.46,147.22 38.82,147.22 39.19,147.22 39.55,147.21 39.91,147.21 40.28,147.21 40.64,147.21 41.01,147.21 41.37,147.21 41.73,147.21 42.10,147.20 42.46,147.20 42.83,147.20 43.19,147.20 43.55,147.20 43.92,147.20 44.28,147.20 44.65,147.20 45.01,147.20 45.37,147.20 45.74,147.20 46.10,147.20 46.47,147.20 46.83,147.20 47.19,147.20 47.56,147.20 47.92,147.20 48.29,147.20 48.65,147.20 49.01,147.20 49.38,147.20 49.74,147.20 50.11,147.20 50.47,147.20 50.83,147.20 51.20,147.20 51.56,147.20 51.93,147.20 52.29,147.20 52.65,147.20 53.02,147.20 53.38,147.20 53.75,147.20 54.11,147.20 54.47,147.20 54.84,147.20 55.20,147.20 55.57,147.20 55.93,147.20 56.29,147.20 56.66,147.20 57.02,147.20 57.39,147.20 57.75,147.20 58.11,147.20 58.48,147.20 58.84,147.20 59.21,147.20 59.57,147.20 59.93,147.20 60.30,147.20 60.66,147.20 61.03,147.20 61.39,147.20 61.75,147.20 62.12,147.20 62.48,147.20 62.85,147.20 63.21,147.20 63.57,147.20 63.94,147.20 64.30,147.20 64.67,147.20 65.03,147.20 65.39,147.20 65.76,147.20 66.12,147.20 66.49,147.20 66.85,147.20 67.21,147.20 67.58,147.20 67.94,147.20 68.31,147.20 68.67,147.20 69.03,147.20 69.40,147.20 69.76,147.20 70.13,147.20 70.49,147.20 70.85,147.20 71.22,147.20 71.58,147.20 71.95,147.20 72.31,147.20 72.67,147.20 73.04,147.20 73.40,147.20 73.77,147.20 74.13,147.20 74.49,147.20 74.86,147.20 75.22,147.20 75.59,147.20 75.95,147.20 76.31,147.20 76.68,147.20 77.04,147.20 77.41,147.20 77.77,147.20 78.13,147.20 78.50,147.20 78.86,147.20 79.23,147.20 79.59,147.20 79.95,147.20 80.32,147.20 80.68,147.20 81.05,147.20 81.41,147.20 81.77,147.20 82.14,147.20 82.50,147.20 82.87,147.20 83.23,147.20 83.59,147.20 83.96,147.20 84.32,147.20 84.69,147.20 85.05,147.20 85.41,147.20 85.78,147.20 86.14,147.20 86.51,147.20 86.87,147.20 87.23,147.20 87.60,147.20 87.96,147.20 88.33,147.20 88.69,147.20 89.05,147.20 89.42,147.20 89.78,147.20 90.15,147.20 90.51,147.20 90.87,147.20 91.24,147.20 91.60,147.20 91.97,147.20 92.33,147.20 92.69,147.20 93.06,147.20 93.42,147.20 93.79,147.20 94.15,147.20 94.51,147.20 94.88,147.20 95.24,147.20 95.61,147.20 95.97,147.20 96.33,147.20 96.70,147.20 97.06,147.20 97.43,147.20 97.79,147.20 98.15,147.20 98.52,147.20 98.88,147.20 99.25,147.20 99.61,147.20 99.97,147.20 100.34,147.20 100.70,147.20 101.07,147.20 101.43,147.20 101.79,147.20 102.16,147.20 102.52,147.20 102.89,147.20 103.25,147.20 103.61,147.20 103.98,147.20 104.34,147.20 104.71,147.20 105.07,147.20 105.43,147.20 105.80,147.20 106.16,147.20 106.53,147.20 106.89,147.20 107.25,147.20 107.62,147.20 107.98,147.20 108.35,147.20 108.71,147.20 109.07,147.20 109.44,147.20 109.80,147.20 110.17,147.20 110.53,147.20 110.89,147.20 111.26,147.20 111.62,147.20 111.99,147.20 112.35,147.20 112.71,147.20 113.08,147.20 113.44,147.20 113.81,147.20 114.17,147.20 114.53,147.20 114.90,147.20 115.26,147.20 115.63,147.20 115.99,147.20 116.35,147.20 116.72,147.20 117.08,147.20 117.45,147.20 117.81,147.20 118.17,147.20 118.54,147.20 118.90,147.20 119.27,147.20 119.63,147.20 119.99,147.20 120.36,147.20 120.72,147.20 121.09,147.20 121.45,147.20 121.81,147.20 122.18,147.20 122.54,147.20 122.91,147.20 123.27,147.20 123.63,147.20 124.00,147.20 124.36,147.20 124.73,147.20 125.09,147.20 125.45,147.20 125.82,147.20 126.18,147.20 126.55,147.20 126.91,147.20 127.27,147.20 127.64,147.20 128.00,147.20 128.37,147.20 128.73,147.20 129.09,147.20 129.46,147.20 129.82,147.20 130.19,147.20 130.55,147.20 130.91,147.20 131.28,147.20 131.64,147.20 132.01,147.20 132.37,147.20 132.73,147.20 133.10,147.20 133.46,147.20 133.83,147.20 134.19,147.20 134.55,147.20 134.92,147.20 135.28,147.20 135.65,147.20 136.01,147.20 136.37,147.20 136.74,147.20 137.10,147.20 137.47,147.20 137.83,147.20 138.19,147.20 138.56,147.20 138.92,147.20 139.29,147.20 139.65,147.20 140.01,147.20 140.38,147.20 140.74,147.20 141.11,147.20 141.47,147.20 141.83,147.20 142.20,147.20 142.56,147.20 142.93,147.20 143.29,147.20 143.65,147.20 144.02,147.20 144.38,147.20 144.75,147.20 145.11,147.20 145.47,147.20 145.84,147.20 146.20,147.20 146.57,147.20 146.93,147.20 147.29,147.20 147.66,147.20 148.02,147.20 148.39,147.20 148.75,147.20 149.11,147.20 149.48,147.20 149.84,147.20 150.21,147.20 150.57,147.20 150.93,147.20 151.30,147.20 151.66,147.20 152.03,147.20 152.39,147.20 152.75,147.20 153.12,147.20 153.48,147.20 153.85,147.20 154.21,147.20 154.57,147.20 154.94,147.20 155.30,147.20 155.67,147.20 156.03,147.20 156.39,147.20 156.76,147.20 157.12,147.20 157.49,147.20 157.85,147.20 158.21,147.20 158.58,147.20 158.94,147.20 159.31,147.20 159.67,147.20 160.03,147.20 160.40,147.20 160.76,147.20 161.13,147.20 161.49,147.20 161.85,147.20 162.22,147.20 162.58,147.20 162.95,147.20 163.31,147.20 163.67,147.20 164.04,147.20 164.40,147.20 164.77,147.20 165.13,147.20 165.49,147.20 165.86,147.20 166.22,147.20 166.59,147.20 166.95,147.20 167.31,147.20 167.68,147.20 168.04,147.20 168.41,147.20 168.77,147.20 169.13,147.20 169.50,147.20 169.86,147.20 170.23,147.20 170.59,147.20 170.95,147.20 171.32,147.20 171.68,147.20 172.05,147.20 172.41,147.20 172.77,147.20 173.14,147.20 173.50,147.20 173.87,147.20 174.23,147.20 174.59,147.20 174.96,147.20 175.32,147.20 175.69,147.20 176.05,147.20 176.41,147.20 176.78,147.20 177.14,147.20 177.51,147.20 177.87,147.20 178.23,147.20 178.60,147.20 178.96,147.20 179.33,147.20 179.69,147.20 180.05,147.20 180.42,147.20 180.78,147.20 181.15,147.20 181.51,147.20 181.87,147.20 182.24,147.20 182.60,147.20 182.97,147.20 183.33,147.20 183.69,147.20 184.06,147.20 184.42,147.20 184.79,147.20 185.15,147.20 185.51,147.20 185.88,147.20 186.24,147.20 186.61,147.20 186.97,147.20 187.33,147.20 187.70,147.20 188.06,147.20 188.43,147.20 188.79,147.20 189.15,147.20 189.52,147.20 189.88,147.20 190.25,147.20 190.61,147.20 190.97,147.20 191.34,147.20 191.70,147.20 192.07,147.20 192.43,147.20 192.79,147.20 193.16,147.20 193.52,147.20 193.89,147.20 194.25,147.20 194.61,147.20 194.98,147.20 195.34,147.20 195.71,147.20 196.07,147.20 196.43,147.20 196.80,147.20 197.16,147.20 197.53,147.20 197.89,147.20 198.25,147.20 198.62,147.20 198.98,147.20 199.35,147.20 199.71,147.20 200.07,147.20 200.44,147.20 200.80,147.20 201.17,147.20 201.53,147.20 201.89,147.20 202.26,147.20 202.62,147.20 202.99,147.20 203.35,147.20 203.71,147.20 204.08,147.20 204.44,147.20 204.81,147.20 205.17,147.20 205.53,147.20 205.90,147.20 206.26,147.20 206.63,147.20 206.99,147.20 207.35,147.20 207.72,147.20 208.08,147.20 208.45,147.20 208.81,147.20 209.17,147.20 209.54,147.20 209.90,147.20 210.27,147.20 210.63,147.20 210.99,147.20 211.36,147.20 211.72,147.20 212.09,147.20 212.45,147.20" fill="none" stroke="#f0342c" stroke-width="1.0" stroke-linejoin="round"/>
<line x1="30.45" x2="30.45" y1="152.5" y2="153.9" stroke="#333" stroke-width="0.6"/>
<line x1="75.95" x2="75.95" y1="152.5" y2="153.9" stroke="#333" stroke-width="0.6"/>
<line x1="121.45" x2="121.45" y1="152.5" y2="153.9" stroke="#333" stroke-width="0.6"/>
<line x1="166.95" x2="166.95" y1="152.5" y2="153.9" stroke="#333" stroke-width="0.6"/>
<line x1="212.45" x2="212.45" y1="152.5" y2="153.9" stroke="#333" stroke-width="0.6"/>
<line y1="147.40" y2="147.40" x1="19.8" x2="21.2" stroke="#333" stroke-width="0.6"/>
<line y1="121.95" y2="121.95" x1="19.8" x2="21.2" stroke="#333" stroke-width="0.6"/>
<line y1="96.50" y2="96.50" x1="19.8" x2="21.2" stroke="#333" stroke-width="0.6"/>
<line y1="71.05" y2="71.05" x1="19.8" x2="21.2" stroke="#333" stroke-width="0.6"/>
<line y1="45.60" y2="45.60" x1="19.8" x2="21.2" stroke="#333" stroke-width="0.6"/>
</g>
</g>
<g transform="translate(0,0)"><text x="3.24" y="10.5" font-family="Liberation Sans" font-size="12.4" fill="#000" stroke="#000">A</text>
<text class="ttl" x="50.8" y="20.2" font-family="Liberation Sans" font-size="7.15" font-weight="bold" text-anchor="middle" fill="#000" stroke="#000">SIR Model: Basic</text>
<text class="sub" x="50.8" y="29.4" font-family="Liberation Sans" font-size="5" word-spacing="0.8" text-anchor="middle" fill="#1a1a1a" stroke="#1a1a1a">β=5e-04, γ=0.05, μ=0</text>
<text x="184.8" y="15.80" font-family="Liberation Sans" font-size="5.55" fill="#1a1a1a" stroke="#1a1a1a">Susceptible</text>
<text x="184.8" y="25.20" font-family="Liberation Sans" font-size="5.55" fill="#1a1a1a" stroke="#1a1a1a">Infected</text>
<text x="184.8" y="34.50" font-family="Liberation Sans" font-size="5.55" fill="#1a1a1a" stroke="#1a1a1a">Recovered</text>
<text x="30.45" y="159.1" font-family="Liberation Sans" font-size="4.9" text-anchor="middle" fill="#4d4d4d" stroke="#4d4d4d">0</text>
<text x="75.95" y="159.1" font-family="Liberation Sans" font-size="4.9" text-anchor="middle" fill="#4d4d4d" stroke="#4d4d4d">25</text>
<text x="121.45" y="159.1" font-family="Liberation Sans" font-size="4.9" text-anchor="middle" fill="#4d4d4d" stroke="#4d4d4d">50</text>
<text x="166.95" y="159.1" font-family="Liberation Sans" font-size="4.9" text-anchor="middle" fill="#4d4d4d" stroke="#4d4d4d">75</text>
<text x="212.45" y="159.1" font-family="Liberation Sans" font-size="4.9" text-anchor="middle" fill="#4d4d4d" stroke="#4d4d4d">100</text>
<text x="18.6" y="149.50" font-family="Liberation Sans" font-size="4.9" text-anchor="end" fill="#4d4d4d" stroke="#4d4d4d">0</text>
<text x="18.6" y="124.05" font-family="Liberation Sans" font-size="4.9" text-anchor="end" fill="#4d4d4d" stroke="#4d4d4d">250</text>
<text x="18.6" y="98.60" font-family="Liberation Sans" font-size="4.9" text-anchor="end" fill="#4d4d4d" stroke="#4d4d4d">500</text>
<text x="18.6" y="73.15" font-family="Liberation Sans" font-size="4.9" text-anchor="end" fill="#4d4d4d" stroke="#4d4d4d">750</text>
<text x="18.6" y="47.70" font-family="Liberation Sans" font-size="4.9" text-anchor="end" fill="#4d4d4d" stroke="#4d4d4d">1000</text>
<text x="121.45" y="165.5" font-family="Liberation Sans" font-size="6.1" text-anchor="middle" fill="#000" stroke="#000">Time (days)</text>
<text transform="translate(5.4,96.50) rotate(-90)" font-family="Liberation Sans" font-size="6.0" text-anchor="middle" fill="#000" stroke="#000">Proportion</text></g>
<g transform="translate(230,0)"><text x="1.98" y="10.5" font-family="Liberation Sans" font-size="12.4" fill="#000" stroke="#000">B</text>
<text class="ttl" x="50.5" y="20.2" font-family="Liberation Sans" font-size="7.15" font-weight="bold" text-anchor="middle" fill="#000" stroke="#000">SIR Model: Basic</text>
<text class="sub" x="50.5" y="29.4" font-family="Liberation Sans" font-size="5" word-spacing="0.8" text-anchor="middle" fill="#1a1a1a" stroke="#1a1a1a">β=5e-04, γ=0.0625, μ=0</text>
<text x="184.8" y="15.80" font-family="Liberation Sans" font-size="5.55" fill="#1a1a1a" stroke="#1a1a1a">Susceptible</text>
<text x="184.8" y="25.20" font-family="Liberation Sans" font-size="5.55" fill="#1a1a1a" stroke="#1a1a1a">Infected</text>
<text x="184.8" y="34.50" font-family="Liberation Sans" font-size="5.55" fill="#1a1a1a" stroke="#1a1a1a">Recovered</text>
<text x="30.45" y="159.1" font-family="Liberation Sans" font-size="4.9" text-anchor="middle" fill="#4d4d4d" stroke="#4d4d4d">0</text>
<text x="75.95" y="159.1" font-family="Liberation Sans" font-size="4.9" text-anchor="middle" fill="#4d4d4d" stroke="#4d4d4d">25</text>
<text x="121.45" y="159.1" font-family="Liberation Sans" font-size="4.9" text-anchor="middle" fill="#4d4d4d" stroke="#4d4d4d">50</text>
<text x="166.95" y="159.1" font-family="Liberation Sans" font-size="4.9" text-anchor="middle" fill="#4d4d4d" stroke="#4d4d4d">75</text>
<text x="212.45" y="159.1" font-family="Liberation Sans" font-size="4.9" text-anchor="middle" fill="#4d4d4d" stroke="#4d4d4d">100</text>
<text x="18.6" y="149.50" font-family="Liberation Sans" font-size="4.9" text-anchor="end" fill="#4d4d4d" stroke="#4d4d4d">0</text>
<text x="18.6" y="124.05" font-family="Liberation Sans" font-size="4.9" text-anchor="end" fill="#4d4d4d" stroke="#4d4d4d">250</text>
<text x="18.6" y="98.60" font-family="Liberation Sans" font-size="4.9" text-anchor="end" fill="#4d4d4d" stroke="#4d4d4d">500</text>
<text x="18.6" y="73.15" font-family="Liberation Sans" font-size="4.9" text-anchor="end" fill="#4d4d4d" stroke="#4d4d4d">750</text>
<text x="18.6" y="47.70" font-family="Liberation Sans" font-size="4.9" text-anchor="end" fill="#4d4d4d" stroke="#4d4d4d">1000</text>
<text x="121.45" y="165.5" font-family="Liberation Sans" font-size="6.1" text-anchor="middle" fill="#000" stroke="#000">Time (days)</text>
<text transform="translate(5.4,96.50) rotate(-90)" font-family="Liberation Sans" font-size="6.0" text-anchor="middle" fill="#000" stroke="#000">Proportion</text></g>
<g transform="translate(460,0)"><text x="0.63" y="10.5" font-family="Liberation Sans" font-size="12.4" fill="#000" stroke="#000">C</text>
<text class="ttl" x="54.1" y="20.2" font-family="Liberation Sans" font-size="7.15" font-weight="bold" text-anchor="middle" fill="#000" stroke="#000">SIR Model: Basic</text>
<text class="sub" x="54.1" y="29.4" font-family="Liberation Sans" font-size="5" word-spacing="0.8" text-anchor="middle" fill="#1a1a1a" stroke="#1a1a1a">β=5e-04, γ=0.08333333, μ=0</text>
<text x="184.8" y="15.80" font-family="Liberation Sans" font-size="5.55" fill="#1a1a1a" stroke="#1a1a1a">Susceptible</text>
<text x="184.8" y="25.20" font-family="Liberation Sans" font-size="5.55" fill="#1a1a1a" stroke="#1a1a1a">Infected</text>
<text x="184.8" y="34.50" font-family="Liberation Sans" font-size="5.55" fill="#1a1a1a" stroke="#1a1a1a">Recovered</text>
<text x="30.45" y="159.1" font-family="Liberation Sans" font-size="4.9" text-anchor="middle" fill="#4d4d4d" stroke="#4d4d4d">0</text>
<text x="75.95" y="159.1" font-family="Liberation Sans" font-size="4.9" text-anchor="middle" fill="#4d4d4d" stroke="#4d4d4d">25</text>
<text x="121.45" y="159.1" font-family="Liberation Sans" font-size="4.9" text-anchor="middle" fill="#4d4d4d" stroke="#4d4d4d">50</text>
<text x="166.95" y="159.1" font-family="Liberation Sans" font-size="4.9" text-anchor="middle" fill="#4d4d4d" stroke="#4d4d4d">75</text>
<text x="212.45" y="159.1" font-family="Liberation Sans" font-size="4.9" text-anchor="middle" fill="#4d4d4d" stroke="#4d4d4d">100</text>
<text x="18.6" y="149.50" font-family="Liberation Sans" font-size="4.9" text-anchor="end" fill="#4d4d4d" stroke="#4d4d4d">0</text>
<text x="18.6" y="124.05" font-family="Liberation Sans" font-size="4.9" text-anchor="end" fill="#4d4d4d" stroke="#4d4d4d">250</text>
<text x="18.6" y="98.60" font-family="Liberation Sans" font-size="4.9" text-anchor="end" fill="#4d4d4d" stroke="#4d4d4d">500</text>
<text x="18.6" y="73.15" font-family="Liberation Sans" font-size="4.9" text-anchor="end" fill="#4d4d4d" stroke="#4d4d4d">750</text>
<text x="18.6" y="47.70" font-family="Liberation Sans" font-size="4.9" text-anchor="end" fill="#4d4d4d" stroke="#4d4d4d">1000</text>
<text x="121.45" y="165.5" font-family="Liberation Sans" font-size="6.1" text-anchor="middle" fill="#000" stroke="#000">Time (days)</text>
<text transform="translate(5.4,96.50) rotate(-90)" font-family="Liberation Sans" font-size="6.0" text-anchor="middle" fill="#000" stroke="#000">Proportion</text></g>
<g transform="translate(0,177.5)"><text x="2.78" y="11.0" font-family="Liberation Sans" font-size="12.4" fill="#000" stroke="#000">D</text>
<text class="ttl" x="50.8" y="20.2" font-family="Liberation Sans" font-size="7.15" font-weight="bold" text-anchor="middle" fill="#000" stroke="#000">SIR Model: Basic</text>
<text class="sub" x="50.8" y="29.4" font-family="Liberation Sans" font-size="5" word-spacing="0.8" text-anchor="middle" fill="#1a1a1a" stroke="#1a1a1a">β=5e-04, γ=0.125, μ=0</text>
<text x="184.8" y="15.80" font-family="Liberation Sans" font-size="5.55" fill="#1a1a1a" stroke="#1a1a1a">Susceptible</text>
<text x="184.8" y="25.20" font-family="Liberation Sans" font-size="5.55" fill="#1a1a1a" stroke="#1a1a1a">Infected</text>
<text x="184.8" y="34.50" font-family="Liberation Sans" font-size="5.55" fill="#1a1a1a" stroke="#1a1a1a">Recovered</text>
<text x="30.45" y="159.1" font-family="Liberation Sans" font-size="4.9" text-anchor="middle" fill="#4d4d4d" stroke="#4d4d4d">0</text>
<text x="75.95" y="159.1" font-family="Liberation Sans" font-size="4.9" text-anchor="middle" fill="#4d4d4d" stroke="#4d4d4d">25</text>
<text x="121.45" y="159.1" font-family="Liberation Sans" font-size="4.9" text-anchor="middle" fill="#4d4d4d" stroke="#4d4d4d">50</text>
<text x="166.95" y="159.1" font-family="Liberation Sans" font-size="4.9" text-anchor="middle" fill="#4d4d4d" stroke="#4d4d4d">75</text>
<text x="212.45" y="159.1" font-family="Liberation Sans" font-size="4.9" text-anchor="middle" fill="#4d4d4d" stroke="#4d4d4d">100</text>
<text x="18.6" y="149.50" font-family="Liberation Sans" font-size="4.9" text-anchor="end" fill="#4d4d4d" stroke="#4d4d4d">0</text>
<text x="18.6" y="124.05" font-family="Liberation Sans" font-size="4.9" text-anchor="end" fill="#4d4d4d" stroke="#4d4d4d">250</text>
<text x="18.6" y="98.60" font-family="Liberation Sans" font-size="4.9" text-anchor="end" fill="#4d4d4d" stroke="#4d4d4d">500</text>
<text x="18.6" y="73.15" font-family="Liberation Sans" font-size="4.9" text-anchor="end" fill="#4d4d4d" stroke="#4d4d4d">750</text>
<text x="18.6" y="47.70" font-family="Liberation Sans" font-size="4.9" text-anchor="end" fill="#4d4d4d" stroke="#4d4d4d">1000</text>
<text x="121.45" y="165.5" font-family="Liberation Sans" font-size="6.1" text-anchor="middle" fill="#000" stroke="#000">Time (days)</text>
<text transform="translate(5.4,96.50) rotate(-90)" font-family="Liberation Sans" font-size="6.0" text-anchor="middle" fill="#000" stroke="#000">Proportion</text></g>
<g transform="translate(230,177.5)"><text x="1.33" y="11.0" font-family="Liberation Sans" font-size="12.4" fill="#000" stroke="#000">E</text>
<text class="ttl" x="50.8" y="20.2" font-family="Liberation Sans" font-size="7.15" font-weight="bold" text-anchor="middle" fill="#000" stroke="#000">SIR Model: Basic</text>
<text class="sub" x="50.8" y="29.4" font-family="Liberation Sans" font-size="5" word-spacing="0.8" text-anchor="middle" fill="#1a1a1a" stroke="#1a1a1a">β=5e-04, γ=0.25, μ=0</text>
<text x="184.8" y="15.80" font-family="Liberation Sans" font-size="5.55" fill="#1a1a1a" stroke="#1a1a1a">Susceptible</text>
<text x="184.8" y="25.20" font-family="Liberation Sans" font-size="5.55" fill="#1a1a1a" stroke="#1a1a1a">Infected</text>
<text x="184.8" y="34.50" font-family="Liberation Sans" font-size="5.55" fill="#1a1a1a" stroke="#1a1a1a">Recovered</text>
<text x="30.45" y="159.1" font-family="Liberation Sans" font-size="4.9" text-anchor="middle" fill="#4d4d4d" stroke="#4d4d4d">0</text>
<text x="75.95" y="159.1" font-family="Liberation Sans" font-size="4.9" text-anchor="middle" fill="#4d4d4d" stroke="#4d4d4d">25</text>
<text x="121.45" y="159.1" font-family="Liberation Sans" font-size="4.9" text-anchor="middle" fill="#4d4d4d" stroke="#4d4d4d">50</text>
<text x="166.95" y="159.1" font-family="Liberation Sans" font-size="4.9" text-anchor="middle" fill="#4d4d4d" stroke="#4d4d4d">75</text>
<text x="212.45" y="159.1" font-family="Liberation Sans" font-size="4.9" text-anchor="middle" fill="#4d4d4d" stroke="#4d4d4d">100</text>
<text x="18.6" y="149.50" font-family="Liberation Sans" font-size="4.9" text-anchor="end" fill="#4d4d4d" stroke="#4d4d4d">0</text>
<text x="18.6" y="124.05" font-family="Liberation Sans" font-size="4.9" text-anchor="end" fill="#4d4d4d" stroke="#4d4d4d">250</text>
<text x="18.6" y="98.60" font-family="Liberation Sans" font-size="4.9" text-anchor="end" fill="#4d4d4d" stroke="#4d4d4d">500</text>
<text x="18.6" y="73.15" font-family="Liberation Sans" font-size="4.9" text-anchor="end" fill="#4d4d4d" stroke="#4d4d4d">750</text>
<text x="18.6" y="47.70" font-family="Liberation Sans" font-size="4.9" text-anchor="end" fill="#4d4d4d" stroke="#4d4d4d">1000</text>
<text x="121.45" y="165.5" font-family="Liberation Sans" font-size="6.1" text-anchor="middle" fill="#000" stroke="#000">Time (days)</text>
<text transform="translate(5.4,96.50) rotate(-90)" font-family="Liberation Sans" font-size="6.0" text-anchor="middle" fill="#000" stroke="#000">Proportion</text></g>
<g transform="translate(460,177.5)"><text x="0.02" y="11.0" font-family="Liberation Sans" font-size="12.4" fill="#000" stroke="#000">F</text>
<text class="ttl" x="50.5" y="20.2" font-family="Liberation Sans" font-size="7.15" font-weight="bold" text-anchor="middle" fill="#000" stroke="#000">SIR Model: Basic</text>
<text class="sub" x="50.5" y="29.4" font-family="Liberation Sans" font-size="5" word-spacing="0.8" text-anchor="middle" fill="#1a1a1a" stroke="#1a1a1a">β=5e-04, γ=1, μ=0</text>
<text x="184.8" y="15.80" font-family="Liberation Sans" font-size="5.55" fill="#1a1a1a" stroke="#1a1a1a">Susceptible</text>
<text x="184.8" y="25.20" font-family="Liberation Sans" font-size="5.55" fill="#1a1a1a" stroke="#1a1a1a">Infected</text>
<text x="184.8" y="34.50" font-family="Liberation Sans" font-size="5.55" fill="#1a1a1a" stroke="#1a1a1a">Recovered</text>
<text x="30.45" y="159.1" font-family="Liberation Sans" font-size="4.9" text-anchor="middle" fill="#4d4d4d" stroke="#4d4d4d">0</text>
<text x="75.95" y="159.1" font-family="Liberation Sans" font-size="4.9" text-anchor="middle" fill="#4d4d4d" stroke="#4d4d4d">25</text>
<text x="121.45" y="159.1" font-family="Liberation Sans" font-size="4.9" text-anchor="middle" fill="#4d4d4d" stroke="#4d4d4d">50</text>
<text x="166.95" y="159.1" font-family="Liberation Sans" font-size="4.9" text-anchor="middle" fill="#4d4d4d" stroke="#4d4d4d">75</text>
<text x="212.45" y="159.1" font-family="Liberation Sans" font-size="4.9" text-anchor="middle" fill="#4d4d4d" stroke="#4d4d4d">100</text>
<text x="18.6" y="149.50" font-family="Liberation Sans" font-size="4.9" text-anchor="end" fill="#4d4d4d" stroke="#4d4d4d">0</text>
<text x="18.6" y="124.05" font-family="Liberation Sans" font-size="4.9" text-anchor="end" fill="#4d4d4d" stroke="#4d4d4d">250</text>
<text x="18.6" y="98.60" font-family="Liberation Sans" font-size="4.9" text-anchor="end" fill="#4d4d4d" stroke="#4d4d4d">500</text>
<text x="18.6" y="73.15" font-family="Liberation Sans" font-size="4.9" text-anchor="end" fill="#4d4d4d" stroke="#4d4d4d">750</text>
<text x="18.6" y="47.70" font-family="Liberation Sans" font-size="4.9" text-anchor="end" fill="#4d4d4d" stroke="#4d4d4d">1000</text>
<text x="121.45" y="165.5" font-family="Liberation Sans" font-size="6.1" text-anchor="middle" fill="#000" stroke="#000">Time (days)</text>
<text transform="translate(5.4,96.50) rotate(-90)" font-family="Liberation Sans" font-size="6.0" text-anchor="middle" fill="#000" stroke="#000">Proportion</text></g>
</svg></body></html>
